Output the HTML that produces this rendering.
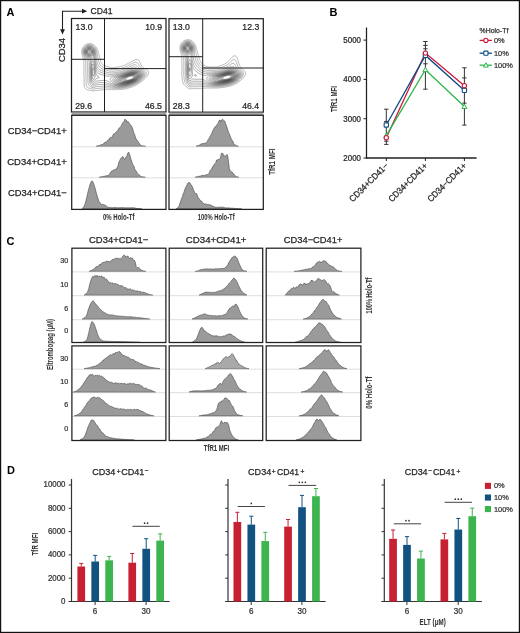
<!DOCTYPE html>
<html><head><meta charset="utf-8"><title>Figure</title>
<style>html,body{margin:0;padding:0;background:#fff;}body{width:520px;height:633px;overflow:hidden;position:relative;font-family:"Liberation Sans",sans-serif;}</style>
</head><body>
<svg width="520" height="633" viewBox="0 0 520 633" style="position:absolute;left:0;top:0;will-change:transform">
<g font-family='"Liberation Sans", sans-serif'>
<defs>
<clipPath id="cb1"><rect x="72" y="19" width="93.5" height="92.5"/></clipPath>
<clipPath id="cb2"><rect x="169.5" y="19" width="93.3" height="92.7"/></clipPath>
</defs>
<rect x="0" y="0" width="520" height="633" fill="#fff" stroke="none" stroke-width="1"/>
<text font-size="11.77" text-anchor="start" fill="#000" transform="translate(6.6 15.8) scale(0.9346 1)" font-weight="bold" >A</text>
<path d="M62.5,30 L62.5,11.2 L83,11.2" fill="none" stroke="#231f20" stroke-width="1.1"/>
<path d="M82,8.8 L87.3,11.2 L82,13.6 Z" fill="#231f20"/>
<path d="M60.1,29.2 L62.5,34.4 L64.9,29.2 Z" fill="#231f20"/>
<text font-size="9.31" text-anchor="start" fill="#231f20" transform="translate(90.6 13.9)" stroke="#231f20" stroke-width="0.25" textLength="22" lengthAdjust="spacingAndGlyphs" >CD41</text>
<text font-size="9.63" text-anchor="start" fill="#231f20" transform="translate(64.8 62) rotate(-90)" stroke="#231f20" stroke-width="0.25" textLength="24" lengthAdjust="spacingAndGlyphs" >CD34</text>
<g fill="none" stroke-width="0.5" clip-path="url(#cb1)">
<path d="M94.5,90.78 L94,90.87 L93.5,90.93 L93,90.95 L92.5,90.92 L92,90.85 L91.52,90.75 L91.25,90.69 L90.75,90.58 L90.36,90.5 L90,90.44 L89.5,90.36 L89,90.29 L88.75,90.25 L88.25,90.16 L87.75,90.05 L87.5,89.98 L87,89.8 L86.75,89.69 L86.41,89.5 L86.05,89.25 L85.76,89 L85.53,88.75 L85.32,88.5 L85.15,88.25 L85,87.99 L84.76,87.5 L84.67,87.25 L84.51,86.75 L84.45,86.5 L84.35,86 L84.28,85.5 L84.25,85.25 L84.21,84.75 L84.18,84.25 L84.16,83.75 L84.15,83.25 L84.14,82.75 L84.14,82.25 L84.14,81.75 L84.13,81.25 L84.13,80.75 L84.13,80.25 L84.12,79.75 L84.11,79.25 L84.1,78.75 L84.09,78.25 L84.07,77.75 L84.05,77.25 L84.02,76.75 L84,76.28 L83.99,76 L83.96,75.5 L83.94,75 L83.93,74.5 L83.91,74 L83.9,73.5 L83.9,73 L83.89,72.5 L83.89,72 L83.89,71.5 L83.89,71 L83.89,70.5 L83.89,70 L83.89,69.5 L83.89,69 L83.89,68.5 L83.89,68 L83.89,67.5 L83.89,67 L83.88,66.5 L83.88,66 L83.88,65.5 L83.88,65 L83.88,64.5 L83.87,64 L83.86,63.5 L83.85,63 L83.83,62.5 L83.81,62 L83.78,61.5 L83.75,61.19 L83.7,60.75 L83.63,60.25 L83.55,59.75 L83.5,59.5 L83.38,59 L83.25,58.52 L83.17,58.25 L83.01,57.75 L82.93,57.5 L82.77,57 L82.68,56.75 L82.52,56.25 L82.43,56 L82.28,55.5 L82.21,55.25 L82.07,54.75 L82,54.44 L81.9,54 L81.81,53.5 L81.75,53 L81.72,52.75 L81.69,52.25 L81.69,51.75 L81.71,51.25 L81.75,50.82 L81.79,50.5 L81.88,50 L82,49.53 L82.08,49.25 L82.25,48.76 L82.35,48.5 L82.5,48.17 L82.71,47.75 L82.85,47.5 L83,47.25 L83.25,46.88 L83.5,46.54 L83.74,46.25 L83.97,46 L84.21,45.75 L84.48,45.5 L84.75,45.27 L85,45.08 L85.25,44.9 L85.5,44.74 L85.91,44.5 L86.25,44.32 L86.5,44.21 L87,44.01 L87.25,43.92 L87.75,43.79 L88,43.73 L88.5,43.64 L89,43.59 L89.5,43.56 L90,43.57 L90.5,43.61 L91,43.68 L91.35,43.75 L91.75,43.84 L92.25,44 L92.5,44.09 L92.88,44.25 L93.25,44.43 L93.5,44.57 L93.78,44.75 L94.13,45 L94.44,45.25 L94.72,45.5 L94.98,45.75 L95.21,46 L95.43,46.25 L95.64,46.5 L95.83,46.75 L96.01,47 L96.25,47.36 L96.49,47.75 L96.64,48 L96.78,48.25 L97,48.69 L97.15,49 L97.26,49.25 L97.48,49.75 L97.58,50 L97.75,50.46 L97.85,50.75 L98,51.2 L98.1,51.5 L98.24,52 L98.32,52.25 L98.45,52.75 L98.51,53 L98.64,53.5 L98.75,53.96 L98.82,54.25 L98.95,54.75 L99.01,55 L99.14,55.5 L99.25,55.94 L99.33,56.25 L99.47,56.75 L99.54,57 L99.68,57.5 L99.75,57.76 L99.89,58.25 L100,58.65 L100.1,59 L100.23,59.5 L100.3,59.75 L100.44,60.25 L100.51,60.5 L100.66,61 L100.75,61.29 L100.9,61.75 L101,62.02 L101.2,62.5 L101.31,62.75 L101.5,63.11 L101.73,63.5 L101.91,63.75 L102.11,64 L102.33,64.25 L102.59,64.5 L102.89,64.75 L103.24,65 L103.5,65.16 L103.75,65.3 L104.14,65.5 L104.5,65.66 L104.75,65.76 L105.25,65.95 L105.5,66.03 L106,66.19 L106.25,66.27 L106.75,66.41 L107.05,66.5 L107.5,66.63 L107.96,66.75 L108.25,66.83 L108.75,66.96 L109,67.02 L109.5,67.14 L109.95,67.25 L110.25,67.31 L110.75,67.41 L111.24,67.5 L111.5,67.54 L112,67.6 L112.5,67.64 L113,67.66 L113.5,67.66 L114,67.64 L114.5,67.6 L115,67.54 L115.33,67.5 L115.75,67.44 L116.25,67.35 L116.75,67.26 L117,67.21 L117.5,67.11 L118,67.01 L118.25,66.96 L118.75,66.85 L119.25,66.75 L119.5,66.7 L120,66.59 L120.4,66.5 L120.75,66.42 L121.25,66.3 L121.5,66.24 L122,66.12 L122.42,66 L122.75,65.9 L123.22,65.75 L123.5,65.65 L123.91,65.5 L124.25,65.37 L124.53,65.25 L125,65.04 L125.25,64.92 L125.61,64.75 L126,64.55 L126.25,64.42 L126.58,64.25 L127,64.02 L127.25,63.89 L127.5,63.75 L127.95,63.5 L128.25,63.33 L128.5,63.19 L128.85,63 L129.25,62.77 L129.5,62.63 L129.75,62.49 L130.19,62.25 L130.5,62.08 L130.75,61.94 L131.09,61.75 L131.5,61.53 L131.75,61.39 L132.02,61.25 L132.5,61 L132.75,60.88 L133.01,60.75 L133.5,60.52 L133.75,60.41 L134.14,60.25 L134.5,60.11 L134.82,60 L135.25,59.87 L135.75,59.76 L136,59.71 L136.5,59.67 L137,59.69 L137.38,59.75 L137.75,59.86 L138.07,60 L138.48,60.25 L138.75,60.48 L139,60.73 L139.22,61 L139.39,61.25 L139.54,61.5 L139.75,61.89 L139.92,62.25 L140.02,62.5 L140.22,63 L140.31,63.25 L140.5,63.75 L140.59,64 L140.75,64.39 L140.9,64.75 L141.02,65 L141.25,65.45 L141.42,65.75 L141.59,66 L141.76,66.25 L142,66.54 L142.25,66.82 L142.5,67.07 L142.75,67.3 L143,67.5 L143.33,67.75 L143.69,68 L144,68.19 L144.25,68.34 L144.53,68.5 L144.98,68.75 L145.25,68.89 L145.5,69.02 L145.92,69.25 L146.25,69.44 L146.5,69.59 L146.75,69.75 L147.09,70 L147.4,70.25 L147.65,70.5 L147.87,70.75 L148.05,71 L148.25,71.35 L148.42,71.75 L148.5,72.07 L148.56,72.5 L148.56,73 L148.5,73.45 L148.44,73.75 L148.28,74.25 L148.18,74.5 L148,74.89 L147.81,75.25 L147.66,75.5 L147.5,75.75 L147.25,76.12 L147,76.46 L146.77,76.75 L146.56,77 L146.34,77.25 L146.12,77.5 L145.88,77.75 L145.64,78 L145.38,78.25 L145.13,78.5 L144.86,78.75 L144.59,79 L144.31,79.25 L144.03,79.5 L143.75,79.74 L143.5,79.96 L143.25,80.17 L143,80.39 L142.75,80.59 L142.5,80.8 L142.25,81 L141.95,81.25 L141.63,81.5 L141.31,81.75 L141,81.98 L140.75,82.17 L140.5,82.36 L140.25,82.53 L139.94,82.75 L139.57,83 L139.25,83.22 L139,83.38 L138.75,83.54 L138.41,83.75 L138,84 L137.75,84.16 L137.5,84.3 L137.16,84.5 L136.75,84.74 L136.5,84.88 L136.25,85.02 L135.81,85.25 L135.5,85.42 L135.25,85.54 L134.83,85.75 L134.5,85.91 L134.25,86.02 L133.75,86.24 L133.5,86.34 L133.11,86.5 L132.75,86.64 L132.46,86.75 L132,86.92 L131.75,87 L131.25,87.18 L131,87.26 L130.5,87.43 L130.25,87.51 L129.75,87.67 L129.49,87.75 L129,87.91 L128.68,88 L128.25,88.13 L127.84,88.25 L127.5,88.35 L127,88.49 L126.75,88.55 L126.25,88.68 L125.95,88.75 L125.5,88.86 L125,88.96 L124.75,89 L124.25,89.1 L123.75,89.17 L123.25,89.24 L123,89.27 L122.5,89.33 L122,89.38 L121.5,89.43 L121,89.47 L120.52,89.5 L120.25,89.52 L119.75,89.55 L119.25,89.57 L118.75,89.59 L118.25,89.6 L117.75,89.61 L117.25,89.62 L116.75,89.62 L116.25,89.61 L115.75,89.61 L115.25,89.6 L114.75,89.6 L114.25,89.59 L113.75,89.59 L113.25,89.58 L112.75,89.58 L112.25,89.57 L111.75,89.57 L111.25,89.57 L110.75,89.57 L110.25,89.57 L109.75,89.58 L109.25,89.58 L108.75,89.59 L108.25,89.6 L107.75,89.62 L107.25,89.63 L106.75,89.65 L106.25,89.67 L105.75,89.69 L105.25,89.72 L104.75,89.74 L104.5,89.76 L104,89.79 L103.5,89.83 L103,89.87 L102.5,89.92 L102,89.96 L101.57,90 L101.25,90.03 L100.75,90.08 L100.25,90.13 L99.75,90.18 L99.25,90.22 L98.94,90.25 L98.5,90.29 L98,90.33 L97.5,90.37 L97,90.4 L96.5,90.45 L96.05,90.5 L95.75,90.54 L95.25,90.63 L94.75,90.73 L94.5,90.78 Z" stroke="#707070"/>
<path d="M94.25,89.04 L93.75,89.14 L93.25,89.2 L92.75,89.2 L92.25,89.13 L91.75,89.01 L91.5,88.94 L91,88.78 L90.75,88.69 L90.25,88.54 L90,88.46 L89.5,88.31 L89.25,88.24 L88.75,88.07 L88.5,87.97 L88.04,87.75 L87.75,87.56 L87.5,87.37 L87.25,87.13 L87,86.82 L86.8,86.5 L86.68,86.25 L86.5,85.8 L86.41,85.5 L86.3,85 L86.25,84.72 L86.19,84.25 L86.15,83.75 L86.12,83.25 L86.1,82.75 L86.09,82.25 L86.08,81.75 L86.08,81.25 L86.07,80.75 L86.07,80.25 L86.06,79.75 L86.05,79.25 L86.04,78.75 L86.03,78.25 L86.01,77.75 L86,77.43 L85.98,77 L85.96,76.5 L85.93,76 L85.91,75.5 L85.89,75 L85.87,74.5 L85.85,74 L85.84,73.5 L85.84,73 L85.83,72.5 L85.83,72 L85.82,71.5 L85.82,71 L85.82,70.5 L85.82,70 L85.82,69.5 L85.82,69 L85.82,68.5 L85.82,68 L85.82,67.5 L85.82,67 L85.82,66.5 L85.82,66 L85.82,65.5 L85.81,65 L85.81,64.5 L85.8,64 L85.78,63.5 L85.76,63 L85.74,62.75 L85.7,62.25 L85.65,61.75 L85.57,61.25 L85.5,60.87 L85.41,60.5 L85.27,60 L85.19,59.75 L85.01,59.25 L84.91,59 L84.75,58.64 L84.58,58.25 L84.46,58 L84.25,57.56 L84.11,57.25 L83.99,57 L83.76,56.5 L83.65,56.25 L83.5,55.88 L83.35,55.5 L83.25,55.22 L83.09,54.75 L83,54.44 L82.88,54 L82.78,53.5 L82.74,53.25 L82.67,52.75 L82.63,52.25 L82.62,51.75 L82.64,51.25 L82.7,50.75 L82.75,50.43 L82.84,50 L82.98,49.5 L83.06,49.25 L83.25,48.78 L83.38,48.5 L83.51,48.25 L83.75,47.83 L83.97,47.5 L84.15,47.25 L84.35,47 L84.57,46.75 L84.81,46.5 L85.08,46.25 L85.38,46 L85.72,45.75 L86,45.56 L86.25,45.42 L86.57,45.25 L87,45.06 L87.25,44.96 L87.75,44.8 L88,44.74 L88.5,44.64 L89,44.59 L89.5,44.57 L90,44.58 L90.5,44.63 L91,44.72 L91.25,44.78 L91.75,44.92 L92,45.01 L92.5,45.23 L92.75,45.35 L93.01,45.5 L93.39,45.75 L93.72,46 L94,46.24 L94.25,46.48 L94.5,46.75 L94.72,47 L94.91,47.25 L95.1,47.5 L95.26,47.75 L95.5,48.14 L95.7,48.5 L95.83,48.75 L96,49.1 L96.17,49.5 L96.27,49.75 L96.45,50.25 L96.54,50.5 L96.69,51 L96.75,51.25 L96.88,51.75 L96.98,52.25 L97.03,52.5 L97.12,53 L97.19,53.5 L97.25,53.91 L97.3,54.25 L97.36,54.75 L97.43,55.25 L97.5,55.75 L97.54,56 L97.62,56.5 L97.71,57 L97.75,57.25 L97.86,57.75 L97.96,58.25 L98.02,58.5 L98.14,59 L98.25,59.46 L98.32,59.75 L98.45,60.25 L98.51,60.5 L98.64,61 L98.75,61.4 L98.85,61.75 L99,62.25 L99.08,62.5 L99.25,63 L99.34,63.25 L99.5,63.63 L99.67,64 L99.8,64.25 L100,64.59 L100.25,64.97 L100.46,65.25 L100.67,65.5 L100.91,65.75 L101.17,66 L101.47,66.25 L101.75,66.46 L102,66.62 L102.25,66.78 L102.65,67 L103,67.17 L103.25,67.29 L103.75,67.49 L104,67.59 L104.45,67.75 L104.75,67.85 L105.23,68 L105.5,68.08 L106,68.23 L106.25,68.3 L106.75,68.44 L107,68.51 L107.5,68.64 L107.92,68.75 L108.25,68.84 L108.75,68.96 L109,69.02 L109.5,69.14 L110,69.24 L110.25,69.29 L110.75,69.38 L111.25,69.46 L111.57,69.5 L112,69.54 L112.5,69.58 L113,69.59 L113.5,69.58 L114,69.56 L114.5,69.52 L114.75,69.49 L115.25,69.43 L115.75,69.35 L116.25,69.27 L116.5,69.23 L117,69.13 L117.5,69.04 L117.75,68.99 L118.25,68.89 L118.75,68.78 L119,68.73 L119.5,68.63 L120,68.52 L120.25,68.47 L120.75,68.36 L121.25,68.25 L121.5,68.19 L122,68.08 L122.3,68 L122.75,67.88 L123.22,67.75 L123.5,67.66 L124,67.5 L124.25,67.41 L124.68,67.25 L125,67.12 L125.3,67 L125.75,66.8 L126,66.68 L126.38,66.5 L126.75,66.32 L127,66.19 L127.37,66 L127.75,65.8 L128,65.66 L128.31,65.5 L128.75,65.26 L129,65.12 L129.25,64.98 L129.67,64.75 L130,64.57 L130.25,64.43 L130.58,64.25 L131,64.02 L131.25,63.89 L131.51,63.75 L131.99,63.5 L132.25,63.36 L132.5,63.24 L133,63 L133.25,62.89 L133.57,62.75 L134,62.58 L134.25,62.49 L134.75,62.35 L135.23,62.25 L135.5,62.22 L136,62.21 L136.27,62.25 L136.75,62.39 L137,62.51 L137.34,62.75 L137.6,63 L137.82,63.25 L138,63.5 L138.25,63.9 L138.45,64.25 L138.58,64.5 L138.75,64.83 L138.97,65.25 L139.1,65.5 L139.25,65.76 L139.5,66.15 L139.74,66.5 L139.94,66.75 L140.15,67 L140.38,67.25 L140.64,67.5 L140.92,67.75 L141.22,68 L141.5,68.22 L141.75,68.4 L142,68.58 L142.25,68.76 L142.61,69 L142.99,69.25 L143.25,69.41 L143.5,69.58 L143.76,69.75 L144.13,70 L144.49,70.25 L144.75,70.45 L145,70.65 L145.25,70.87 L145.5,71.12 L145.75,71.4 L146,71.75 L146.14,72 L146.25,72.25 L146.4,72.75 L146.46,73.25 L146.44,73.75 L146.34,74.25 L146.25,74.57 L146.09,75 L145.98,75.25 L145.75,75.68 L145.56,76 L145.4,76.25 L145.23,76.5 L145,76.81 L144.75,77.13 L144.5,77.43 L144.25,77.72 L144,77.99 L143.75,78.25 L143.51,78.5 L143.26,78.75 L143,79 L142.75,79.24 L142.5,79.47 L142.25,79.7 L142,79.93 L141.75,80.14 L141.5,80.36 L141.25,80.57 L141,80.77 L140.72,81 L140.4,81.25 L140.07,81.5 L139.75,81.74 L139.5,81.92 L139.25,82.09 L139,82.26 L138.64,82.5 L138.25,82.75 L138,82.91 L137.75,83.06 L137.43,83.25 L137,83.5 L136.75,83.65 L136.5,83.78 L136.11,84 L135.75,84.19 L135.5,84.32 L135.15,84.5 L134.75,84.7 L134.5,84.82 L134.1,85 L133.75,85.16 L133.5,85.26 L133,85.47 L132.75,85.57 L132.27,85.75 L132,85.85 L131.58,86 L131.25,86.12 L130.85,86.25 L130.5,86.37 L130.09,86.5 L129.75,86.61 L129.3,86.75 L129,86.84 L128.5,86.99 L128.25,87.07 L127.75,87.21 L127.5,87.28 L127,87.42 L126.68,87.5 L126.25,87.61 L125.75,87.73 L125.5,87.78 L125,87.89 L124.5,87.98 L124.25,88.03 L123.75,88.11 L123.25,88.18 L122.75,88.24 L122.5,88.27 L122,88.33 L121.5,88.37 L121,88.41 L120.5,88.44 L120,88.47 L119.5,88.49 L119.11,88.5 L118.75,88.51 L118.25,88.51 L117.75,88.51 L117.25,88.51 L117,88.5 L116.5,88.48 L116,88.47 L115.5,88.44 L115,88.42 L114.5,88.39 L114,88.36 L113.5,88.32 L113,88.29 L112.5,88.25 L112.25,88.23 L111.75,88.2 L111.25,88.16 L110.75,88.13 L110.25,88.09 L109.75,88.06 L109.25,88.02 L108.86,88 L108.5,87.98 L108,87.96 L107.5,87.93 L107,87.92 L106.5,87.9 L106,87.9 L105.5,87.89 L105,87.9 L104.5,87.91 L104,87.92 L103.5,87.94 L103,87.97 L102.5,88 L102.25,88.02 L101.75,88.05 L101.25,88.09 L100.75,88.14 L100.25,88.18 L99.75,88.23 L99.46,88.25 L99,88.29 L98.5,88.33 L98,88.37 L97.5,88.41 L97,88.46 L96.63,88.5 L96.25,88.55 L95.75,88.65 L95.32,88.75 L95,88.83 L94.5,88.97 L94.25,89.04 Z" stroke="#696969"/>
<path d="M122.25,87.52 L121.75,87.56 L121.25,87.6 L120.75,87.64 L120.25,87.66 L119.75,87.68 L119.25,87.69 L118.75,87.69 L118.25,87.69 L117.75,87.67 L117.25,87.65 L116.75,87.63 L116.25,87.59 L115.75,87.55 L115.25,87.51 L115,87.48 L114.5,87.43 L114,87.37 L113.5,87.3 L113.11,87.25 L112.75,87.2 L112.25,87.13 L111.75,87.05 L111.43,87 L111,86.93 L110.5,86.85 L110,86.77 L109.75,86.73 L109.25,86.65 L108.75,86.57 L108.26,86.5 L108,86.46 L107.5,86.4 L107,86.34 L106.5,86.29 L106.1,86.25 L105.75,86.22 L105.25,86.19 L104.75,86.17 L104.25,86.16 L103.75,86.16 L103.25,86.16 L102.75,86.18 L102.25,86.2 L101.75,86.23 L101.37,86.25 L101,86.28 L100.5,86.31 L100,86.35 L99.5,86.39 L99,86.43 L98.5,86.47 L98.17,86.5 L97.75,86.54 L97.25,86.58 L96.75,86.65 L96.25,86.75 L96,86.81 L95.5,86.96 L95.25,87.05 L94.75,87.24 L94.5,87.33 L94.01,87.5 L93.75,87.57 L93.25,87.64 L92.75,87.64 L92.25,87.54 L92,87.46 L91.5,87.25 L91.25,87.13 L91,87 L90.57,86.75 L90.25,86.55 L90,86.39 L89.75,86.21 L89.48,86 L89.21,85.75 L88.98,85.5 L88.75,85.19 L88.51,84.75 L88.4,84.5 L88.25,84.04 L88.18,83.75 L88.08,83.25 L88.02,82.75 L88,82.5 L87.96,82 L87.93,81.5 L87.92,81 L87.9,80.5 L87.89,80 L87.88,79.5 L87.87,79 L87.86,78.5 L87.84,78 L87.83,77.5 L87.81,77 L87.78,76.5 L87.76,76 L87.75,75.75 L87.72,75.25 L87.7,74.75 L87.68,74.25 L87.67,73.75 L87.66,73.25 L87.65,72.75 L87.65,72.25 L87.64,71.75 L87.64,71.25 L87.64,70.75 L87.64,70.25 L87.64,69.75 L87.64,69.25 L87.64,68.75 L87.64,68.25 L87.64,67.75 L87.64,67.25 L87.64,66.75 L87.64,66.25 L87.64,65.75 L87.64,65.25 L87.63,64.75 L87.62,64.25 L87.61,63.75 L87.58,63.25 L87.55,62.75 L87.5,62.32 L87.45,62 L87.36,61.5 L87.25,61.08 L87.15,60.75 L87,60.37 L86.84,60 L86.71,59.75 L86.5,59.37 L86.28,59 L86.12,58.75 L85.96,58.5 L85.75,58.18 L85.5,57.8 L85.3,57.5 L85.14,57.25 L84.99,57 L84.75,56.6 L84.56,56.25 L84.42,56 L84.25,55.65 L84.07,55.25 L83.97,55 L83.78,54.5 L83.7,54.25 L83.56,53.75 L83.5,53.5 L83.4,53 L83.34,52.5 L83.31,52 L83.32,51.5 L83.36,51 L83.44,50.5 L83.5,50.21 L83.62,49.75 L83.75,49.39 L83.91,49 L84.03,48.75 L84.25,48.35 L84.47,48 L84.65,47.75 L84.84,47.5 L85.06,47.25 L85.31,47 L85.58,46.75 L85.9,46.5 L86.25,46.26 L86.5,46.1 L86.75,45.97 L87.22,45.75 L87.5,45.64 L87.98,45.5 L88.25,45.44 L88.75,45.35 L89.25,45.32 L89.75,45.32 L90.25,45.36 L90.75,45.45 L91,45.51 L91.5,45.65 L91.76,45.75 L92.25,45.97 L92.5,46.1 L92.75,46.25 L93.1,46.5 L93.41,46.75 L93.68,47 L93.92,47.25 L94.14,47.5 L94.33,47.75 L94.51,48 L94.75,48.37 L94.97,48.75 L95.09,49 L95.25,49.34 L95.42,49.75 L95.51,50 L95.68,50.5 L95.75,50.75 L95.88,51.25 L95.98,51.75 L96.02,52 L96.1,52.5 L96.16,53 L96.2,53.5 L96.23,54 L96.25,54.49 L96.26,54.75 L96.28,55.25 L96.3,55.75 L96.32,56.25 L96.35,56.75 L96.38,57.25 L96.43,57.75 L96.49,58.25 L96.52,58.5 L96.59,59 L96.67,59.5 L96.75,59.96 L96.8,60.25 L96.9,60.75 L97,61.25 L97.05,61.5 L97.16,62 L97.25,62.41 L97.33,62.75 L97.46,63.25 L97.53,63.5 L97.69,64 L97.78,64.25 L97.97,64.75 L98.08,65 L98.25,65.35 L98.47,65.75 L98.63,66 L98.8,66.25 L99,66.51 L99.25,66.81 L99.5,67.07 L99.75,67.31 L100,67.53 L100.27,67.75 L100.61,68 L101,68.25 L101.25,68.4 L101.5,68.54 L101.92,68.75 L102.25,68.9 L102.5,69.01 L103,69.21 L103.25,69.3 L103.75,69.47 L104,69.56 L104.5,69.71 L104.75,69.79 L105.25,69.93 L105.5,70 L106,70.14 L106.4,70.25 L106.75,70.34 L107.25,70.47 L107.5,70.54 L108,70.66 L108.38,70.75 L108.75,70.84 L109.25,70.94 L109.53,71 L110,71.09 L110.5,71.17 L111,71.23 L111.25,71.26 L111.75,71.3 L112.25,71.33 L112.75,71.33 L113.25,71.32 L113.75,71.29 L114.25,71.25 L114.5,71.23 L115,71.16 L115.5,71.09 L116,71.01 L116.25,70.97 L116.75,70.87 L117.25,70.78 L117.5,70.73 L118,70.63 L118.5,70.53 L118.75,70.48 L119.25,70.37 L119.75,70.27 L120,70.22 L120.5,70.11 L121,70 L121.25,69.95 L121.75,69.83 L122.11,69.75 L122.5,69.66 L123,69.53 L123.25,69.46 L123.75,69.32 L124,69.24 L124.5,69.08 L124.75,69 L125.25,68.82 L125.5,68.72 L126,68.52 L126.25,68.41 L126.62,68.25 L127,68.08 L127.25,67.96 L127.68,67.75 L128,67.59 L128.25,67.47 L128.69,67.25 L129,67.09 L129.25,66.96 L129.66,66.75 L130,66.58 L130.25,66.45 L130.64,66.25 L131,66.07 L131.25,65.95 L131.66,65.75 L132,65.59 L132.25,65.48 L132.75,65.27 L133,65.17 L133.5,65 L133.75,64.93 L134.25,64.83 L134.75,64.79 L135.25,64.82 L135.75,64.97 L136,65.09 L136.25,65.25 L136.57,65.5 L136.83,65.75 L137.07,66 L137.3,66.25 L137.53,66.5 L137.76,66.75 L138,67 L138.25,67.25 L138.52,67.5 L138.82,67.75 L139.13,68 L139.47,68.25 L139.75,68.44 L140,68.61 L140.25,68.77 L140.61,69 L141,69.24 L141.25,69.4 L141.5,69.55 L141.81,69.75 L142.2,70 L142.5,70.2 L142.75,70.37 L143,70.56 L143.25,70.75 L143.56,71 L143.83,71.25 L144.08,71.5 L144.29,71.75 L144.5,72.04 L144.75,72.49 L144.86,72.75 L144.99,73.25 L145.02,73.5 L145.02,74 L144.99,74.25 L144.88,74.75 L144.75,75.14 L144.6,75.5 L144.48,75.75 L144.25,76.16 L144.04,76.5 L143.87,76.75 L143.69,77 L143.5,77.25 L143.25,77.56 L143,77.85 L142.75,78.13 L142.5,78.4 L142.25,78.66 L142,78.91 L141.75,79.15 L141.5,79.39 L141.25,79.62 L141,79.84 L140.75,80.06 L140.5,80.27 L140.23,80.5 L139.91,80.75 L139.59,81 L139.25,81.25 L139,81.43 L138.75,81.6 L138.5,81.77 L138.15,82 L137.76,82.25 L137.5,82.41 L137.25,82.56 L136.93,82.75 L136.5,82.99 L136.25,83.14 L136,83.27 L135.57,83.5 L135.25,83.67 L135,83.79 L134.57,84 L134.25,84.15 L134,84.27 L133.5,84.49 L133.25,84.6 L132.87,84.75 L132.5,84.9 L132.23,85 L131.75,85.18 L131.5,85.26 L131,85.44 L130.75,85.52 L130.25,85.69 L130,85.77 L129.5,85.92 L129.25,86 L128.75,86.15 L128.4,86.25 L128,86.37 L127.52,86.5 L127.25,86.58 L126.75,86.71 L126.5,86.77 L126,86.89 L125.51,87 L125.25,87.06 L124.75,87.16 L124.25,87.25 L124,87.29 L123.5,87.37 L123,87.43 L122.5,87.49 L122.25,87.52 Z" stroke="#636363"/>
<path d="M119.75,87 L119.25,87 L118.88,87 L118.5,86.99 L118,86.97 L117.5,86.94 L117,86.9 L116.5,86.85 L116,86.8 L115.64,86.75 L115.25,86.69 L114.75,86.61 L114.25,86.53 L114,86.48 L113.5,86.38 L113,86.27 L112.75,86.22 L112.25,86.1 L111.85,86 L111.5,85.91 L111,85.78 L110.75,85.71 L110.25,85.57 L110,85.5 L109.5,85.36 L109.1,85.25 L108.75,85.16 L108.25,85.03 L108,84.96 L107.5,84.85 L107.04,84.75 L106.75,84.69 L106.25,84.6 L105.75,84.53 L105.5,84.5 L105,84.45 L104.5,84.41 L104,84.38 L103.5,84.37 L103,84.36 L102.5,84.37 L102,84.39 L101.5,84.41 L101,84.44 L100.5,84.47 L100.13,84.5 L99.75,84.53 L99.25,84.57 L98.75,84.61 L98.25,84.65 L97.75,84.69 L97.26,84.75 L97,84.79 L96.5,84.89 L96.14,85 L95.75,85.14 L95.5,85.25 L95,85.5 L94.75,85.63 L94.5,85.76 L94,85.98 L93.75,86.06 L93.25,86.16 L92.75,86.13 L92.29,86 L92,85.87 L91.75,85.71 L91.46,85.5 L91.18,85.25 L90.94,85 L90.74,84.75 L90.5,84.42 L90.26,84 L90.14,83.75 L90,83.41 L89.86,83 L89.75,82.55 L89.69,82.25 L89.61,81.75 L89.55,81.25 L89.5,80.75 L89.48,80.5 L89.45,80 L89.42,79.5 L89.39,79 L89.37,78.5 L89.35,78 L89.32,77.5 L89.3,77 L89.27,76.5 L89.25,76 L89.24,75.75 L89.21,75.25 L89.19,74.75 L89.17,74.25 L89.16,73.75 L89.14,73.25 L89.14,72.75 L89.13,72.25 L89.12,71.75 L89.12,71.25 L89.12,70.75 L89.12,70.25 L89.12,69.75 L89.13,69.25 L89.13,68.75 L89.14,68.25 L89.14,67.75 L89.15,67.25 L89.16,66.75 L89.17,66.25 L89.17,65.75 L89.18,65.25 L89.19,64.75 L89.19,64.25 L89.19,63.75 L89.19,63.25 L89.17,62.75 L89.13,62.25 L89.08,61.75 L89,61.33 L88.91,61 L88.75,60.54 L88.61,60.25 L88.47,60 L88.25,59.67 L88,59.34 L87.75,59.05 L87.5,58.77 L87.25,58.5 L87.02,58.25 L86.78,58 L86.56,57.75 L86.34,57.5 L86.12,57.25 L85.92,57 L85.73,56.75 L85.5,56.44 L85.25,56.07 L85.05,55.75 L84.91,55.5 L84.75,55.2 L84.54,54.75 L84.43,54.5 L84.25,54 L84.17,53.75 L84.05,53.25 L84,53 L83.93,52.5 L83.89,52 L83.9,51.5 L83.94,51 L84,50.63 L84.08,50.25 L84.23,49.75 L84.32,49.5 L84.5,49.1 L84.68,48.75 L84.83,48.5 L85,48.25 L85.25,47.93 L85.5,47.64 L85.75,47.39 L86,47.17 L86.25,46.98 L86.59,46.75 L87,46.51 L87.25,46.39 L87.62,46.25 L88,46.13 L88.5,46.01 L88.75,45.98 L89.25,45.94 L89.75,45.94 L90.25,46 L90.5,46.04 L91,46.16 L91.27,46.25 L91.75,46.44 L92,46.57 L92.32,46.75 L92.69,47 L93,47.24 L93.25,47.47 L93.5,47.73 L93.73,48 L93.92,48.25 L94.09,48.5 L94.25,48.76 L94.5,49.22 L94.63,49.5 L94.75,49.79 L94.92,50.25 L95,50.5 L95.14,51 L95.24,51.5 L95.29,51.75 L95.36,52.25 L95.41,52.75 L95.44,53.25 L95.45,53.75 L95.45,54.25 L95.45,54.75 L95.43,55.25 L95.42,55.75 L95.41,56.25 L95.41,56.75 L95.42,57.25 L95.43,57.75 L95.47,58.25 L95.5,58.66 L95.54,59 L95.6,59.5 L95.66,60 L95.73,60.5 L95.77,60.75 L95.85,61.25 L95.93,61.75 L96,62.2 L96.05,62.5 L96.14,63 L96.23,63.5 L96.27,63.75 L96.38,64.25 L96.48,64.75 L96.55,65 L96.68,65.5 L96.75,65.75 L96.92,66.25 L97.01,66.5 L97.23,67 L97.37,67.25 L97.51,67.5 L97.75,67.87 L98,68.19 L98.25,68.47 L98.5,68.72 L98.75,68.95 L99,69.15 L99.25,69.34 L99.5,69.52 L99.85,69.75 L100.25,69.99 L100.5,70.13 L100.75,70.26 L101.25,70.49 L101.5,70.6 L101.85,70.75 L102.25,70.9 L102.51,71 L103,71.17 L103.25,71.25 L103.75,71.4 L104.07,71.5 L104.5,71.62 L104.96,71.75 L105.25,71.83 L105.75,71.96 L106,72.03 L106.5,72.15 L106.91,72.25 L107.25,72.33 L107.75,72.44 L108.03,72.5 L108.5,72.59 L109,72.68 L109.41,72.75 L109.75,72.8 L110.25,72.86 L110.75,72.9 L111.25,72.93 L111.75,72.94 L112.25,72.94 L112.75,72.92 L113.25,72.88 L113.75,72.84 L114.25,72.78 L114.5,72.74 L115,72.66 L115.5,72.58 L115.93,72.5 L116.25,72.44 L116.75,72.34 L117.19,72.25 L117.5,72.19 L118,72.08 L118.38,72 L118.75,71.92 L119.25,71.81 L119.53,71.75 L120,71.65 L120.5,71.53 L120.75,71.48 L121.25,71.36 L121.74,71.25 L122,71.19 L122.5,71.06 L122.75,71 L123.25,70.87 L123.67,70.75 L124,70.65 L124.5,70.5 L124.75,70.42 L125.25,70.25 L125.5,70.16 L125.94,70 L126.25,69.88 L126.58,69.75 L127,69.58 L127.25,69.47 L127.75,69.26 L128,69.15 L128.34,69 L128.75,68.82 L129,68.7 L129.46,68.5 L129.75,68.37 L130.02,68.25 L130.5,68.04 L130.75,67.93 L131.19,67.75 L131.5,67.63 L131.85,67.5 L132.25,67.36 L132.63,67.25 L133,67.15 L133.5,67.07 L134,67.03 L134.5,67.05 L135,67.15 L135.3,67.25 L135.75,67.43 L136,67.56 L136.35,67.75 L136.75,67.98 L137,68.12 L137.25,68.27 L137.66,68.5 L138,68.69 L138.25,68.82 L138.58,69 L139,69.22 L139.25,69.34 L139.55,69.5 L140,69.74 L140.25,69.87 L140.5,70 L140.93,70.25 L141.25,70.44 L141.5,70.6 L141.75,70.76 L142.08,71 L142.4,71.25 L142.68,71.5 L142.94,71.75 L143.16,72 L143.35,72.25 L143.51,72.5 L143.75,73 L143.83,73.25 L143.92,73.75 L143.93,74.25 L143.86,74.75 L143.75,75.14 L143.62,75.5 L143.5,75.78 L143.26,76.25 L143.11,76.5 L142.95,76.75 L142.75,77.03 L142.5,77.37 L142.25,77.68 L142,77.98 L141.76,78.25 L141.52,78.5 L141.28,78.75 L141.03,79 L140.77,79.25 L140.5,79.5 L140.25,79.72 L140,79.94 L139.75,80.14 L139.5,80.35 L139.25,80.54 L138.97,80.75 L138.63,81 L138.27,81.25 L138,81.43 L137.75,81.6 L137.5,81.76 L137.1,82 L136.75,82.21 L136.5,82.36 L136.24,82.5 L135.79,82.75 L135.5,82.91 L135.25,83.03 L134.82,83.25 L134.5,83.41 L134.25,83.53 L133.76,83.75 L133.5,83.87 L133.18,84 L132.75,84.18 L132.5,84.28 L132,84.47 L131.75,84.56 L131.25,84.74 L131,84.83 L130.5,84.99 L130.25,85.07 L129.75,85.23 L129.5,85.31 L129,85.46 L128.75,85.53 L128.25,85.68 L127.99,85.75 L127.5,85.89 L127.06,86 L126.75,86.08 L126.25,86.2 L126,86.26 L125.5,86.37 L125,86.47 L124.75,86.52 L124.25,86.61 L123.75,86.69 L123.3,86.75 L123,86.79 L122.5,86.85 L122,86.89 L121.5,86.93 L121,86.96 L120.5,86.98 L120,87 L119.75,87 Z" stroke="#5c5c5c"/>
<path d="M122.75,86.26 L122.25,86.31 L121.75,86.34 L121.25,86.37 L120.75,86.39 L120.25,86.4 L119.75,86.4 L119.25,86.4 L118.75,86.38 L118.25,86.35 L117.75,86.31 L117.25,86.26 L117,86.23 L116.5,86.16 L116,86.08 L115.59,86 L115.25,85.93 L114.75,85.82 L114.47,85.75 L114,85.63 L113.56,85.5 L113.25,85.4 L112.77,85.25 L112.5,85.15 L112.07,85 L111.75,84.88 L111.43,84.75 L111,84.57 L110.75,84.47 L110.25,84.25 L110,84.14 L109.66,84 L109.25,83.82 L109,83.72 L108.5,83.52 L108.25,83.42 L107.78,83.25 L107.5,83.16 L107,83.01 L106.75,82.94 L106.25,82.82 L105.89,82.75 L105.5,82.68 L105,82.61 L104.5,82.57 L104,82.53 L103.5,82.51 L103,82.51 L102.5,82.51 L102,82.53 L101.5,82.55 L101,82.58 L100.5,82.62 L100,82.65 L99.5,82.69 L99,82.73 L98.75,82.75 L98.25,82.79 L97.75,82.84 L97.25,82.9 L96.78,83 L96.5,83.08 L96.06,83.25 L95.75,83.4 L95.5,83.54 L95.18,83.75 L94.8,84 L94.5,84.2 L94.25,84.35 L93.94,84.5 L93.5,84.65 L93,84.68 L92.5,84.53 L92.25,84.38 L92,84.18 L91.75,83.91 L91.5,83.57 L91.32,83.25 L91.2,83 L91,82.5 L90.92,82.25 L90.79,81.75 L90.73,81.5 L90.64,81 L90.56,80.5 L90.5,80 L90.48,79.75 L90.43,79.25 L90.39,78.75 L90.35,78.25 L90.31,77.75 L90.28,77.25 L90.25,76.81 L90.23,76.5 L90.2,76 L90.17,75.5 L90.14,75 L90.12,74.5 L90.1,74 L90.08,73.5 L90.07,73 L90.06,72.5 L90.05,72 L90.05,71.5 L90.04,71 L90.05,70.5 L90.05,70 L90.05,69.5 L90.06,69 L90.07,68.5 L90.08,68 L90.09,67.5 L90.11,67 L90.13,66.5 L90.14,66 L90.17,65.5 L90.19,65 L90.21,64.5 L90.23,64 L90.25,63.66 L90.27,63.25 L90.28,62.75 L90.29,62.25 L90.29,61.75 L90.26,61.25 L90.24,61 L90.15,60.5 L90,60 L89.89,59.75 L89.75,59.5 L89.5,59.17 L89.25,58.91 L89,58.69 L88.75,58.49 L88.43,58.25 L88.09,58 L87.76,57.75 L87.5,57.55 L87.25,57.34 L87,57.12 L86.75,56.89 L86.5,56.63 L86.25,56.36 L86,56.06 L85.76,55.75 L85.59,55.5 L85.43,55.25 L85.25,54.94 L85.02,54.5 L84.91,54.25 L84.75,53.82 L84.65,53.5 L84.53,53 L84.48,52.75 L84.42,52.25 L84.4,51.75 L84.42,51.25 L84.49,50.75 L84.54,50.5 L84.68,50 L84.77,49.75 L85,49.25 L85.13,49 L85.29,48.75 L85.5,48.45 L85.75,48.14 L86,47.88 L86.25,47.65 L86.5,47.45 L86.79,47.25 L87.23,47 L87.5,46.87 L87.82,46.75 L88.25,46.62 L88.75,46.53 L89.03,46.5 L89.5,46.49 L89.75,46.5 L90.25,46.56 L90.75,46.68 L91,46.75 L91.5,46.95 L91.75,47.08 L92.05,47.25 L92.41,47.5 L92.72,47.75 L92.98,48 L93.21,48.25 L93.41,48.5 L93.59,48.75 L93.75,49 L94,49.46 L94.14,49.75 L94.25,50.02 L94.42,50.5 L94.5,50.78 L94.62,51.25 L94.71,51.75 L94.75,52.08 L94.79,52.5 L94.82,53 L94.83,53.5 L94.82,54 L94.79,54.5 L94.76,55 L94.74,55.25 L94.71,55.75 L94.67,56.25 L94.65,56.75 L94.63,57.25 L94.64,57.75 L94.66,58.25 L94.69,58.75 L94.74,59.25 L94.78,59.5 L94.84,60 L94.92,60.5 L94.99,61 L95.03,61.25 L95.12,61.75 L95.19,62.25 L95.25,62.61 L95.31,63 L95.39,63.5 L95.47,64 L95.51,64.25 L95.59,64.75 L95.68,65.25 L95.75,65.64 L95.82,66 L95.93,66.5 L96,66.84 L96.1,67.25 L96.24,67.75 L96.32,68 L96.49,68.5 L96.59,68.75 L96.75,69.1 L96.96,69.5 L97.12,69.75 L97.3,70 L97.5,70.25 L97.75,70.51 L98.02,70.75 L98.34,71 L98.71,71.25 L99,71.43 L99.25,71.58 L99.57,71.75 L100,71.97 L100.25,72.08 L100.63,72.25 L101,72.41 L101.25,72.5 L101.75,72.69 L102,72.78 L102.5,72.95 L102.75,73.02 L103.25,73.18 L103.5,73.25 L104,73.39 L104.41,73.5 L104.75,73.59 L105.25,73.72 L105.5,73.78 L106,73.89 L106.49,74 L106.75,74.05 L107.25,74.15 L107.75,74.24 L108,74.28 L108.5,74.35 L109,74.4 L109.5,74.45 L110,74.47 L110.5,74.48 L111,74.48 L111.5,74.46 L112,74.42 L112.5,74.37 L113,74.31 L113.42,74.25 L113.75,74.2 L114.25,74.11 L114.75,74.01 L115,73.96 L115.5,73.86 L115.98,73.75 L116.25,73.69 L116.75,73.58 L117.08,73.5 L117.5,73.4 L118,73.28 L118.25,73.22 L118.75,73.1 L119.19,73 L119.5,72.92 L120,72.8 L120.25,72.74 L120.75,72.62 L121.23,72.5 L121.5,72.43 L122,72.3 L122.25,72.24 L122.75,72.1 L123.12,72 L123.5,71.89 L123.97,71.75 L124.25,71.66 L124.75,71.51 L125,71.42 L125.5,71.25 L125.75,71.16 L126.2,71 L126.5,70.89 L126.87,70.75 L127.25,70.6 L127.51,70.5 L128,70.3 L128.25,70.2 L128.75,70 L129,69.9 L129.38,69.75 L129.75,69.6 L130.03,69.5 L130.5,69.32 L130.75,69.24 L131.25,69.07 L131.5,68.99 L132,68.85 L132.43,68.75 L132.75,68.69 L133.25,68.62 L133.75,68.6 L134.25,68.61 L134.75,68.68 L135.1,68.75 L135.5,68.85 L135.99,69 L136.25,69.08 L136.71,69.25 L137,69.35 L137.38,69.5 L137.75,69.64 L138.02,69.75 L138.5,69.94 L138.75,70.05 L139.22,70.25 L139.5,70.38 L139.75,70.5 L140.24,70.75 L140.5,70.89 L140.75,71.04 L141.07,71.25 L141.42,71.5 L141.73,71.75 L142,72 L142.23,72.25 L142.43,72.5 L142.6,72.75 L142.75,73.04 L142.92,73.5 L143,73.9 L143.03,74.25 L143,74.64 L142.94,75 L142.79,75.5 L142.7,75.75 L142.5,76.17 L142.32,76.5 L142.17,76.75 L142,77 L141.75,77.35 L141.5,77.67 L141.25,77.97 L141,78.25 L140.77,78.5 L140.52,78.75 L140.27,79 L140,79.25 L139.75,79.48 L139.5,79.69 L139.25,79.9 L139,80.11 L138.75,80.3 L138.48,80.5 L138.14,80.75 L137.77,81 L137.5,81.18 L137.25,81.34 L137,81.5 L136.59,81.75 L136.25,81.95 L136,82.09 L135.7,82.25 L135.25,82.49 L135,82.62 L134.74,82.75 L134.25,82.99 L134,83.11 L133.69,83.25 L133.25,83.44 L133,83.55 L132.5,83.75 L132.25,83.85 L131.85,84 L131.5,84.13 L131.15,84.25 L130.75,84.39 L130.41,84.5 L130,84.63 L129.62,84.75 L129.25,84.86 L128.78,85 L128.5,85.08 L128,85.22 L127.75,85.29 L127.25,85.42 L126.92,85.5 L126.5,85.6 L126,85.72 L125.75,85.77 L125.25,85.88 L124.75,85.97 L124.5,86.02 L124,86.1 L123.5,86.17 L123,86.23 L122.75,86.26 Z" stroke="#565656"/>
<path d="M122.75,85.75 L122.25,85.79 L121.75,85.83 L121.25,85.85 L120.75,85.86 L120.25,85.86 L119.75,85.85 L119.25,85.83 L118.75,85.8 L118.25,85.75 L118,85.73 L117.5,85.66 L117,85.58 L116.57,85.5 L116.25,85.43 L115.75,85.31 L115.5,85.25 L115,85.1 L114.69,85 L114.25,84.85 L114,84.75 L113.5,84.54 L113.25,84.43 L112.86,84.25 L112.5,84.06 L112.25,83.93 L111.93,83.75 L111.51,83.5 L111.25,83.34 L111,83.17 L110.73,83 L110.36,82.75 L110,82.51 L109.75,82.34 L109.5,82.17 L109.23,82 L108.82,81.75 L108.5,81.56 L108.25,81.43 L107.88,81.25 L107.5,81.08 L107.25,80.99 L106.75,80.82 L106.49,80.75 L106,80.64 L105.5,80.55 L105.05,80.5 L104.75,80.47 L104.25,80.45 L103.75,80.44 L103.25,80.45 L102.75,80.47 L102.26,80.5 L102,80.52 L101.5,80.56 L101,80.6 L100.5,80.65 L100,80.7 L99.5,80.75 L99.25,80.77 L98.75,80.81 L98.25,80.85 L97.75,80.89 L97.25,80.96 L97,81 L96.5,81.15 L96.25,81.26 L95.84,81.5 L95.5,81.74 L95.25,81.95 L95,82.16 L94.75,82.38 L94.5,82.59 L94.25,82.77 L93.86,83 L93.5,83.13 L93,83.12 L92.71,83 L92.4,82.75 L92.19,82.5 L92,82.21 L91.78,81.75 L91.69,81.5 L91.54,81 L91.47,80.75 L91.36,80.25 L91.28,79.75 L91.24,79.5 L91.17,79 L91.11,78.5 L91.05,78 L91,77.5 L90.98,77.25 L90.94,76.75 L90.89,76.25 L90.86,75.75 L90.82,75.25 L90.79,74.75 L90.77,74.25 L90.75,73.9 L90.73,73.5 L90.72,73 L90.7,72.5 L90.69,72 L90.69,71.5 L90.69,71 L90.69,70.5 L90.69,70 L90.7,69.5 L90.71,69 L90.72,68.5 L90.74,68 L90.75,67.75 L90.77,67.25 L90.8,66.75 L90.82,66.25 L90.85,65.75 L90.89,65.25 L90.93,64.75 L90.97,64.25 L91,63.87 L91.03,63.5 L91.08,63 L91.12,62.5 L91.16,62 L91.2,61.5 L91.22,61 L91.22,60.5 L91.18,60 L91.08,59.5 L90.99,59.25 L90.75,58.81 L90.5,58.51 L90.25,58.29 L90,58.12 L89.75,57.96 L89.35,57.75 L89,57.57 L88.75,57.44 L88.4,57.25 L88,57.02 L87.75,56.85 L87.5,56.67 L87.25,56.48 L86.98,56.25 L86.72,56 L86.48,55.75 L86.25,55.48 L86,55.15 L85.75,54.78 L85.59,54.5 L85.46,54.25 L85.25,53.76 L85.16,53.5 L85.02,53 L84.96,52.75 L84.89,52.25 L84.87,51.75 L84.9,51.25 L84.97,50.75 L85.03,50.5 L85.18,50 L85.29,49.75 L85.5,49.32 L85.69,49 L85.87,48.75 L86.08,48.5 L86.31,48.25 L86.59,48 L86.92,47.75 L87.25,47.55 L87.5,47.42 L87.9,47.25 L88.25,47.14 L88.75,47.04 L89.18,47 L89.5,47 L89.75,47.01 L90.25,47.08 L90.75,47.22 L91,47.31 L91.43,47.5 L91.75,47.68 L92,47.84 L92.25,48.04 L92.5,48.26 L92.75,48.51 L93,48.81 L93.25,49.16 L93.45,49.5 L93.58,49.75 L93.75,50.13 L93.89,50.5 L94,50.87 L94.1,51.25 L94.19,51.75 L94.25,52.25 L94.26,52.5 L94.28,53 L94.28,53.5 L94.25,53.97 L94.23,54.25 L94.18,54.75 L94.11,55.25 L94.05,55.75 L94,56.1 L93.95,56.5 L93.89,57 L93.85,57.5 L93.84,58 L93.86,58.5 L93.9,59 L93.97,59.5 L94.01,59.75 L94.1,60.25 L94.2,60.75 L94.25,61 L94.35,61.5 L94.45,62 L94.5,62.26 L94.59,62.75 L94.68,63.25 L94.75,63.68 L94.8,64 L94.89,64.5 L94.97,65 L95.01,65.25 L95.09,65.75 L95.17,66.25 L95.25,66.74 L95.3,67 L95.39,67.5 L95.48,68 L95.53,68.25 L95.64,68.75 L95.75,69.22 L95.82,69.5 L95.96,70 L96.03,70.25 L96.2,70.75 L96.3,71 L96.5,71.46 L96.66,71.75 L96.82,72 L97,72.26 L97.25,72.53 L97.5,72.76 L97.83,73 L98.23,73.25 L98.5,73.39 L98.75,73.52 L99.24,73.75 L99.5,73.87 L99.81,74 L100.25,74.19 L100.5,74.29 L101,74.48 L101.25,74.57 L101.74,74.75 L102,74.84 L102.48,75 L102.75,75.09 L103.25,75.24 L103.5,75.32 L104,75.46 L104.25,75.53 L104.75,75.66 L105.1,75.75 L105.5,75.84 L106,75.95 L106.28,76 L106.75,76.08 L107.25,76.14 L107.75,76.19 L108.25,76.22 L108.75,76.22 L109.25,76.21 L109.75,76.18 L110.25,76.13 L110.75,76.06 L111.15,76 L111.5,75.94 L112,75.84 L112.44,75.75 L112.75,75.68 L113.25,75.56 L113.51,75.5 L114,75.38 L114.49,75.25 L114.75,75.18 L115.25,75.05 L115.5,74.98 L116,74.84 L116.33,74.75 L116.75,74.63 L117.24,74.5 L117.5,74.43 L118,74.29 L118.25,74.23 L118.75,74.09 L119.08,74 L119.5,73.89 L120,73.75 L120.25,73.68 L120.75,73.55 L121,73.48 L121.5,73.34 L121.81,73.25 L122.25,73.12 L122.68,73 L123,72.9 L123.5,72.75 L123.75,72.68 L124.25,72.52 L124.5,72.44 L125,72.27 L125.25,72.18 L125.75,72.01 L126,71.92 L126.47,71.75 L126.75,71.65 L127.14,71.5 L127.5,71.36 L127.81,71.25 L128.25,71.08 L128.5,70.99 L129,70.8 L129.25,70.71 L129.75,70.53 L130,70.44 L130.5,70.28 L130.75,70.2 L131.25,70.05 L131.5,69.99 L132,69.87 L132.5,69.77 L132.75,69.74 L133.25,69.69 L133.75,69.67 L134.25,69.68 L134.75,69.73 L135,69.77 L135.5,69.85 L136,69.96 L136.25,70.02 L136.75,70.15 L137.08,70.25 L137.5,70.38 L137.87,70.5 L138.25,70.63 L138.56,70.75 L139,70.93 L139.25,71.04 L139.69,71.25 L140,71.42 L140.25,71.56 L140.54,71.75 L140.88,72 L141.17,72.25 L141.42,72.5 L141.63,72.75 L141.8,73 L142,73.39 L142.13,73.75 L142.22,74.25 L142.21,74.75 L142.13,75.25 L142,75.67 L141.87,76 L141.75,76.25 L141.5,76.7 L141.31,77 L141.14,77.25 L140.95,77.5 L140.75,77.75 L140.5,78.05 L140.25,78.32 L140,78.59 L139.75,78.84 L139.5,79.07 L139.25,79.3 L139,79.52 L138.72,79.75 L138.41,80 L138.08,80.25 L137.75,80.48 L137.5,80.66 L137.25,80.83 L136.98,81 L136.58,81.25 L136.25,81.45 L136,81.59 L135.72,81.75 L135.27,82 L135,82.14 L134.75,82.27 L134.28,82.5 L134,82.64 L133.75,82.75 L133.25,82.97 L133,83.08 L132.59,83.25 L132.25,83.39 L131.95,83.5 L131.5,83.67 L131.25,83.76 L130.75,83.93 L130.5,84.01 L130,84.17 L129.75,84.25 L129.25,84.4 L128.91,84.5 L128.5,84.62 L128.01,84.75 L127.75,84.82 L127.25,84.95 L127,85.01 L126.5,85.13 L126,85.24 L125.75,85.29 L125.25,85.39 L124.75,85.48 L124.5,85.53 L124,85.6 L123.5,85.67 L123,85.73 L122.75,85.75 Z" stroke="#505050"/>
<path d="M92.25,57.84 L91.77,57.75 L91.5,57.64 L91.17,57.5 L90.75,57.34 L90.49,57.25 L90,57.09 L89.71,57 L89.25,56.85 L88.99,56.75 L88.5,56.54 L88.25,56.41 L87.97,56.25 L87.59,56 L87.26,55.75 L87,55.52 L86.75,55.27 L86.52,55 L86.33,54.75 L86.15,54.5 L86,54.25 L85.75,53.75 L85.65,53.5 L85.5,53.04 L85.43,52.75 L85.35,52.25 L85.32,51.75 L85.35,51.25 L85.43,50.75 L85.5,50.49 L85.67,50 L85.78,49.75 L86,49.36 L86.25,49.01 L86.47,48.75 L86.72,48.5 L87,48.27 L87.25,48.09 L87.5,47.95 L87.92,47.75 L88.25,47.64 L88.75,47.52 L89,47.49 L89.5,47.48 L89.75,47.5 L90.25,47.59 L90.75,47.74 L91,47.84 L91.32,48 L91.72,48.25 L92,48.47 L92.25,48.7 L92.5,48.97 L92.72,49.25 L92.89,49.5 L93.04,49.75 L93.25,50.17 L93.38,50.5 L93.5,50.86 L93.6,51.25 L93.7,51.75 L93.75,52.22 L93.77,52.5 L93.77,53 L93.75,53.5 L93.73,53.75 L93.67,54.25 L93.58,54.75 L93.5,55.14 L93.41,55.5 L93.27,56 L93.2,56.25 L93.02,56.75 L92.92,57 L92.75,57.38 L92.5,57.72 L92.25,57.84 Z" stroke="#494949"/>
<path d="M93.75,81.36 L93.25,81.45 L92.86,81.25 L92.62,81 L92.46,80.75 L92.25,80.31 L92.14,80 L92,79.51 L91.94,79.25 L91.84,78.75 L91.75,78.27 L91.71,78 L91.64,77.5 L91.57,77 L91.51,76.5 L91.49,76.25 L91.44,75.75 L91.39,75.25 L91.35,74.75 L91.32,74.25 L91.29,73.75 L91.27,73.25 L91.25,72.79 L91.24,72.5 L91.23,72 L91.22,71.5 L91.22,71 L91.22,70.5 L91.23,70 L91.24,69.5 L91.25,69.2 L91.27,68.75 L91.29,68.25 L91.31,67.75 L91.35,67.25 L91.38,66.75 L91.42,66.25 L91.47,65.75 L91.5,65.45 L91.55,65 L91.62,64.5 L91.69,64 L91.75,63.6 L91.81,63.25 L91.91,62.75 L92,62.34 L92.09,62 L92.24,61.5 L92.34,61.25 L92.5,60.91 L92.75,60.7 L93,60.81 L93.25,61.15 L93.41,61.5 L93.52,61.75 L93.7,62.25 L93.78,62.5 L93.91,63 L94,63.32 L94.09,63.75 L94.2,64.25 L94.25,64.5 L94.35,65 L94.44,65.5 L94.5,65.86 L94.57,66.25 L94.65,66.75 L94.73,67.25 L94.77,67.5 L94.85,68 L94.94,68.5 L95,68.89 L95.06,69.25 L95.15,69.75 L95.24,70.25 L95.28,70.5 L95.38,71 L95.48,71.5 L95.53,71.75 L95.65,72.25 L95.75,72.7 L95.83,73 L95.98,73.5 L96.06,73.75 L96.24,74.25 L96.35,74.5 L96.5,74.82 L96.75,75.23 L96.96,75.5 L97.21,75.75 L97.5,75.98 L97.75,76.15 L98,76.29 L98.35,76.5 L98.69,76.75 L98.93,77 L99.03,77.25 L98.99,77.5 L98.71,77.75 L98.25,77.92 L97.97,78 L97.5,78.09 L97.02,78.25 L96.75,78.37 L96.5,78.53 L96.23,78.75 L95.98,79 L95.75,79.25 L95.5,79.55 L95.25,79.86 L95,80.18 L94.75,80.49 L94.52,80.75 L94.27,81 L94,81.22 L93.75,81.36 Z" stroke="#494949"/>
<path d="M123,85.26 L122.5,85.3 L122,85.33 L121.5,85.35 L121,85.36 L120.5,85.35 L120,85.34 L119.5,85.31 L119,85.27 L118.75,85.24 L118.25,85.18 L117.75,85.09 L117.27,85 L117,84.94 L116.5,84.81 L116.25,84.74 L115.75,84.58 L115.5,84.48 L115,84.28 L114.75,84.17 L114.4,84 L114,83.78 L113.75,83.63 L113.5,83.47 L113.18,83.25 L112.85,83 L112.55,82.75 L112.27,82.5 L112.01,82.25 L111.78,82 L111.55,81.75 L111.35,81.5 L111.15,81.25 L110.97,81 L110.75,80.65 L110.52,80.25 L110.41,80 L110.28,79.5 L110.3,79 L110.5,78.6 L110.75,78.31 L111,78.09 L111.25,77.91 L111.5,77.75 L111.95,77.5 L112.25,77.35 L112.5,77.23 L113,77 L113.25,76.9 L113.59,76.75 L114,76.59 L114.25,76.49 L114.75,76.3 L115,76.21 L115.5,76.02 L115.75,75.93 L116.25,75.76 L116.5,75.67 L117,75.51 L117.25,75.42 L117.75,75.26 L118,75.18 L118.5,75.02 L118.75,74.95 L119.25,74.79 L119.5,74.71 L120,74.56 L120.25,74.48 L120.75,74.33 L121.02,74.25 L121.5,74.1 L121.83,74 L122.25,73.87 L122.63,73.75 L123,73.63 L123.41,73.5 L123.75,73.39 L124.16,73.25 L124.5,73.14 L124.9,73 L125.25,72.88 L125.61,72.75 L126,72.61 L126.3,72.5 L126.75,72.33 L127,72.24 L127.5,72.06 L127.75,71.97 L128.25,71.78 L128.5,71.69 L129,71.51 L129.25,71.42 L129.75,71.26 L130,71.17 L130.5,71.02 L130.75,70.95 L131.25,70.81 L131.53,70.75 L132,70.65 L132.5,70.57 L133,70.51 L133.25,70.49 L133.75,70.47 L134.25,70.48 L134.52,70.5 L135,70.54 L135.5,70.61 L136,70.7 L136.25,70.75 L136.75,70.87 L137.25,71 L137.5,71.07 L138,71.23 L138.25,71.32 L138.71,71.5 L139,71.63 L139.25,71.75 L139.7,72 L140,72.19 L140.25,72.38 L140.5,72.59 L140.75,72.84 L141,73.15 L141.21,73.5 L141.33,73.75 L141.46,74.25 L141.49,74.75 L141.44,75.25 L141.3,75.75 L141.21,76 L141,76.44 L140.83,76.75 L140.67,77 L140.5,77.25 L140.25,77.59 L140,77.89 L139.75,78.18 L139.5,78.45 L139.25,78.7 L139,78.94 L138.75,79.17 L138.5,79.38 L138.25,79.59 L138,79.79 L137.72,80 L137.38,80.25 L137.01,80.5 L136.75,80.67 L136.5,80.83 L136.23,81 L135.81,81.25 L135.5,81.43 L135.25,81.56 L134.9,81.75 L134.5,81.96 L134.25,82.08 L133.9,82.25 L133.5,82.44 L133.25,82.55 L132.78,82.75 L132.5,82.87 L132.16,83 L131.75,83.16 L131.49,83.25 L131,83.43 L130.75,83.51 L130.25,83.68 L130,83.75 L129.5,83.91 L129.18,84 L128.75,84.13 L128.29,84.25 L128,84.33 L127.5,84.46 L127.25,84.52 L126.75,84.64 L126.25,84.75 L126,84.8 L125.5,84.9 L125,84.99 L124.75,85.04 L124.25,85.11 L123.75,85.18 L123.25,85.24 L123,85.26 Z" stroke="#494949"/>
<path d="M91.75,56.26 L91.25,56.37 L90.75,56.38 L90.25,56.33 L89.75,56.26 L89.5,56.2 L89,56.06 L88.75,55.97 L88.25,55.75 L88,55.61 L87.75,55.45 L87.49,55.25 L87.2,55 L86.96,54.75 L86.74,54.5 L86.5,54.16 L86.26,53.75 L86.14,53.5 L86,53.13 L85.89,52.75 L85.8,52.25 L85.77,51.75 L85.79,51.25 L85.89,50.75 L86,50.38 L86.16,50 L86.29,49.75 L86.5,49.42 L86.75,49.11 L87,48.86 L87.25,48.65 L87.5,48.48 L87.94,48.25 L88.25,48.13 L88.75,48 L89,47.97 L89.5,47.96 L89.87,48 L90.25,48.08 L90.74,48.25 L91,48.37 L91.25,48.52 L91.58,48.75 L91.87,49 L92.11,49.25 L92.32,49.5 L92.5,49.76 L92.75,50.21 L92.88,50.5 L93,50.83 L93.12,51.25 L93.22,51.75 L93.25,52.02 L93.28,52.5 L93.27,53 L93.25,53.28 L93.19,53.75 L93.08,54.25 L93,54.55 L92.84,55 L92.73,55.25 L92.5,55.65 L92.25,55.95 L92,56.14 L91.75,56.26 Z" stroke="#434343"/>
<path d="M93.75,79.25 L93.25,79.31 L93,79.11 L92.77,78.75 L92.66,78.5 L92.5,78.08 L92.41,77.75 L92.29,77.25 L92.24,77 L92.15,76.5 L92.07,76 L92,75.53 L91.97,75.25 L91.91,74.75 L91.87,74.25 L91.83,73.75 L91.8,73.25 L91.77,72.75 L91.75,72.25 L91.75,72 L91.74,71.5 L91.74,71 L91.74,70.5 L91.75,70.21 L91.76,69.75 L91.79,69.25 L91.81,68.75 L91.85,68.25 L91.89,67.75 L91.94,67.25 L92,66.76 L92.04,66.5 L92.12,66 L92.22,65.5 L92.28,65.25 L92.44,64.75 L92.54,64.5 L92.75,64.17 L93.18,64.25 L93.34,64.5 L93.5,64.81 L93.64,65.25 L93.75,65.58 L93.85,66 L93.96,66.5 L94.02,66.75 L94.11,67.25 L94.2,67.75 L94.25,68 L94.33,68.5 L94.41,69 L94.48,69.5 L94.52,69.75 L94.59,70.25 L94.66,70.75 L94.72,71.25 L94.76,71.5 L94.82,72 L94.88,72.5 L94.93,73 L94.98,73.5 L95,73.76 L95.04,74.25 L95.07,74.75 L95.08,75.25 L95.07,75.75 L95.03,76.25 L95,76.52 L94.92,77 L94.79,77.5 L94.71,77.75 L94.5,78.25 L94.37,78.5 L94.22,78.75 L94,79.04 L93.75,79.25 Z" stroke="#434343"/>
<path d="M123.5,84.77 L123,84.82 L122.5,84.85 L122,84.87 L121.5,84.88 L121,84.88 L120.5,84.86 L120,84.83 L119.5,84.78 L119.2,84.75 L118.75,84.69 L118.25,84.6 L117.81,84.5 L117.5,84.42 L117,84.27 L116.75,84.19 L116.26,84 L116,83.89 L115.71,83.75 L115.26,83.5 L115,83.34 L114.75,83.16 L114.5,82.98 L114.23,82.75 L113.97,82.5 L113.74,82.25 L113.5,81.94 L113.25,81.56 L113.09,81.25 L112.98,81 L112.83,80.5 L112.79,80 L112.86,79.5 L113,79.15 L113.25,78.75 L113.46,78.5 L113.71,78.25 L114,78.01 L114.25,77.83 L114.5,77.66 L114.76,77.5 L115.19,77.25 L115.5,77.09 L115.75,76.97 L116.2,76.75 L116.5,76.62 L116.77,76.5 L117.25,76.3 L117.5,76.2 L118,76.01 L118.25,75.91 L118.69,75.75 L119,75.64 L119.38,75.5 L119.75,75.37 L120.1,75.25 L120.5,75.11 L120.83,75 L121.25,74.86 L121.56,74.75 L122,74.6 L122.3,74.5 L122.75,74.35 L123.04,74.25 L123.5,74.09 L123.76,74 L124.25,73.83 L124.5,73.74 L125,73.56 L125.25,73.47 L125.75,73.29 L126,73.2 L126.5,73.01 L126.75,72.92 L127.22,72.75 L127.5,72.64 L127.9,72.5 L128.25,72.37 L128.6,72.25 L129,72.11 L129.33,72 L129.75,71.86 L130.12,71.75 L130.5,71.64 L131,71.51 L131.25,71.44 L131.75,71.34 L132.25,71.25 L132.5,71.22 L133,71.16 L133.5,71.13 L134,71.13 L134.5,71.14 L135,71.18 L135.5,71.25 L135.75,71.28 L136.25,71.37 L136.75,71.48 L137,71.55 L137.5,71.69 L137.75,71.77 L138.25,71.96 L138.5,72.06 L138.89,72.25 L139.25,72.46 L139.5,72.62 L139.75,72.81 L140,73.04 L140.25,73.32 L140.5,73.69 L140.65,74 L140.75,74.37 L140.8,74.75 L140.78,75.25 L140.73,75.5 L140.58,76 L140.48,76.25 L140.25,76.7 L140.07,77 L139.9,77.25 L139.72,77.5 L139.5,77.78 L139.25,78.07 L139,78.34 L138.75,78.6 L138.5,78.84 L138.25,79.06 L138,79.28 L137.73,79.5 L137.41,79.75 L137.06,80 L136.75,80.22 L136.5,80.39 L136.25,80.55 L135.92,80.75 L135.5,81 L135.25,81.14 L135,81.28 L134.59,81.5 L134.25,81.67 L134,81.8 L133.58,82 L133.25,82.15 L133,82.26 L132.5,82.47 L132.25,82.57 L131.79,82.75 L131.5,82.86 L131.11,83 L130.75,83.12 L130.37,83.25 L130,83.37 L129.56,83.5 L129.25,83.59 L128.75,83.73 L128.5,83.8 L128,83.93 L127.74,84 L127.25,84.12 L126.75,84.23 L126.5,84.29 L126,84.39 L125.5,84.49 L125.25,84.53 L124.75,84.62 L124.25,84.69 L123.75,84.75 L123.5,84.77 Z" stroke="#434343"/>
<path d="M91,55.51 L90.5,55.59 L90,55.6 L89.5,55.55 L89.25,55.5 L88.75,55.35 L88.5,55.25 L88.04,55 L87.75,54.8 L87.5,54.59 L87.25,54.34 L87,54.04 L86.8,53.75 L86.65,53.5 L86.5,53.17 L86.35,52.75 L86.25,52.26 L86.22,52 L86.22,51.5 L86.25,51.22 L86.35,50.75 L86.5,50.34 L86.67,50 L86.83,49.75 L87.02,49.5 L87.26,49.25 L87.57,49 L87.98,48.75 L88.25,48.63 L88.69,48.5 L89,48.45 L89.5,48.44 L89.93,48.5 L90.25,48.58 L90.67,48.75 L91,48.93 L91.25,49.1 L91.5,49.31 L91.75,49.57 L92,49.88 L92.23,50.25 L92.36,50.5 L92.5,50.84 L92.63,51.25 L92.73,51.75 L92.76,52 L92.78,52.5 L92.75,52.99 L92.71,53.25 L92.6,53.75 L92.5,54.06 L92.3,54.5 L92.13,54.75 L91.92,55 L91.61,55.25 L91.25,55.43 L91,55.51 Z" stroke="#3d3d3d"/>
<path d="M93.5,76.22 L93.09,76 L92.95,75.75 L92.77,75.25 L92.71,75 L92.61,74.5 L92.53,74 L92.49,73.75 L92.45,73.25 L92.41,72.75 L92.38,72.25 L92.37,71.75 L92.37,71.25 L92.38,70.75 L92.4,70.25 L92.43,69.75 L92.48,69.25 L92.52,69 L92.62,68.5 L92.75,68 L92.93,67.75 L93.13,67.75 L93.32,68 L93.5,68.42 L93.58,68.75 L93.7,69.25 L93.75,69.5 L93.83,70 L93.91,70.5 L93.97,71 L94,71.25 L94.05,71.75 L94.08,72.25 L94.1,72.75 L94.11,73.25 L94.11,73.75 L94.09,74.25 L94.04,74.75 L94,75.04 L93.89,75.5 L93.75,75.91 L93.5,76.22 Z" stroke="#3d3d3d"/>
<path d="M124.25,84.28 L123.75,84.33 L123.25,84.38 L122.75,84.41 L122.25,84.42 L121.75,84.43 L121.25,84.42 L120.75,84.39 L120.25,84.35 L119.75,84.29 L119.47,84.25 L119,84.17 L118.5,84.06 L118.25,83.99 L117.75,83.84 L117.5,83.75 L117,83.54 L116.75,83.42 L116.44,83.25 L116.05,83 L115.75,82.77 L115.5,82.55 L115.25,82.29 L115.01,82 L114.84,81.75 L114.71,81.5 L114.52,81 L114.47,80.75 L114.45,80.25 L114.5,79.91 L114.63,79.5 L114.75,79.25 L115,78.89 L115.25,78.6 L115.5,78.36 L115.75,78.15 L116,77.95 L116.29,77.75 L116.69,77.5 L117,77.33 L117.25,77.19 L117.62,77 L118,76.82 L118.25,76.7 L118.69,76.5 L119,76.37 L119.28,76.25 L119.75,76.06 L120,75.96 L120.5,75.77 L120.75,75.67 L121.2,75.5 L121.5,75.39 L121.87,75.25 L122.25,75.11 L122.54,75 L123,74.83 L123.25,74.74 L123.75,74.56 L124,74.47 L124.5,74.28 L124.75,74.19 L125.25,74 L125.5,73.91 L125.92,73.75 L126.25,73.63 L126.59,73.5 L127,73.35 L127.27,73.25 L127.75,73.07 L128,72.98 L128.5,72.8 L128.75,72.72 L129.25,72.55 L129.5,72.47 L130,72.31 L130.25,72.24 L130.75,72.11 L131.21,72 L131.5,71.94 L132,71.84 L132.5,71.77 L132.75,71.75 L133.25,71.71 L133.75,71.69 L134.25,71.7 L134.75,71.72 L135.03,71.75 L135.5,71.81 L136,71.89 L136.5,71.99 L136.75,72.05 L137.25,72.19 L137.5,72.28 L138,72.47 L138.25,72.58 L138.57,72.75 L138.96,73 L139.25,73.23 L139.5,73.47 L139.73,73.75 L139.88,74 L140,74.27 L140.12,74.75 L140.13,75.25 L140.05,75.75 L139.97,76 L139.77,76.5 L139.64,76.75 L139.49,77 L139.25,77.36 L139,77.69 L138.75,77.99 L138.51,78.25 L138.27,78.5 L138,78.75 L137.75,78.98 L137.5,79.19 L137.25,79.39 L137,79.59 L136.75,79.77 L136.42,80 L136.05,80.25 L135.75,80.44 L135.5,80.59 L135.23,80.75 L134.79,81 L134.5,81.16 L134.25,81.29 L133.82,81.5 L133.5,81.66 L133.25,81.77 L132.75,81.99 L132.5,82.1 L132.13,82.25 L131.75,82.4 L131.48,82.5 L131,82.67 L130.75,82.76 L130.25,82.92 L130,83 L129.5,83.15 L129.16,83.25 L128.75,83.37 L128.25,83.5 L128,83.56 L127.5,83.68 L127.21,83.75 L126.75,83.85 L126.25,83.96 L126,84.01 L125.5,84.1 L125,84.18 L124.5,84.25 L124.25,84.28 Z" stroke="#3d3d3d"/>
<path d="M90.75,54.79 L90.25,54.91 L89.75,54.93 L89.25,54.88 L88.8,54.75 L88.5,54.62 L88.25,54.49 L87.91,54.25 L87.63,54 L87.4,53.75 L87.22,53.5 L87,53.11 L86.85,52.75 L86.75,52.38 L86.69,52 L86.69,51.5 L86.75,51.09 L86.84,50.75 L87,50.38 L87.23,50 L87.44,49.75 L87.71,49.5 L88,49.3 L88.25,49.17 L88.73,49 L89,48.95 L89.5,48.94 L89.87,49 L90.25,49.11 L90.55,49.25 L90.94,49.5 L91.24,49.75 L91.47,50 L91.65,50.25 L91.8,50.5 L92,50.92 L92.11,51.25 L92.22,51.75 L92.25,52.19 L92.25,52.33 L92.22,52.75 L92.12,53.25 L92,53.58 L91.78,54 L91.58,54.25 L91.3,54.5 L91,54.69 L90.75,54.79 Z" stroke="#363636"/>
<path d="M125.25,83.75 L124.75,83.82 L124.25,83.88 L123.75,83.93 L123.25,83.96 L122.75,83.98 L122.25,83.98 L121.75,83.97 L121.25,83.95 L120.75,83.9 L120.25,83.84 L119.75,83.75 L119.5,83.7 L119,83.57 L118.75,83.5 L118.25,83.32 L118,83.22 L117.56,83 L117.25,82.81 L117,82.63 L116.75,82.43 L116.5,82.18 L116.25,81.87 L116.03,81.5 L115.93,81.25 L115.82,80.75 L115.83,80.25 L115.96,79.75 L116.07,79.5 L116.25,79.21 L116.5,78.89 L116.75,78.62 L117,78.39 L117.25,78.19 L117.5,78 L117.87,77.75 L118.25,77.52 L118.5,77.38 L118.75,77.24 L119.21,77 L119.5,76.86 L119.75,76.74 L120.25,76.51 L120.5,76.4 L120.84,76.25 L121.25,76.07 L121.5,75.97 L122,75.77 L122.25,75.66 L122.66,75.5 L123,75.37 L123.29,75.25 L123.75,75.07 L124,74.97 L124.5,74.78 L124.75,74.68 L125.22,74.5 L125.5,74.39 L125.87,74.25 L126.25,74.1 L126.53,74 L127,73.82 L127.25,73.73 L127.75,73.54 L128,73.45 L128.5,73.27 L128.75,73.19 L129.25,73.02 L129.5,72.94 L130,72.79 L130.25,72.72 L130.75,72.59 L131.15,72.5 L131.5,72.43 L132,72.34 L132.5,72.27 L132.75,72.25 L133.25,72.21 L133.75,72.2 L134.25,72.2 L134.75,72.24 L135,72.26 L135.5,72.32 L136,72.41 L136.39,72.5 L136.75,72.6 L137.22,72.75 L137.5,72.86 L137.81,73 L138.25,73.24 L138.5,73.42 L138.75,73.63 L139,73.9 L139.24,74.25 L139.35,74.5 L139.48,75 L139.48,75.5 L139.38,76 L139.25,76.35 L139.07,76.75 L138.92,77 L138.75,77.27 L138.5,77.61 L138.25,77.91 L138,78.19 L137.75,78.45 L137.5,78.68 L137.25,78.91 L137,79.12 L136.75,79.32 L136.5,79.51 L136.16,79.75 L135.79,80 L135.5,80.19 L135.25,80.34 L134.98,80.5 L134.54,80.75 L134.25,80.91 L134,81.04 L133.58,81.25 L133.25,81.41 L133,81.52 L132.5,81.74 L132.25,81.85 L131.86,82 L131.5,82.14 L131.2,82.25 L130.75,82.41 L130.47,82.5 L130,82.65 L129.67,82.75 L129.25,82.87 L128.79,83 L128.5,83.08 L128,83.2 L127.75,83.26 L127.25,83.38 L126.75,83.49 L126.5,83.54 L126,83.63 L125.5,83.72 L125.25,83.75 Z" stroke="#363636"/>
<path d="M89.75,54.27 L89.39,54.25 L89,54.17 L88.57,54 L88.25,53.8 L88,53.59 L87.75,53.32 L87.53,53 L87.41,52.75 L87.25,52.26 L87.21,52 L87.21,51.5 L87.25,51.21 L87.4,50.75 L87.53,50.5 L87.75,50.2 L88,49.96 L88.3,49.75 L88.75,49.56 L89.08,49.5 L89.5,49.49 L89.75,49.54 L90.25,49.71 L90.5,49.86 L90.75,50.04 L91,50.29 L91.25,50.63 L91.44,51 L91.54,51.25 L91.65,51.75 L91.67,52.25 L91.59,52.75 L91.5,53.05 L91.25,53.5 L91.03,53.75 L90.75,53.97 L90.5,54.1 L90,54.24 L89.75,54.27 Z" stroke="#303030"/>
<path d="M124,83.51 L123.5,83.54 L123,83.55 L122.5,83.55 L122,83.53 L121.62,83.5 L121.25,83.46 L120.75,83.39 L120.25,83.29 L120,83.23 L119.5,83.09 L119.24,83 L118.75,82.79 L118.5,82.66 L118.24,82.5 L117.9,82.25 L117.64,82 L117.43,81.75 L117.25,81.44 L117.09,81 L117.04,80.5 L117.13,80 L117.25,79.7 L117.5,79.27 L117.71,79 L117.94,78.75 L118.21,78.5 L118.5,78.26 L118.75,78.08 L119,77.91 L119.25,77.74 L119.65,77.5 L120,77.3 L120.25,77.17 L120.57,77 L121,76.78 L121.25,76.66 L121.6,76.5 L122,76.32 L122.25,76.21 L122.72,76 L123,75.88 L123.3,75.75 L123.75,75.56 L124,75.46 L124.5,75.26 L124.75,75.15 L125.13,75 L125.5,74.85 L125.75,74.75 L126.25,74.55 L126.5,74.45 L127,74.26 L127.25,74.17 L127.69,74 L128,73.89 L128.39,73.75 L128.75,73.62 L129.13,73.5 L129.5,73.38 L129.94,73.25 L130.25,73.16 L130.75,73.04 L131,72.98 L131.5,72.88 L132,72.79 L132.33,72.75 L132.75,72.71 L133.25,72.67 L133.75,72.67 L134.25,72.68 L134.75,72.72 L135.04,72.75 L135.5,72.82 L136,72.92 L136.3,73 L136.75,73.14 L137.03,73.25 L137.5,73.47 L137.75,73.62 L138,73.8 L138.25,74.03 L138.5,74.33 L138.72,74.75 L138.8,75 L138.85,75.5 L138.78,76 L138.71,76.25 L138.5,76.74 L138.36,77 L138.2,77.25 L138,77.54 L137.75,77.85 L137.5,78.13 L137.25,78.38 L137,78.62 L136.75,78.84 L136.5,79.05 L136.25,79.25 L135.91,79.5 L135.55,79.75 L135.25,79.94 L135,80.1 L134.75,80.25 L134.31,80.5 L134,80.67 L133.75,80.8 L133.35,81 L133,81.17 L132.75,81.28 L132.25,81.5 L132,81.6 L131.62,81.75 L131.25,81.89 L130.94,82 L130.5,82.15 L130.19,82.25 L129.75,82.39 L129.36,82.5 L129,82.6 L128.5,82.73 L128.25,82.8 L127.75,82.92 L127.37,83 L127,83.08 L126.5,83.18 L126.08,83.25 L125.75,83.3 L125.25,83.38 L124.75,83.44 L124.25,83.49 L124,83.51 Z" stroke="#303030"/>
<path d="M89.75,53.5 L89.3,53.5 L89,53.43 L88.64,53.25 L88.33,53 L88.13,52.75 L87.98,52.5 L87.84,52 L87.83,51.5 L87.98,51 L88.14,50.75 L88.37,50.5 L88.75,50.26 L89,50.18 L89.5,50.17 L89.83,50.25 L90.25,50.48 L90.5,50.71 L90.71,51 L90.84,51.25 L90.97,51.75 L90.96,52.25 L90.8,52.75 L90.63,53 L90.36,53.25 L90,53.44 L89.75,53.5 Z" stroke="#2a2a2a"/>
<path d="M125,83.03 L124.5,83.07 L124,83.1 L123.5,83.12 L123,83.11 L122.5,83.09 L122,83.05 L121.6,83 L121.25,82.94 L120.75,82.83 L120.47,82.75 L120,82.58 L119.75,82.48 L119.32,82.25 L119,82.02 L118.75,81.8 L118.5,81.5 L118.36,81.25 L118.25,80.92 L118.21,80.5 L118.25,80.18 L118.39,79.75 L118.53,79.5 L118.75,79.18 L119,78.9 L119.25,78.65 L119.5,78.43 L119.75,78.23 L120.07,78 L120.45,77.75 L120.75,77.56 L121,77.42 L121.29,77.25 L121.75,77 L122,76.88 L122.25,76.75 L122.75,76.51 L123,76.39 L123.3,76.25 L123.75,76.05 L124,75.94 L124.43,75.75 L124.75,75.61 L125.01,75.5 L125.5,75.29 L125.75,75.19 L126.21,75 L126.5,74.88 L126.83,74.75 L127.25,74.59 L127.5,74.49 L128,74.3 L128.25,74.21 L128.75,74.04 L129,73.95 L129.5,73.8 L129.75,73.72 L130.25,73.58 L130.57,73.5 L131,73.4 L131.5,73.3 L131.82,73.25 L132.25,73.19 L132.75,73.14 L133.25,73.12 L133.75,73.12 L134.25,73.14 L134.75,73.18 L135.19,73.25 L135.5,73.31 L136,73.44 L136.25,73.52 L136.75,73.72 L137,73.85 L137.25,74 L137.57,74.25 L137.8,74.5 L138,74.81 L138.16,75.25 L138.2,75.75 L138.11,76.25 L138,76.57 L137.79,77 L137.64,77.25 L137.47,77.5 L137.25,77.78 L137,78.06 L136.75,78.32 L136.5,78.56 L136.25,78.78 L135.98,79 L135.65,79.25 L135.3,79.5 L135,79.7 L134.75,79.86 L134.5,80.01 L134.09,80.25 L133.75,80.44 L133.5,80.57 L133.13,80.75 L132.75,80.93 L132.5,81.04 L132.02,81.25 L131.75,81.36 L131.39,81.5 L131,81.64 L130.69,81.75 L130.25,81.9 L129.92,82 L129.5,82.12 L129.05,82.25 L128.75,82.33 L128.25,82.45 L128,82.51 L127.5,82.62 L127,82.73 L126.75,82.77 L126.25,82.86 L125.75,82.93 L125.25,83 L125,83.03 Z" stroke="#2a2a2a"/>
<path d="M89.5,52.29 L89.19,52.25 L88.95,52 L88.97,51.5 L89.25,51.31 L89.72,51.5 L89.82,51.75 L89.75,52.1 L89.5,52.29 Z" stroke="#282828"/>
<path d="M126,82.53 L125.5,82.59 L125,82.64 L124.5,82.67 L124,82.68 L123.5,82.68 L123,82.65 L122.5,82.6 L122,82.53 L121.75,82.48 L121.25,82.34 L120.98,82.25 L120.5,82.04 L120.25,81.89 L120,81.71 L119.75,81.48 L119.5,81.11 L119.37,80.75 L119.35,80.25 L119.5,79.76 L119.64,79.5 L119.8,79.25 L120.01,79 L120.25,78.75 L120.52,78.5 L120.83,78.25 L121.17,78 L121.5,77.78 L121.75,77.62 L122,77.47 L122.38,77.25 L122.75,77.05 L123,76.92 L123.32,76.75 L123.75,76.54 L124,76.42 L124.35,76.25 L124.75,76.07 L125,75.95 L125.46,75.75 L125.75,75.62 L126.03,75.5 L126.5,75.3 L126.75,75.2 L127.24,75 L127.5,74.9 L127.89,74.75 L128.25,74.62 L128.58,74.5 L129,74.36 L129.33,74.25 L129.75,74.12 L130.19,74 L130.5,73.92 L131,73.81 L131.3,73.75 L131.75,73.67 L132.25,73.61 L132.75,73.57 L133.25,73.55 L133.75,73.56 L134.25,73.59 L134.75,73.66 L135.23,73.75 L135.5,73.82 L136,73.99 L136.25,74.1 L136.54,74.25 L136.89,74.5 L137.14,74.75 L137.32,75 L137.5,75.44 L137.55,75.75 L137.5,76.25 L137.43,76.5 L137.25,76.93 L137.07,77.25 L136.9,77.5 L136.71,77.75 L136.49,78 L136.25,78.25 L135.99,78.5 L135.7,78.75 L135.39,79 L135.05,79.25 L134.75,79.45 L134.5,79.62 L134.25,79.77 L133.86,80 L133.5,80.2 L133.25,80.33 L132.91,80.5 L132.5,80.69 L132.25,80.81 L131.8,81 L131.5,81.12 L131.15,81.25 L130.75,81.39 L130.44,81.5 L130,81.64 L129.64,81.75 L129.25,81.86 L128.75,81.99 L128.5,82.05 L128,82.17 L127.62,82.25 L127.25,82.32 L126.75,82.41 L126.25,82.49 L126,82.53 Z" stroke="#282828"/>
<path d="M127,82.01 L126.5,82.08 L126,82.14 L125.5,82.19 L125,82.23 L124.5,82.24 L124,82.23 L123.5,82.2 L123,82.14 L122.5,82.05 L122.25,81.99 L121.75,81.81 L121.5,81.7 L121.16,81.5 L120.86,81.25 L120.66,81 L120.5,80.62 L120.46,80.25 L120.5,79.99 L120.7,79.5 L120.86,79.25 L121.06,79 L121.3,78.75 L121.56,78.5 L121.87,78.25 L122.2,78 L122.5,77.8 L122.75,77.64 L123,77.48 L123.39,77.25 L123.75,77.05 L124,76.92 L124.32,76.75 L124.75,76.54 L125,76.41 L125.34,76.25 L125.75,76.06 L126,75.95 L126.44,75.75 L126.75,75.62 L127.03,75.5 L127.5,75.31 L127.75,75.21 L128.25,75.02 L128.5,74.93 L129,74.75 L129.25,74.67 L129.75,74.52 L130,74.45 L130.5,74.32 L130.81,74.25 L131.25,74.16 L131.75,74.08 L132.25,74.03 L132.61,74 L133,73.99 L133.5,73.99 L133.75,74.01 L134.25,74.06 L134.75,74.15 L135.14,74.25 L135.5,74.38 L135.78,74.5 L136.18,74.75 L136.46,75 L136.65,75.25 L136.78,75.5 L136.87,76 L136.81,76.5 L136.73,76.75 L136.5,77.22 L136.32,77.5 L136.12,77.75 L135.91,78 L135.66,78.25 L135.39,78.5 L135.1,78.75 L134.77,79 L134.5,79.19 L134.25,79.36 L134,79.52 L133.62,79.75 L133.25,79.96 L133,80.09 L132.68,80.25 L132.25,80.45 L132,80.56 L131.56,80.75 L131.25,80.87 L130.9,81 L130.5,81.14 L130.16,81.25 L129.75,81.38 L129.32,81.5 L129,81.58 L128.5,81.71 L128.25,81.76 L127.75,81.87 L127.25,81.96 L127,82.01 Z" stroke="#282828"/>
<path d="M125.75,81.76 L125.25,81.78 L124.75,81.78 L124.25,81.75 L124,81.73 L123.5,81.65 L123,81.53 L122.75,81.44 L122.34,81.25 L122,81.01 L121.78,80.75 L121.65,80.5 L121.6,80 L121.75,79.51 L121.9,79.25 L122.09,79 L122.31,78.75 L122.57,78.5 L122.87,78.25 L123.2,78 L123.5,77.79 L123.75,77.63 L124,77.47 L124.37,77.25 L124.75,77.04 L125,76.9 L125.29,76.75 L125.75,76.52 L126,76.4 L126.3,76.25 L126.75,76.05 L127,75.93 L127.43,75.75 L127.75,75.62 L128.05,75.5 L128.5,75.33 L128.75,75.24 L129.25,75.07 L129.5,74.99 L130,74.85 L130.38,74.75 L130.75,74.67 L131.25,74.57 L131.72,74.5 L132,74.47 L132.5,74.43 L133,74.43 L133.5,74.45 L133.93,74.5 L134.25,74.56 L134.75,74.69 L135,74.79 L135.42,75 L135.74,75.25 L135.95,75.5 L136.08,75.75 L136.17,76.25 L136.09,76.75 L135.99,77 L135.75,77.43 L135.51,77.75 L135.3,78 L135.05,78.25 L134.77,78.5 L134.5,78.72 L134.25,78.91 L134,79.09 L133.75,79.26 L133.35,79.5 L133,79.7 L132.75,79.83 L132.42,80 L132,80.2 L131.75,80.31 L131.29,80.5 L131,80.61 L130.61,80.75 L130.25,80.87 L129.84,81 L129.5,81.1 L129,81.23 L128.75,81.29 L128.25,81.4 L127.77,81.5 L127.5,81.55 L127,81.62 L126.5,81.69 L126,81.74 L125.75,81.76 Z" stroke="#282828"/>
<path d="M126.5,81.26 L126,81.29 L125.5,81.29 L125,81.27 L124.75,81.24 L124.25,81.16 L123.75,81.02 L123.5,80.91 L123.23,80.75 L122.96,80.5 L122.75,80 L122.83,79.5 L123,79.18 L123.25,78.84 L123.5,78.58 L123.75,78.35 L124,78.14 L124.25,77.95 L124.53,77.75 L124.92,77.5 L125.25,77.3 L125.5,77.16 L125.78,77 L126.25,76.75 L126.5,76.63 L126.75,76.5 L127.25,76.27 L127.5,76.16 L127.87,76 L128.25,75.85 L128.5,75.75 L129,75.57 L129.25,75.48 L129.75,75.33 L130.04,75.25 L130.5,75.14 L131,75.03 L131.25,74.99 L131.75,74.93 L132.25,74.89 L132.75,74.89 L133.25,74.92 L133.75,74.99 L134,75.06 L134.5,75.23 L134.75,75.37 L135,75.56 L135.25,75.86 L135.4,76.25 L135.38,76.75 L135.25,77.13 L135.04,77.5 L134.86,77.75 L134.64,78 L134.39,78.25 L134.11,78.5 L133.79,78.75 L133.5,78.95 L133.25,79.12 L133,79.27 L132.6,79.5 L132.25,79.68 L132,79.81 L131.57,80 L131.25,80.14 L130.96,80.25 L130.5,80.42 L130.25,80.5 L129.75,80.65 L129.41,80.75 L129,80.85 L128.5,80.97 L128.25,81.02 L127.75,81.11 L127.25,81.18 L126.75,81.24 L126.5,81.26 Z" stroke="#282828"/>
<path d="M126.75,80.76 L126.25,80.76 L125.92,80.75 L125.5,80.7 L125,80.6 L124.71,80.5 L124.29,80.25 L124.08,80 L124,79.75 L124,79.5 L124.21,79 L124.39,78.75 L124.62,78.5 L124.88,78.25 L125.19,78 L125.5,77.78 L125.75,77.61 L126,77.45 L126.33,77.25 L126.75,77.01 L127,76.89 L127.26,76.75 L127.75,76.52 L128,76.41 L128.38,76.25 L128.75,76.11 L129.04,76 L129.5,75.85 L129.82,75.75 L130.25,75.64 L130.75,75.53 L131,75.48 L131.5,75.42 L132,75.39 L132.5,75.39 L133,75.44 L133.32,75.5 L133.75,75.64 L134,75.77 L134.3,76 L134.5,76.3 L134.58,76.75 L134.5,77.11 L134.31,77.5 L134.14,77.75 L133.92,78 L133.66,78.25 L133.37,78.5 L133.03,78.75 L132.75,78.94 L132.5,79.09 L132.22,79.25 L131.75,79.49 L131.5,79.61 L131.18,79.75 L130.75,79.92 L130.5,80.01 L130,80.18 L129.75,80.25 L129.25,80.38 L128.76,80.5 L128.5,80.55 L128,80.64 L127.5,80.7 L127,80.75 L126.75,80.76 Z" stroke="#282828"/>
<path d="M128.75,80.02 L128.25,80.09 L127.75,80.14 L127.25,80.16 L126.75,80.14 L126.25,80.06 L126,79.98 L125.59,79.75 L125.42,79.5 L125.44,79 L125.56,78.75 L125.75,78.5 L126,78.25 L126.29,78 L126.62,77.75 L127,77.5 L127.25,77.35 L127.5,77.21 L127.9,77 L128.25,76.84 L128.5,76.72 L129,76.52 L129.25,76.43 L129.75,76.27 L130,76.2 L130.5,76.09 L131,76 L131.25,75.97 L131.75,75.95 L132.25,75.97 L132.5,76.01 L133,76.17 L133.25,76.31 L133.5,76.58 L133.61,77 L133.5,77.39 L133.29,77.75 L133.08,78 L132.82,78.25 L132.5,78.5 L132.25,78.67 L132,78.83 L131.71,79 L131.25,79.23 L131,79.34 L130.61,79.5 L130.25,79.63 L129.87,79.75 L129.5,79.85 L129,79.97 L128.75,80.02 Z" stroke="#282828"/>
</g>
<g fill="none" stroke-width="0.5" clip-path="url(#cb2)">
<path d="M191.25,88.71 L190.75,88.76 L190.25,88.78 L189.75,88.75 L189.47,88.7 L189,88.56 L188.73,88.45 L188.26,88.2 L188,88.04 L187.75,87.87 L187.5,87.69 L187.18,87.45 L186.85,87.2 L186.53,86.95 L186.25,86.73 L186,86.53 L185.75,86.33 L185.5,86.13 L185.25,85.92 L185,85.7 L184.73,85.45 L184.48,85.2 L184.25,84.94 L184,84.63 L183.75,84.27 L183.55,83.95 L183.42,83.7 L183.25,83.33 L183.1,82.95 L183,82.66 L182.86,82.2 L182.75,81.78 L182.67,81.45 L182.56,80.95 L182.5,80.62 L182.42,80.2 L182.33,79.7 L182.26,79.2 L182.22,78.95 L182.15,78.45 L182.09,77.95 L182.04,77.45 L182,76.98 L181.98,76.7 L181.95,76.2 L181.93,75.7 L181.91,75.2 L181.9,74.7 L181.9,74.2 L181.89,73.7 L181.89,73.2 L181.89,72.7 L181.89,72.2 L181.89,71.7 L181.89,71.2 L181.89,70.7 L181.89,70.2 L181.89,69.7 L181.89,69.2 L181.89,68.7 L181.89,68.2 L181.89,67.7 L181.89,67.2 L181.89,66.7 L181.89,66.2 L181.89,65.7 L181.89,65.2 L181.89,64.7 L181.89,64.2 L181.89,63.7 L181.89,63.2 L181.88,62.7 L181.88,62.2 L181.88,61.7 L181.88,61.2 L181.88,60.7 L181.87,60.2 L181.86,59.7 L181.85,59.2 L181.83,58.7 L181.81,58.2 L181.77,57.7 L181.75,57.45 L181.69,56.95 L181.62,56.45 L181.54,55.95 L181.49,55.7 L181.37,55.2 L181.25,54.7 L181.18,54.45 L181.04,53.95 L180.97,53.7 L180.83,53.2 L180.75,52.93 L180.61,52.45 L180.5,52.03 L180.41,51.7 L180.29,51.2 L180.24,50.95 L180.14,50.45 L180.06,49.95 L180,49.51 L179.97,49.2 L179.93,48.7 L179.91,48.2 L179.92,47.7 L179.95,47.2 L180,46.81 L180.05,46.45 L180.15,45.95 L180.25,45.6 L180.37,45.2 L180.5,44.85 L180.67,44.45 L180.78,44.2 L181,43.79 L181.2,43.45 L181.36,43.2 L181.54,42.95 L181.75,42.67 L182,42.37 L182.25,42.09 L182.5,41.84 L182.75,41.6 L183,41.39 L183.25,41.19 L183.59,40.95 L183.99,40.7 L184.25,40.55 L184.5,40.42 L184.99,40.2 L185.25,40.1 L185.7,39.95 L186,39.86 L186.5,39.75 L186.84,39.7 L187.25,39.65 L187.75,39.62 L188.25,39.63 L188.75,39.68 L189,39.71 L189.5,39.8 L190,39.94 L190.25,40.02 L190.73,40.2 L191,40.32 L191.27,40.45 L191.72,40.7 L192,40.88 L192.25,41.05 L192.5,41.23 L192.77,41.45 L193.06,41.7 L193.32,41.95 L193.56,42.2 L193.78,42.45 L194,42.72 L194.25,43.05 L194.5,43.42 L194.68,43.7 L194.83,43.95 L195,44.27 L195.21,44.7 L195.33,44.95 L195.5,45.35 L195.64,45.7 L195.75,45.99 L195.92,46.45 L196,46.71 L196.16,47.2 L196.25,47.5 L196.39,47.95 L196.5,48.35 L196.6,48.7 L196.74,49.2 L196.81,49.45 L196.95,49.95 L197.02,50.2 L197.16,50.7 L197.25,51.01 L197.37,51.45 L197.5,51.93 L197.57,52.2 L197.7,52.7 L197.77,52.95 L197.89,53.45 L198,53.88 L198.08,54.2 L198.2,54.7 L198.26,54.95 L198.39,55.45 L198.5,55.9 L198.58,56.2 L198.7,56.7 L198.77,56.95 L198.9,57.45 L199,57.8 L199.12,58.2 L199.25,58.62 L199.36,58.95 L199.5,59.35 L199.63,59.7 L199.75,59.99 L199.95,60.45 L200.07,60.7 L200.25,61.06 L200.46,61.45 L200.6,61.7 L200.75,61.95 L201,62.34 L201.24,62.7 L201.43,62.95 L201.62,63.2 L201.83,63.45 L202.05,63.7 L202.29,63.95 L202.54,64.2 L202.83,64.45 L203.14,64.7 L203.47,64.95 L203.75,65.13 L204,65.29 L204.27,65.45 L204.73,65.7 L205,65.83 L205.26,65.95 L205.75,66.16 L206,66.26 L206.5,66.43 L206.75,66.51 L207.25,66.65 L207.5,66.71 L208,66.81 L208.5,66.89 L209,66.95 L209.25,66.97 L209.75,67 L210.25,67.02 L210.75,67.04 L211.25,67.04 L211.75,67.05 L212.25,67.05 L212.75,67.05 L213.25,67.04 L213.75,67.04 L214.25,67.03 L214.75,67.01 L215.25,66.99 L215.75,66.96 L216,66.93 L216.5,66.88 L217,66.81 L217.5,66.72 L217.75,66.67 L218.25,66.54 L218.58,66.45 L219,66.32 L219.37,66.2 L219.75,66.06 L220.06,65.95 L220.5,65.78 L220.75,65.68 L221.25,65.48 L221.5,65.37 L221.91,65.2 L222.25,65.06 L222.51,64.95 L223,64.74 L223.25,64.63 L223.65,64.45 L224,64.29 L224.25,64.18 L224.71,63.95 L225,63.8 L225.25,63.66 L225.62,63.45 L226,63.21 L226.25,63.04 L226.5,62.86 L226.75,62.67 L227.02,62.45 L227.31,62.2 L227.59,61.95 L227.85,61.7 L228.1,61.45 L228.35,61.2 L228.58,60.95 L228.82,60.7 L229.05,60.45 L229.28,60.2 L229.51,59.95 L229.75,59.69 L230,59.42 L230.25,59.15 L230.5,58.88 L230.75,58.62 L231,58.36 L231.25,58.1 L231.5,57.85 L231.75,57.6 L232,57.36 L232.25,57.13 L232.5,56.91 L232.76,56.7 L233.09,56.45 L233.46,56.2 L233.75,56.04 L234,55.92 L234.5,55.77 L235,55.75 L235.5,55.88 L235.75,56.02 L236,56.21 L236.25,56.46 L236.5,56.78 L236.75,57.17 L236.9,57.45 L237.03,57.7 L237.25,58.19 L237.36,58.45 L237.5,58.81 L237.65,59.2 L237.75,59.5 L237.9,59.95 L238,60.25 L238.14,60.7 L238.25,61.07 L238.36,61.45 L238.5,61.94 L238.57,62.2 L238.71,62.7 L238.78,62.95 L238.92,63.45 L239,63.75 L239.14,64.2 L239.25,64.55 L239.39,64.95 L239.5,65.23 L239.7,65.7 L239.83,65.95 L240,66.27 L240.25,66.68 L240.44,66.95 L240.62,67.2 L240.83,67.45 L241.04,67.7 L241.27,67.95 L241.51,68.2 L241.77,68.45 L242.04,68.7 L242.31,68.95 L242.6,69.2 L242.88,69.45 L243.17,69.7 L243.46,69.95 L243.73,70.2 L243.99,70.45 L244.24,70.7 L244.47,70.95 L244.68,71.2 L244.86,71.45 L245.02,71.7 L245.25,72.15 L245.37,72.45 L245.48,72.95 L245.51,73.2 L245.52,73.7 L245.49,73.95 L245.4,74.45 L245.25,74.9 L245.13,75.2 L245,75.48 L244.75,75.95 L244.6,76.2 L244.43,76.45 L244.25,76.71 L244,77.04 L243.75,77.35 L243.5,77.65 L243.25,77.93 L243,78.2 L242.76,78.45 L242.51,78.7 L242.25,78.95 L242,79.19 L241.75,79.42 L241.5,79.65 L241.25,79.87 L241,80.09 L240.75,80.3 L240.5,80.51 L240.25,80.72 L239.97,80.95 L239.67,81.2 L239.35,81.45 L239.03,81.7 L238.75,81.92 L238.5,82.11 L238.25,82.29 L238,82.47 L237.67,82.7 L237.29,82.95 L237,83.14 L236.75,83.29 L236.48,83.45 L236.03,83.7 L235.75,83.85 L235.5,83.98 L235.05,84.2 L234.75,84.35 L234.5,84.46 L234,84.69 L233.75,84.8 L233.39,84.95 L233,85.12 L232.75,85.22 L232.25,85.41 L232,85.51 L231.5,85.69 L231.25,85.78 L230.75,85.94 L230.5,86.02 L230,86.17 L229.75,86.23 L229.25,86.36 L228.82,86.45 L228.5,86.52 L228,86.62 L227.53,86.7 L227.25,86.75 L226.75,86.84 L226.25,86.92 L226,86.95 L225.5,87.04 L225,87.11 L224.5,87.18 L224.25,87.22 L223.75,87.3 L223.25,87.37 L222.75,87.44 L222.5,87.47 L222,87.54 L221.5,87.6 L221,87.66 L220.67,87.7 L220.25,87.75 L219.75,87.8 L219.25,87.85 L218.75,87.89 L218.25,87.92 L217.84,87.95 L217.5,87.97 L217,88 L216.5,88.02 L216,88.04 L215.5,88.05 L215,88.06 L214.5,88.06 L214,88.06 L213.5,88.05 L213,88.04 L212.5,88.03 L212,88.01 L211.5,88 L211,87.99 L210.5,87.97 L210,87.96 L209.5,87.96 L209,87.96 L208.5,87.96 L208,87.96 L207.5,87.97 L207,87.98 L206.5,88 L206,88.02 L205.5,88.04 L205,88.07 L204.5,88.11 L204,88.15 L203.5,88.19 L203.25,88.21 L202.75,88.26 L202.25,88.3 L201.75,88.34 L201.25,88.38 L200.75,88.42 L200.36,88.45 L200,88.48 L199.5,88.51 L199,88.54 L198.5,88.57 L198,88.6 L197.5,88.62 L197,88.65 L196.5,88.67 L196,88.68 L195.5,88.69 L195,88.69 L194.5,88.68 L194,88.66 L193.5,88.64 L193,88.62 L192.5,88.62 L192,88.64 L191.5,88.68 L191.25,88.71 Z" stroke="#707070"/>
<path d="M217.25,86.96 L216.75,86.98 L216.25,86.99 L215.75,87 L215.25,87 L214.75,87 L214.25,86.99 L213.75,86.97 L213.27,86.95 L213,86.94 L212.5,86.91 L212,86.88 L211.5,86.85 L211,86.81 L210.5,86.78 L210,86.74 L209.5,86.71 L209.25,86.69 L208.75,86.66 L208.25,86.63 L207.75,86.6 L207.25,86.57 L206.75,86.55 L206.25,86.53 L205.75,86.51 L205.25,86.49 L204.75,86.49 L204.25,86.48 L203.75,86.49 L203.25,86.49 L202.75,86.51 L202.25,86.52 L201.75,86.54 L201.25,86.56 L200.75,86.58 L200.25,86.6 L199.75,86.62 L199.25,86.63 L198.75,86.65 L198.25,86.67 L197.75,86.69 L197.5,86.7 L197,86.72 L196.5,86.73 L196,86.74 L195.5,86.75 L195,86.74 L194.5,86.72 L194,86.7 L193.75,86.69 L193.25,86.68 L192.75,86.68 L192.44,86.7 L192,86.74 L191.5,86.82 L191,86.91 L190.75,86.95 L190.25,87 L189.75,86.97 L189.5,86.93 L189,86.76 L188.75,86.64 L188.45,86.45 L188.1,86.2 L187.8,85.95 L187.53,85.7 L187.27,85.45 L187.03,85.2 L186.8,84.95 L186.57,84.7 L186.36,84.45 L186.16,84.2 L185.97,83.95 L185.75,83.65 L185.5,83.25 L185.33,82.95 L185.2,82.7 L185,82.25 L184.88,81.95 L184.75,81.55 L184.65,81.2 L184.52,80.7 L184.46,80.45 L184.36,79.95 L184.26,79.45 L184.22,79.2 L184.14,78.7 L184.07,78.2 L184.01,77.7 L183.99,77.45 L183.94,76.95 L183.9,76.45 L183.87,75.95 L183.85,75.45 L183.84,74.95 L183.83,74.45 L183.82,73.95 L183.82,73.45 L183.81,72.95 L183.81,72.45 L183.81,71.95 L183.81,71.45 L183.81,70.95 L183.81,70.45 L183.81,69.95 L183.81,69.45 L183.81,68.95 L183.81,68.45 L183.81,67.95 L183.81,67.45 L183.81,66.95 L183.81,66.45 L183.81,65.95 L183.81,65.45 L183.81,64.95 L183.81,64.45 L183.81,63.95 L183.81,63.45 L183.81,62.95 L183.81,62.45 L183.81,61.95 L183.81,61.45 L183.8,60.95 L183.79,60.45 L183.78,59.95 L183.76,59.45 L183.75,59.2 L183.71,58.7 L183.67,58.2 L183.6,57.7 L183.51,57.2 L183.46,56.95 L183.33,56.45 L183.25,56.18 L183.09,55.7 L183,55.45 L182.81,54.95 L182.71,54.7 L182.5,54.21 L182.39,53.95 L182.25,53.62 L182.07,53.2 L181.97,52.95 L181.78,52.45 L181.68,52.2 L181.51,51.7 L181.43,51.45 L181.28,50.95 L181.22,50.7 L181.1,50.2 L181.01,49.7 L180.97,49.45 L180.91,48.95 L180.88,48.45 L180.87,47.95 L180.89,47.45 L180.94,46.95 L181,46.61 L181.08,46.2 L181.22,45.7 L181.3,45.45 L181.5,44.95 L181.61,44.7 L181.75,44.43 L182,43.99 L182.19,43.7 L182.37,43.45 L182.57,43.2 L182.78,42.95 L183.02,42.7 L183.28,42.45 L183.56,42.2 L183.89,41.95 L184.25,41.7 L184.5,41.55 L184.75,41.41 L185.2,41.2 L185.5,41.07 L185.87,40.95 L186.25,40.84 L186.75,40.74 L187.04,40.7 L187.5,40.66 L188,40.65 L188.5,40.68 L188.75,40.71 L189.25,40.8 L189.75,40.94 L190,41.02 L190.44,41.2 L190.75,41.35 L191,41.48 L191.36,41.7 L191.73,41.95 L192,42.16 L192.25,42.38 L192.5,42.61 L192.75,42.87 L193,43.15 L193.24,43.45 L193.42,43.7 L193.59,43.95 L193.75,44.21 L194,44.66 L194.15,44.95 L194.26,45.2 L194.47,45.7 L194.57,45.95 L194.74,46.45 L194.82,46.7 L194.96,47.2 L195.02,47.45 L195.14,47.95 L195.24,48.45 L195.29,48.7 L195.38,49.2 L195.46,49.7 L195.5,49.96 L195.58,50.45 L195.65,50.95 L195.72,51.45 L195.76,51.7 L195.84,52.2 L195.92,52.7 L196,53.2 L196.04,53.45 L196.13,53.95 L196.22,54.45 L196.27,54.7 L196.37,55.2 L196.48,55.7 L196.54,55.95 L196.65,56.45 L196.75,56.87 L196.83,57.2 L196.96,57.7 L197.02,57.95 L197.16,58.45 L197.25,58.77 L197.38,59.2 L197.5,59.57 L197.63,59.95 L197.75,60.27 L197.92,60.7 L198.03,60.95 L198.25,61.45 L198.37,61.7 L198.5,61.95 L198.75,62.41 L198.91,62.7 L199.06,62.95 L199.25,63.26 L199.5,63.64 L199.72,63.95 L199.9,64.2 L200.09,64.45 L200.29,64.7 L200.5,64.95 L200.75,65.22 L201,65.47 L201.25,65.71 L201.52,65.95 L201.83,66.2 L202.16,66.45 L202.5,66.68 L202.75,66.84 L203,66.99 L203.37,67.2 L203.75,67.4 L204,67.52 L204.38,67.7 L204.75,67.86 L205,67.97 L205.5,68.15 L205.75,68.24 L206.25,68.4 L206.5,68.47 L207,68.59 L207.5,68.68 L207.75,68.73 L208.25,68.79 L208.75,68.84 L209.25,68.87 L209.75,68.89 L210.25,68.9 L210.75,68.9 L211.25,68.9 L211.75,68.89 L212.25,68.89 L212.75,68.88 L213.25,68.87 L213.75,68.86 L214.25,68.85 L214.75,68.83 L215.25,68.81 L215.75,68.78 L216.25,68.74 L216.63,68.7 L217,68.65 L217.5,68.58 L218,68.48 L218.25,68.43 L218.75,68.3 L219.12,68.2 L219.5,68.09 L219.92,67.95 L220.25,67.84 L220.63,67.7 L221,67.56 L221.29,67.45 L221.75,67.27 L222,67.17 L222.5,66.97 L222.75,66.87 L223.16,66.7 L223.5,66.56 L223.77,66.45 L224.25,66.25 L224.5,66.14 L224.93,65.95 L225.25,65.81 L225.5,65.69 L225.99,65.45 L226.25,65.31 L226.5,65.17 L226.89,64.95 L227.25,64.72 L227.5,64.55 L227.75,64.37 L228,64.18 L228.29,63.95 L228.59,63.7 L228.87,63.45 L229.14,63.2 L229.4,62.95 L229.66,62.7 L229.91,62.45 L230.16,62.2 L230.41,61.95 L230.66,61.7 L230.92,61.45 L231.18,61.2 L231.45,60.95 L231.73,60.7 L232,60.48 L232.25,60.28 L232.5,60.1 L232.75,59.94 L233.2,59.7 L233.5,59.59 L234,59.5 L234.5,59.58 L234.77,59.7 L235.1,59.95 L235.34,60.2 L235.53,60.45 L235.75,60.79 L235.97,61.2 L236.09,61.45 L236.25,61.82 L236.4,62.2 L236.5,62.47 L236.67,62.95 L236.75,63.2 L236.91,63.7 L237,63.96 L237.16,64.45 L237.25,64.7 L237.44,65.2 L237.54,65.45 L237.75,65.89 L237.91,66.2 L238.05,66.45 L238.25,66.77 L238.5,67.12 L238.75,67.44 L238.97,67.7 L239.19,67.95 L239.43,68.2 L239.68,68.45 L239.93,68.7 L240.2,68.95 L240.46,69.2 L240.73,69.45 L241,69.7 L241.25,69.94 L241.5,70.18 L241.75,70.43 L242,70.69 L242.24,70.95 L242.45,71.2 L242.64,71.45 L242.82,71.7 L243,72 L243.23,72.45 L243.33,72.7 L243.47,73.2 L243.5,73.45 L243.53,73.95 L243.5,74.31 L243.44,74.7 L243.3,75.2 L243.2,75.45 L243,75.91 L242.85,76.2 L242.71,76.45 L242.5,76.77 L242.25,77.13 L242.01,77.45 L241.82,77.7 L241.61,77.95 L241.38,78.2 L241.15,78.45 L240.91,78.7 L240.66,78.95 L240.41,79.2 L240.14,79.45 L239.86,79.7 L239.58,79.95 L239.28,80.2 L239,80.43 L238.75,80.64 L238.5,80.84 L238.25,81.03 L238,81.22 L237.68,81.45 L237.33,81.7 L237,81.92 L236.75,82.09 L236.5,82.24 L236.15,82.45 L235.75,82.68 L235.5,82.82 L235.25,82.95 L234.75,83.2 L234.5,83.32 L234.22,83.45 L233.75,83.66 L233.5,83.77 L233.08,83.95 L232.75,84.09 L232.46,84.2 L232,84.38 L231.75,84.47 L231.25,84.65 L231,84.74 L230.5,84.9 L230.25,84.98 L229.75,85.13 L229.47,85.2 L229,85.32 L228.5,85.44 L228.25,85.49 L227.75,85.6 L227.25,85.69 L227,85.74 L226.5,85.83 L226,85.92 L225.75,85.96 L225.25,86.05 L224.75,86.13 L224.26,86.2 L224,86.24 L223.5,86.32 L223,86.39 L222.56,86.45 L222.25,86.49 L221.75,86.56 L221.25,86.62 L220.75,86.68 L220.5,86.71 L220,86.76 L219.5,86.81 L219,86.85 L218.5,86.89 L218,86.92 L217.5,86.95 L217.25,86.96 Z" stroke="#696969"/>
<path d="M216.75,86.21 L216.25,86.21 L215.75,86.21 L215.25,86.21 L214.98,86.2 L214.5,86.18 L214,86.16 L213.5,86.13 L213,86.09 L212.5,86.05 L212,86 L211.55,85.95 L211.25,85.92 L210.75,85.86 L210.25,85.8 L209.75,85.73 L209.5,85.7 L209,85.63 L208.5,85.56 L208,85.5 L207.67,85.45 L207.25,85.39 L206.75,85.32 L206.25,85.26 L205.83,85.2 L205.5,85.16 L205,85.1 L204.5,85.05 L204,85 L203.5,84.96 L203.25,84.94 L202.75,84.92 L202.25,84.89 L201.75,84.88 L201.25,84.87 L200.75,84.86 L200.25,84.86 L199.75,84.86 L199.25,84.86 L198.75,84.86 L198.25,84.87 L197.75,84.88 L197.25,84.89 L196.75,84.89 L196.25,84.9 L195.75,84.9 L195.25,84.89 L194.75,84.88 L194.25,84.86 L193.75,84.84 L193.25,84.83 L192.75,84.86 L192.25,84.93 L192,84.98 L191.5,85.12 L191.22,85.2 L190.75,85.33 L190.25,85.41 L189.75,85.4 L189.25,85.27 L189,85.15 L188.69,84.95 L188.38,84.7 L188.12,84.45 L187.89,84.2 L187.69,83.95 L187.5,83.69 L187.25,83.3 L187.04,82.95 L186.91,82.7 L186.75,82.37 L186.57,81.95 L186.48,81.7 L186.31,81.2 L186.23,80.95 L186.1,80.45 L186,79.98 L185.94,79.7 L185.85,79.2 L185.77,78.7 L185.74,78.45 L185.67,77.95 L185.62,77.45 L185.57,76.95 L185.53,76.45 L185.5,75.95 L185.49,75.7 L185.46,75.2 L185.45,74.7 L185.43,74.2 L185.42,73.7 L185.41,73.2 L185.41,72.7 L185.4,72.2 L185.4,71.7 L185.4,71.2 L185.39,70.7 L185.39,70.2 L185.39,69.7 L185.39,69.2 L185.39,68.7 L185.39,68.2 L185.39,67.7 L185.39,67.2 L185.4,66.7 L185.4,66.2 L185.4,65.7 L185.41,65.2 L185.41,64.7 L185.42,64.2 L185.42,63.7 L185.43,63.2 L185.44,62.7 L185.44,62.2 L185.45,61.7 L185.45,61.2 L185.45,60.7 L185.45,60.2 L185.44,59.7 L185.41,59.2 L185.38,58.7 L185.32,58.2 L185.25,57.75 L185.19,57.45 L185.05,56.95 L184.97,56.7 L184.76,56.2 L184.65,55.95 L184.5,55.66 L184.25,55.2 L184.1,54.95 L183.96,54.7 L183.75,54.36 L183.51,53.95 L183.36,53.7 L183.22,53.45 L183,53.05 L182.82,52.7 L182.69,52.45 L182.5,52.04 L182.35,51.7 L182.25,51.44 L182.07,50.95 L182,50.7 L181.86,50.2 L181.75,49.72 L181.7,49.45 L181.63,48.95 L181.59,48.45 L181.58,47.95 L181.6,47.45 L181.66,46.95 L181.75,46.48 L181.82,46.2 L181.97,45.7 L182.06,45.45 L182.25,45.02 L182.41,44.7 L182.56,44.45 L182.75,44.15 L183,43.81 L183.25,43.51 L183.5,43.24 L183.75,43 L184,42.78 L184.25,42.59 L184.5,42.42 L184.85,42.2 L185.25,41.99 L185.5,41.88 L185.98,41.7 L186.25,41.62 L186.75,41.51 L187.15,41.45 L187.5,41.42 L188,41.41 L188.46,41.45 L188.75,41.49 L189.25,41.59 L189.6,41.7 L190,41.85 L190.25,41.96 L190.71,42.2 L191,42.38 L191.25,42.55 L191.5,42.75 L191.75,42.96 L192,43.2 L192.25,43.47 L192.5,43.76 L192.75,44.09 L192.99,44.45 L193.14,44.7 L193.27,44.95 L193.5,45.42 L193.62,45.7 L193.75,46.04 L193.89,46.45 L194,46.84 L194.1,47.2 L194.2,47.7 L194.25,47.97 L194.33,48.45 L194.39,48.95 L194.43,49.45 L194.46,49.95 L194.48,50.45 L194.49,50.95 L194.5,51.36 L194.5,51.7 L194.5,52.2 L194.51,52.7 L194.51,53.2 L194.53,53.7 L194.55,54.2 L194.59,54.7 L194.63,55.2 L194.7,55.7 L194.75,56.07 L194.81,56.45 L194.91,56.95 L195,57.4 L195.07,57.7 L195.18,58.2 L195.25,58.47 L195.37,58.95 L195.5,59.4 L195.59,59.7 L195.75,60.2 L195.83,60.45 L196,60.92 L196.11,61.2 L196.25,61.55 L196.42,61.95 L196.54,62.2 L196.75,62.63 L196.92,62.95 L197.05,63.2 L197.25,63.55 L197.49,63.95 L197.64,64.2 L197.8,64.45 L198,64.75 L198.25,65.11 L198.5,65.45 L198.69,65.7 L198.89,65.95 L199.1,66.2 L199.33,66.45 L199.56,66.7 L199.82,66.95 L200.09,67.2 L200.38,67.45 L200.69,67.7 L201,67.93 L201.25,68.1 L201.5,68.27 L201.8,68.45 L202.23,68.7 L202.5,68.84 L202.75,68.97 L203.22,69.2 L203.5,69.33 L203.78,69.45 L204.25,69.64 L204.5,69.74 L205,69.92 L205.25,70 L205.75,70.14 L206,70.21 L206.5,70.32 L207,70.4 L207.36,70.45 L207.75,70.49 L208.25,70.53 L208.75,70.55 L209.25,70.56 L209.75,70.55 L210.25,70.55 L210.75,70.53 L211.25,70.52 L211.75,70.5 L212.25,70.48 L212.75,70.46 L213.02,70.45 L213.5,70.43 L214,70.41 L214.5,70.38 L215,70.35 L215.5,70.32 L216,70.28 L216.5,70.23 L216.75,70.2 L217.25,70.13 L217.75,70.04 L218.24,69.95 L218.5,69.89 L219,69.77 L219.28,69.7 L219.75,69.57 L220.14,69.45 L220.5,69.33 L220.9,69.2 L221.25,69.08 L221.61,68.95 L222,68.81 L222.3,68.7 L222.75,68.53 L223,68.44 L223.5,68.25 L223.75,68.15 L224.25,67.96 L224.5,67.86 L224.92,67.7 L225.25,67.57 L225.55,67.45 L226,67.26 L226.25,67.16 L226.72,66.95 L227,66.82 L227.25,66.7 L227.75,66.45 L228,66.31 L228.25,66.17 L228.62,65.95 L229,65.71 L229.25,65.54 L229.5,65.36 L229.75,65.18 L230.06,64.95 L230.39,64.7 L230.72,64.45 L231,64.24 L231.25,64.06 L231.5,63.89 L231.8,63.7 L232.25,63.46 L232.5,63.36 L233,63.24 L233.5,63.27 L233.92,63.45 L234.25,63.7 L234.49,63.95 L234.68,64.2 L234.85,64.45 L235.01,64.7 L235.25,65.11 L235.44,65.45 L235.58,65.7 L235.75,65.97 L236,66.37 L236.23,66.7 L236.42,66.95 L236.62,67.2 L236.84,67.45 L237.07,67.7 L237.32,67.95 L237.59,68.2 L237.86,68.45 L238.15,68.7 L238.45,68.95 L238.75,69.2 L239,69.4 L239.25,69.61 L239.5,69.82 L239.75,70.04 L240,70.26 L240.25,70.49 L240.5,70.73 L240.75,70.99 L241,71.27 L241.25,71.57 L241.5,71.92 L241.68,72.2 L241.81,72.45 L242,72.89 L242.1,73.2 L242.2,73.7 L242.22,74.2 L242.18,74.7 L242.07,75.2 L241.99,75.45 L241.79,75.95 L241.67,76.2 L241.5,76.51 L241.25,76.92 L241.06,77.2 L240.88,77.45 L240.68,77.7 L240.47,77.95 L240.25,78.2 L240,78.47 L239.75,78.73 L239.5,78.98 L239.25,79.21 L238.99,79.45 L238.7,79.7 L238.41,79.95 L238.1,80.2 L237.78,80.45 L237.5,80.66 L237.25,80.84 L237,81.02 L236.74,81.2 L236.35,81.45 L236,81.67 L235.75,81.82 L235.5,81.96 L235.06,82.2 L234.75,82.36 L234.5,82.49 L234.06,82.7 L233.75,82.84 L233.5,82.95 L233,83.17 L232.75,83.27 L232.31,83.45 L232,83.57 L231.66,83.7 L231.25,83.85 L230.96,83.95 L230.5,84.1 L230.19,84.2 L229.75,84.33 L229.33,84.45 L229,84.54 L228.5,84.66 L228.25,84.72 L227.75,84.83 L227.25,84.93 L227,84.98 L226.5,85.08 L226,85.17 L225.75,85.21 L225.25,85.3 L224.75,85.38 L224.32,85.45 L224,85.5 L223.5,85.58 L223,85.65 L222.65,85.7 L222.25,85.76 L221.75,85.82 L221.25,85.88 L220.75,85.94 L220.5,85.97 L220,86.02 L219.5,86.06 L219,86.1 L218.5,86.13 L218,86.16 L217.5,86.18 L217,86.2 L216.75,86.21 Z" stroke="#636363"/>
<path d="M219.25,85.46 L218.75,85.5 L218.25,85.52 L217.75,85.54 L217.25,85.56 L216.75,85.56 L216.25,85.56 L215.75,85.55 L215.25,85.54 L214.75,85.51 L214.25,85.48 L213.87,85.45 L213.5,85.42 L213,85.36 L212.5,85.3 L212,85.23 L211.75,85.19 L211.25,85.11 L210.75,85.03 L210.33,84.95 L210,84.89 L209.5,84.79 L209.09,84.7 L208.75,84.62 L208.25,84.51 L207.98,84.45 L207.5,84.34 L207,84.22 L206.75,84.15 L206.25,84.03 L205.91,83.95 L205.5,83.85 L205,83.73 L204.75,83.68 L204.25,83.57 L203.75,83.48 L203.5,83.43 L203,83.36 L202.5,83.29 L202,83.23 L201.66,83.2 L201.25,83.17 L200.75,83.13 L200.25,83.11 L199.75,83.09 L199.25,83.08 L198.75,83.07 L198.25,83.07 L197.75,83.06 L197.25,83.06 L196.75,83.06 L196.25,83.06 L195.75,83.06 L195.25,83.04 L194.75,83.02 L194.25,83 L193.75,82.98 L193.25,82.99 L192.75,83.05 L192.25,83.16 L192,83.25 L191.5,83.45 L191.25,83.56 L190.9,83.7 L190.5,83.83 L190,83.9 L189.5,83.83 L189.21,83.7 L188.84,83.45 L188.58,83.2 L188.37,82.95 L188.19,82.7 L188,82.4 L187.76,81.95 L187.65,81.7 L187.5,81.31 L187.37,80.95 L187.25,80.53 L187.16,80.2 L187.05,79.7 L187,79.45 L186.91,78.95 L186.83,78.45 L186.76,77.95 L186.73,77.7 L186.67,77.2 L186.62,76.7 L186.58,76.2 L186.55,75.7 L186.52,75.2 L186.5,74.77 L186.49,74.45 L186.47,73.95 L186.45,73.45 L186.43,72.95 L186.42,72.45 L186.41,71.95 L186.4,71.45 L186.4,70.95 L186.39,70.45 L186.39,69.95 L186.39,69.45 L186.39,68.95 L186.39,68.45 L186.39,67.95 L186.4,67.45 L186.4,66.95 L186.41,66.45 L186.42,65.95 L186.43,65.45 L186.44,64.95 L186.45,64.45 L186.47,63.95 L186.49,63.45 L186.5,63.04 L186.51,62.7 L186.53,62.2 L186.55,61.7 L186.57,61.2 L186.59,60.7 L186.6,60.2 L186.61,59.7 L186.62,59.2 L186.61,58.7 L186.59,58.2 L186.54,57.7 L186.5,57.41 L186.4,56.95 L186.25,56.48 L186.13,56.2 L186,55.93 L185.75,55.51 L185.54,55.2 L185.35,54.95 L185.16,54.7 L184.96,54.45 L184.75,54.19 L184.5,53.88 L184.25,53.55 L184,53.21 L183.82,52.95 L183.66,52.7 L183.5,52.45 L183.25,52.02 L183.08,51.7 L182.96,51.45 L182.75,50.95 L182.65,50.7 L182.5,50.22 L182.42,49.95 L182.31,49.45 L182.25,49.09 L182.2,48.7 L182.17,48.2 L182.18,47.7 L182.22,47.2 L182.26,46.95 L182.36,46.45 L182.5,45.98 L182.6,45.7 L182.75,45.36 L182.96,44.95 L183.1,44.7 L183.27,44.45 L183.5,44.14 L183.75,43.85 L184,43.6 L184.25,43.37 L184.5,43.16 L184.8,42.95 L185.22,42.7 L185.5,42.56 L185.75,42.45 L186.25,42.27 L186.51,42.2 L187,42.1 L187.5,42.05 L188,42.05 L188.5,42.09 L189,42.19 L189.25,42.26 L189.75,42.43 L190,42.54 L190.3,42.7 L190.71,42.95 L191,43.16 L191.25,43.37 L191.5,43.6 L191.75,43.86 L192,44.15 L192.22,44.45 L192.39,44.7 L192.54,44.95 L192.75,45.33 L192.92,45.7 L193.03,45.95 L193.2,46.45 L193.28,46.7 L193.41,47.2 L193.5,47.68 L193.54,47.95 L193.6,48.45 L193.64,48.95 L193.66,49.45 L193.65,49.95 L193.63,50.45 L193.59,50.95 L193.54,51.45 L193.5,51.82 L193.45,52.2 L193.38,52.7 L193.31,53.2 L193.25,53.69 L193.22,53.95 L193.17,54.45 L193.14,54.95 L193.13,55.45 L193.14,55.95 L193.17,56.45 L193.22,56.95 L193.25,57.23 L193.32,57.7 L193.4,58.2 L193.5,58.7 L193.55,58.95 L193.66,59.45 L193.75,59.82 L193.85,60.2 L193.99,60.7 L194.06,60.95 L194.22,61.45 L194.31,61.7 L194.5,62.2 L194.6,62.45 L194.75,62.79 L194.94,63.2 L195.07,63.45 L195.25,63.8 L195.47,64.2 L195.62,64.45 L195.76,64.7 L196,65.09 L196.23,65.45 L196.4,65.7 L196.57,65.95 L196.75,66.21 L197,66.55 L197.25,66.88 L197.5,67.19 L197.72,67.45 L197.94,67.7 L198.18,67.95 L198.42,68.2 L198.69,68.45 L198.97,68.7 L199.25,68.94 L199.5,69.14 L199.75,69.32 L200,69.5 L200.3,69.7 L200.7,69.95 L201,70.12 L201.25,70.26 L201.61,70.45 L202,70.64 L202.25,70.76 L202.68,70.95 L203,71.09 L203.29,71.2 L203.75,71.37 L204,71.46 L204.5,71.62 L204.8,71.7 L205.25,71.81 L205.75,71.91 L206,71.95 L206.5,72.02 L207,72.06 L207.5,72.09 L208,72.1 L208.5,72.09 L209,72.07 L209.5,72.05 L210,72.02 L210.5,71.98 L210.9,71.95 L211.25,71.92 L211.75,71.88 L212.25,71.84 L212.75,71.8 L213.25,71.76 L213.75,71.72 L214.03,71.7 L214.5,71.66 L215,71.61 L215.5,71.56 L216,71.5 L216.44,71.45 L216.75,71.41 L217.25,71.33 L217.75,71.24 L218,71.19 L218.5,71.08 L219,70.97 L219.25,70.9 L219.75,70.77 L220,70.7 L220.5,70.55 L220.81,70.45 L221.25,70.31 L221.57,70.2 L222,70.05 L222.31,69.95 L222.75,69.8 L223.03,69.7 L223.5,69.53 L223.75,69.45 L224.25,69.27 L224.5,69.18 L225,69.01 L225.25,68.92 L225.75,68.74 L226,68.65 L226.5,68.47 L226.75,68.38 L227.24,68.2 L227.5,68.1 L227.89,67.95 L228.25,67.8 L228.5,67.7 L229,67.49 L229.25,67.38 L229.67,67.2 L230,67.05 L230.25,66.95 L230.75,66.74 L231,66.64 L231.5,66.49 L231.75,66.43 L232.25,66.36 L232.75,66.39 L233,66.45 L233.5,66.65 L233.75,66.78 L234,66.95 L234.35,67.2 L234.68,67.45 L235,67.7 L235.25,67.89 L235.5,68.09 L235.75,68.27 L236,68.46 L236.34,68.7 L236.69,68.95 L237,69.16 L237.25,69.33 L237.5,69.5 L237.78,69.7 L238.14,69.95 L238.48,70.2 L238.75,70.41 L239,70.61 L239.25,70.82 L239.5,71.04 L239.75,71.28 L240,71.55 L240.25,71.84 L240.5,72.18 L240.68,72.45 L240.81,72.7 L241,73.14 L241.1,73.45 L241.19,73.95 L241.21,74.45 L241.15,74.95 L241.03,75.45 L240.95,75.7 L240.75,76.17 L240.61,76.45 L240.47,76.7 L240.25,77.04 L240,77.4 L239.76,77.7 L239.55,77.95 L239.33,78.2 L239.1,78.45 L238.85,78.7 L238.59,78.95 L238.31,79.2 L238.03,79.45 L237.75,79.68 L237.5,79.88 L237.25,80.08 L237,80.27 L236.74,80.45 L236.38,80.7 L236,80.95 L235.75,81.11 L235.5,81.26 L235.17,81.45 L234.75,81.68 L234.5,81.81 L234.22,81.95 L233.75,82.18 L233.5,82.29 L233.15,82.45 L232.75,82.62 L232.5,82.72 L232,82.92 L231.75,83.02 L231.27,83.2 L231,83.3 L230.55,83.45 L230.25,83.55 L229.75,83.7 L229.5,83.78 L229,83.91 L228.75,83.98 L228.25,84.1 L227.82,84.2 L227.5,84.27 L227,84.38 L226.62,84.45 L226.25,84.52 L225.75,84.61 L225.25,84.7 L225,84.74 L224.5,84.83 L224,84.9 L223.69,84.95 L223.25,85.02 L222.75,85.09 L222.25,85.15 L221.89,85.2 L221.5,85.25 L221,85.31 L220.5,85.36 L220,85.4 L219.5,85.44 L219.25,85.46 Z" stroke="#5c5c5c"/>
<path d="M218.75,84.95 L218.25,84.97 L217.75,84.99 L217.25,84.99 L216.75,84.99 L216.25,84.98 L215.75,84.96 L215.49,84.95 L215,84.92 L214.5,84.88 L214,84.83 L213.5,84.77 L213.04,84.7 L212.75,84.65 L212.25,84.57 L211.75,84.47 L211.5,84.41 L211,84.3 L210.6,84.2 L210.25,84.11 L209.75,83.97 L209.5,83.89 L209,83.74 L208.75,83.66 L208.25,83.49 L208,83.4 L207.5,83.22 L207.25,83.12 L206.79,82.95 L206.5,82.84 L206.15,82.7 L205.75,82.54 L205.5,82.45 L205,82.26 L204.75,82.17 L204.25,82 L204,81.92 L203.5,81.78 L203.2,81.7 L202.75,81.6 L202.25,81.5 L201.92,81.45 L201.5,81.39 L201,81.34 L200.5,81.3 L200,81.27 L199.5,81.25 L199,81.23 L198.5,81.22 L198,81.22 L197.5,81.22 L197,81.21 L196.5,81.21 L196,81.2 L195.75,81.19 L195.25,81.17 L194.75,81.14 L194.25,81.11 L193.75,81.09 L193.25,81.1 L192.75,81.18 L192.5,81.25 L192.04,81.45 L191.75,81.6 L191.5,81.75 L191.17,81.95 L190.75,82.17 L190.5,82.28 L190,82.37 L189.5,82.28 L189.25,82.14 L189,81.93 L188.75,81.64 L188.5,81.24 L188.35,80.95 L188.24,80.7 L188.05,80.2 L187.98,79.95 L187.84,79.45 L187.75,79.07 L187.67,78.7 L187.58,78.2 L187.5,77.7 L187.47,77.45 L187.4,76.95 L187.35,76.45 L187.3,75.95 L187.26,75.45 L187.24,75.2 L187.21,74.7 L187.18,74.2 L187.15,73.7 L187.13,73.2 L187.11,72.7 L187.1,72.2 L187.08,71.7 L187.07,71.2 L187.07,70.7 L187.06,70.2 L187.06,69.7 L187.05,69.2 L187.05,68.7 L187.06,68.2 L187.06,67.7 L187.07,67.2 L187.08,66.7 L187.09,66.2 L187.11,65.7 L187.12,65.2 L187.14,64.7 L187.17,64.2 L187.19,63.7 L187.22,63.2 L187.25,62.7 L187.26,62.45 L187.3,61.95 L187.33,61.45 L187.37,60.95 L187.4,60.45 L187.44,59.95 L187.48,59.45 L187.5,59.04 L187.52,58.7 L187.53,58.2 L187.52,57.7 L187.5,57.37 L187.45,56.95 L187.35,56.45 L187.25,56.15 L187.06,55.7 L186.92,55.45 L186.75,55.2 L186.5,54.88 L186.25,54.6 L186,54.34 L185.75,54.09 L185.5,53.84 L185.25,53.58 L185,53.32 L184.75,53.05 L184.5,52.75 L184.27,52.45 L184.08,52.2 L183.92,51.95 L183.75,51.68 L183.5,51.23 L183.36,50.95 L183.25,50.7 L183.06,50.2 L182.98,49.95 L182.85,49.45 L182.76,48.95 L182.73,48.7 L182.69,48.2 L182.7,47.7 L182.75,47.2 L182.79,46.95 L182.9,46.45 L183,46.13 L183.17,45.7 L183.29,45.45 L183.5,45.06 L183.74,44.7 L183.93,44.45 L184.15,44.2 L184.4,43.95 L184.69,43.7 L185,43.47 L185.25,43.31 L185.5,43.17 L185.97,42.95 L186.25,42.85 L186.75,42.71 L187,42.66 L187.5,42.61 L188,42.61 L188.5,42.66 L188.75,42.71 L189.25,42.85 L189.53,42.95 L190,43.17 L190.25,43.32 L190.5,43.48 L190.78,43.7 L191.06,43.95 L191.31,44.2 L191.53,44.45 L191.75,44.74 L192,45.12 L192.19,45.45 L192.31,45.7 L192.5,46.14 L192.61,46.45 L192.75,46.92 L192.82,47.2 L192.91,47.7 L192.97,48.2 L193,48.56 L193.01,48.95 L193.01,49.45 L193,49.7 L192.95,50.2 L192.89,50.7 L192.8,51.2 L192.75,51.47 L192.65,51.95 L192.52,52.45 L192.46,52.7 L192.33,53.2 L192.25,53.52 L192.15,53.95 L192.04,54.45 L192,54.7 L191.93,55.2 L191.89,55.7 L191.88,56.2 L191.9,56.7 L191.94,57.2 L192,57.7 L192.03,57.95 L192.1,58.45 L192.19,58.95 L192.25,59.33 L192.32,59.7 L192.41,60.2 L192.5,60.67 L192.56,60.95 L192.66,61.45 L192.75,61.85 L192.84,62.2 L192.96,62.7 L193.03,62.95 L193.18,63.45 L193.26,63.7 L193.43,64.2 L193.53,64.45 L193.74,64.95 L193.86,65.2 L194,65.48 L194.25,65.94 L194.41,66.2 L194.56,66.45 L194.75,66.73 L195,67.09 L195.25,67.43 L195.45,67.7 L195.65,67.95 L195.86,68.2 L196.07,68.45 L196.29,68.7 L196.52,68.95 L196.76,69.2 L197.01,69.45 L197.27,69.7 L197.55,69.95 L197.84,70.2 L198.15,70.45 L198.48,70.7 L198.75,70.89 L199,71.07 L199.25,71.23 L199.61,71.45 L200,71.68 L200.25,71.81 L200.51,71.95 L201,72.19 L201.25,72.31 L201.56,72.45 L202,72.63 L202.25,72.73 L202.75,72.92 L203,73 L203.5,73.16 L203.75,73.23 L204.25,73.35 L204.75,73.45 L205,73.49 L205.5,73.55 L206,73.58 L206.5,73.6 L207,73.59 L207.5,73.57 L208,73.53 L208.5,73.49 L208.83,73.45 L209.25,73.4 L209.75,73.34 L210.25,73.27 L210.75,73.2 L211,73.17 L211.5,73.1 L212,73.03 L212.5,72.97 L212.75,72.94 L213.25,72.87 L213.75,72.81 L214.25,72.74 L214.59,72.7 L215,72.64 L215.5,72.57 L216,72.5 L216.31,72.45 L216.75,72.38 L217.25,72.28 L217.68,72.2 L218,72.13 L218.5,72.02 L218.79,71.95 L219.25,71.83 L219.73,71.7 L220,71.62 L220.5,71.47 L220.75,71.4 L221.25,71.24 L221.5,71.16 L222,71 L222.25,70.91 L222.75,70.75 L223,70.66 L223.5,70.5 L223.75,70.41 L224.25,70.25 L224.5,70.16 L225,70 L225.25,69.92 L225.75,69.76 L226,69.68 L226.5,69.51 L226.75,69.43 L227.25,69.27 L227.5,69.2 L228,69.04 L228.28,68.95 L228.75,68.8 L229.09,68.7 L229.5,68.57 L229.95,68.45 L230.25,68.37 L230.75,68.26 L231.13,68.2 L231.5,68.16 L232,68.14 L232.5,68.18 L232.75,68.22 L233.25,68.35 L233.54,68.45 L234,68.63 L234.25,68.74 L234.68,68.95 L235,69.11 L235.25,69.24 L235.65,69.45 L236,69.64 L236.25,69.78 L236.55,69.95 L236.98,70.2 L237.25,70.36 L237.5,70.52 L237.77,70.7 L238.12,70.95 L238.45,71.2 L238.75,71.45 L239,71.69 L239.25,71.94 L239.47,72.2 L239.66,72.45 L239.82,72.7 L240,73.03 L240.18,73.45 L240.25,73.71 L240.33,74.2 L240.34,74.7 L240.27,75.2 L240.21,75.45 L240.04,75.95 L239.94,76.2 L239.75,76.56 L239.52,76.95 L239.35,77.2 L239.16,77.45 L238.96,77.7 L238.75,77.95 L238.5,78.22 L238.25,78.48 L238,78.72 L237.75,78.95 L237.47,79.2 L237.17,79.45 L236.86,79.7 L236.52,79.95 L236.25,80.15 L236,80.32 L235.75,80.48 L235.41,80.7 L235,80.94 L234.75,81.09 L234.5,81.22 L234.06,81.45 L233.75,81.61 L233.5,81.73 L233.01,81.95 L232.75,82.06 L232.43,82.2 L232,82.38 L231.75,82.47 L231.25,82.66 L231,82.75 L230.5,82.93 L230.25,83.01 L229.75,83.17 L229.5,83.24 L229,83.38 L228.75,83.45 L228.25,83.58 L227.75,83.7 L227.5,83.75 L227,83.86 L226.54,83.95 L226.25,84.01 L225.75,84.1 L225.25,84.19 L225,84.23 L224.5,84.32 L224,84.39 L223.61,84.45 L223.25,84.5 L222.75,84.57 L222.25,84.64 L221.75,84.7 L221.5,84.73 L221,84.78 L220.5,84.83 L220,84.87 L219.5,84.91 L219,84.94 L218.75,84.95 Z" stroke="#565656"/>
<path d="M218.75,84.46 L218.25,84.47 L217.75,84.48 L217.25,84.48 L216.75,84.46 L216.37,84.45 L216,84.43 L215.5,84.4 L215,84.35 L214.5,84.3 L214,84.23 L213.75,84.19 L213.25,84.1 L212.75,84 L212.5,83.94 L212,83.82 L211.58,83.7 L211.25,83.6 L210.78,83.45 L210.5,83.35 L210.09,83.2 L209.75,83.06 L209.48,82.95 L209,82.73 L208.75,82.61 L208.43,82.45 L208,82.22 L207.75,82.08 L207.5,81.94 L207.1,81.7 L206.75,81.49 L206.5,81.33 L206.25,81.17 L205.9,80.95 L205.5,80.7 L205.25,80.55 L205,80.4 L204.63,80.2 L204.25,80 L204,79.89 L203.53,79.7 L203.25,79.6 L202.75,79.46 L202.5,79.4 L202,79.31 L201.5,79.25 L201,79.22 L200.5,79.2 L200.25,79.2 L199.75,79.2 L199.5,79.2 L199,79.21 L198.5,79.22 L198,79.24 L197.5,79.25 L197,79.26 L196.5,79.26 L196,79.24 L195.5,79.22 L195.25,79.2 L194.75,79.14 L194.25,79.07 L193.75,79.01 L193.25,78.99 L192.75,79.07 L192.43,79.2 L192.02,79.45 L191.75,79.66 L191.5,79.88 L191.25,80.09 L191,80.3 L190.75,80.48 L190.27,80.7 L190,80.74 L189.73,80.7 L189.33,80.45 L189.1,80.2 L188.94,79.95 L188.75,79.59 L188.6,79.2 L188.5,78.93 L188.36,78.45 L188.25,77.98 L188.19,77.7 L188.1,77.2 L188.02,76.7 L187.98,76.45 L187.92,75.95 L187.87,75.45 L187.82,74.95 L187.78,74.45 L187.75,74.09 L187.72,73.7 L187.69,73.2 L187.67,72.7 L187.65,72.2 L187.63,71.7 L187.61,71.2 L187.6,70.7 L187.59,70.2 L187.59,69.7 L187.59,69.2 L187.59,68.7 L187.59,68.2 L187.6,67.7 L187.61,67.2 L187.62,66.7 L187.64,66.2 L187.66,65.7 L187.69,65.2 L187.71,64.7 L187.75,64.2 L187.76,63.95 L187.8,63.45 L187.84,62.95 L187.89,62.45 L187.94,61.95 L187.99,61.45 L188.02,61.2 L188.09,60.7 L188.15,60.2 L188.22,59.7 L188.25,59.45 L188.33,58.95 L188.39,58.45 L188.45,57.95 L188.48,57.45 L188.48,56.95 L188.42,56.45 L188.29,55.95 L188.19,55.7 L188,55.34 L187.75,54.97 L187.53,54.7 L187.29,54.45 L187.02,54.2 L186.75,53.96 L186.5,53.76 L186.25,53.55 L186,53.35 L185.75,53.13 L185.5,52.91 L185.25,52.67 L185,52.41 L184.75,52.13 L184.5,51.81 L184.25,51.46 L184.08,51.2 L183.94,50.95 L183.75,50.57 L183.59,50.2 L183.5,49.95 L183.35,49.45 L183.25,48.96 L183.21,48.7 L183.17,48.2 L183.18,47.7 L183.23,47.2 L183.27,46.95 L183.4,46.45 L183.5,46.16 L183.7,45.7 L183.83,45.45 L184,45.18 L184.25,44.84 L184.5,44.55 L184.75,44.3 L185,44.09 L185.25,43.9 L185.57,43.7 L186,43.48 L186.25,43.38 L186.75,43.23 L187,43.18 L187.5,43.12 L188,43.12 L188.5,43.18 L188.75,43.24 L189.25,43.39 L189.5,43.5 L189.89,43.7 L190.25,43.93 L190.5,44.12 L190.75,44.35 L191,44.61 L191.25,44.91 L191.46,45.2 L191.61,45.45 L191.75,45.7 L191.98,46.2 L192.08,46.45 L192.23,46.95 L192.29,47.2 L192.39,47.7 L192.44,48.2 L192.47,48.7 L192.46,49.2 L192.42,49.7 L192.35,50.2 L192.26,50.7 L192.2,50.95 L192.07,51.45 L191.99,51.7 L191.83,52.2 L191.75,52.45 L191.56,52.95 L191.47,53.2 L191.29,53.7 L191.2,53.95 L191.03,54.45 L190.96,54.7 L190.84,55.2 L190.76,55.7 L190.74,55.95 L190.74,56.45 L190.75,56.7 L190.8,57.2 L190.89,57.7 L190.99,58.2 L191.04,58.45 L191.14,58.95 L191.25,59.45 L191.3,59.7 L191.4,60.2 L191.5,60.69 L191.55,60.95 L191.65,61.45 L191.74,61.95 L191.79,62.2 L191.89,62.7 L191.98,63.2 L192.03,63.45 L192.13,63.95 L192.23,64.45 L192.28,64.7 L192.39,65.2 L192.5,65.7 L192.56,65.95 L192.69,66.45 L192.75,66.71 L192.89,67.2 L193,67.55 L193.15,67.95 L193.25,68.22 L193.48,68.7 L193.62,68.95 L193.78,69.2 L194,69.49 L194.25,69.77 L194.5,70.02 L194.75,70.25 L195,70.47 L195.28,70.7 L195.58,70.95 L195.9,71.2 L196.22,71.45 L196.5,71.66 L196.75,71.85 L197,72.03 L197.25,72.21 L197.59,72.45 L197.96,72.7 L198.25,72.89 L198.5,73.04 L198.76,73.2 L199.18,73.45 L199.5,73.63 L199.75,73.77 L200.1,73.95 L200.5,74.15 L200.75,74.27 L201.15,74.45 L201.5,74.6 L201.75,74.7 L202.25,74.88 L202.5,74.96 L203,75.11 L203.42,75.2 L203.75,75.26 L204.25,75.32 L204.75,75.34 L205.25,75.34 L205.75,75.31 L206.25,75.25 L206.59,75.2 L207,75.13 L207.5,75.04 L207.93,74.95 L208.25,74.88 L208.75,74.77 L209.06,74.7 L209.5,74.6 L210,74.49 L210.25,74.43 L210.75,74.33 L211.25,74.22 L211.5,74.17 L212,74.07 L212.5,73.97 L212.75,73.92 L213.25,73.83 L213.75,73.74 L214,73.7 L214.5,73.61 L215,73.52 L215.37,73.45 L215.75,73.38 L216.25,73.28 L216.67,73.2 L217,73.13 L217.5,73.02 L217.82,72.95 L218.25,72.85 L218.75,72.72 L219,72.65 L219.5,72.51 L219.75,72.44 L220.25,72.29 L220.56,72.2 L221,72.06 L221.35,71.95 L221.75,71.82 L222.12,71.7 L222.5,71.57 L222.88,71.45 L223.25,71.33 L223.65,71.2 L224,71.08 L224.42,70.95 L224.75,70.84 L225.21,70.7 L225.5,70.61 L226,70.46 L226.25,70.38 L226.75,70.23 L227,70.16 L227.5,70.02 L227.75,69.95 L228.25,69.81 L228.69,69.7 L229,69.62 L229.5,69.51 L229.77,69.45 L230.25,69.36 L230.75,69.29 L231.25,69.25 L231.75,69.24 L232.25,69.27 L232.75,69.34 L233.24,69.45 L233.5,69.52 L234,69.68 L234.25,69.76 L234.73,69.95 L235,70.06 L235.31,70.2 L235.75,70.4 L236,70.52 L236.34,70.7 L236.75,70.93 L237,71.07 L237.25,71.23 L237.57,71.45 L237.9,71.7 L238.2,71.95 L238.46,72.2 L238.69,72.45 L238.89,72.7 L239.06,72.95 L239.25,73.29 L239.42,73.7 L239.5,74.02 L239.56,74.45 L239.55,74.95 L239.5,75.3 L239.4,75.7 L239.25,76.1 L239.09,76.45 L238.95,76.7 L238.75,77.02 L238.5,77.37 L238.25,77.68 L238.02,77.95 L237.78,78.2 L237.54,78.45 L237.27,78.7 L237,78.94 L236.75,79.15 L236.5,79.35 L236.25,79.55 L236,79.73 L235.69,79.95 L235.31,80.2 L235,80.4 L234.75,80.55 L234.48,80.7 L234.02,80.95 L233.75,81.09 L233.5,81.22 L233.01,81.45 L232.75,81.57 L232.45,81.7 L232,81.89 L231.75,81.99 L231.25,82.18 L231,82.28 L230.51,82.45 L230.25,82.54 L229.75,82.7 L229.5,82.78 L229,82.92 L228.75,82.99 L228.25,83.12 L227.91,83.2 L227.5,83.3 L227,83.4 L226.75,83.46 L226.25,83.56 L225.75,83.65 L225.46,83.7 L225,83.78 L224.5,83.86 L224,83.94 L223.75,83.98 L223.25,84.05 L222.75,84.11 L222.25,84.17 L222,84.2 L221.5,84.26 L221,84.31 L220.5,84.35 L220,84.39 L219.5,84.42 L219,84.45 L218.75,84.46 Z" stroke="#505050"/>
<path d="M189.25,54.48 L189,54.44 L188.5,54.22 L188.25,54.08 L188,53.92 L187.67,53.7 L187.28,53.45 L187,53.27 L186.75,53.1 L186.5,52.93 L186.19,52.7 L185.87,52.45 L185.58,52.2 L185.32,51.95 L185.09,51.7 L184.88,51.45 L184.69,51.2 L184.5,50.93 L184.25,50.49 L184.11,50.2 L184,49.95 L183.83,49.45 L183.75,49.13 L183.67,48.7 L183.63,48.2 L183.63,47.7 L183.69,47.2 L183.75,46.9 L183.88,46.45 L184,46.14 L184.22,45.7 L184.37,45.45 L184.55,45.2 L184.76,44.95 L185.01,44.7 L185.3,44.45 L185.66,44.2 L186,44.01 L186.25,43.9 L186.75,43.73 L187,43.67 L187.5,43.61 L188,43.61 L188.5,43.68 L188.75,43.74 L189.25,43.91 L189.5,44.03 L189.79,44.2 L190.14,44.45 L190.43,44.7 L190.67,44.95 L190.88,45.2 L191.06,45.45 L191.25,45.76 L191.47,46.2 L191.58,46.45 L191.75,46.95 L191.81,47.2 L191.91,47.7 L191.96,48.2 L191.97,48.7 L191.95,49.2 L191.9,49.7 L191.81,50.2 L191.75,50.45 L191.61,50.95 L191.5,51.27 L191.34,51.7 L191.23,51.95 L191,52.45 L190.88,52.7 L190.74,52.95 L190.5,53.37 L190.28,53.7 L190.08,53.95 L189.85,54.2 L189.5,54.43 L189.25,54.48 Z" stroke="#494949"/>
<path d="M190.25,78.79 L189.75,78.77 L189.5,78.59 L189.25,78.25 L189.1,77.95 L188.99,77.7 L188.83,77.2 L188.75,76.91 L188.65,76.45 L188.55,75.95 L188.5,75.66 L188.43,75.2 L188.37,74.7 L188.31,74.2 L188.27,73.7 L188.24,73.45 L188.21,72.95 L188.18,72.45 L188.15,71.95 L188.13,71.45 L188.11,70.95 L188.09,70.45 L188.09,69.95 L188.08,69.45 L188.08,68.95 L188.08,68.45 L188.09,67.95 L188.1,67.45 L188.12,66.95 L188.14,66.45 L188.17,65.95 L188.2,65.45 L188.24,64.95 L188.26,64.7 L188.31,64.2 L188.37,63.7 L188.43,63.2 L188.5,62.7 L188.54,62.45 L188.63,61.95 L188.73,61.45 L188.79,61.2 L188.92,60.7 L189,60.43 L189.2,59.95 L189.36,59.7 L189.75,59.46 L190.04,59.7 L190.25,60.03 L190.43,60.45 L190.52,60.7 L190.68,61.2 L190.75,61.45 L190.87,61.95 L190.99,62.45 L191.05,62.7 L191.15,63.2 L191.24,63.7 L191.29,63.95 L191.38,64.45 L191.46,64.95 L191.5,65.2 L191.59,65.7 L191.66,66.2 L191.73,66.7 L191.77,66.95 L191.84,67.45 L191.91,67.95 L191.97,68.45 L192,68.7 L192.07,69.2 L192.14,69.7 L192.2,70.2 L192.25,70.59 L192.3,70.95 L192.37,71.45 L192.44,71.95 L192.5,72.36 L192.56,72.7 L192.64,73.2 L192.7,73.7 L192.73,74.2 L192.7,74.7 L192.58,75.2 L192.48,75.45 L192.25,75.95 L192.14,76.2 L192,76.46 L191.75,76.94 L191.61,77.2 L191.46,77.45 L191.25,77.79 L191,78.14 L190.75,78.43 L190.5,78.65 L190.25,78.79 Z" stroke="#494949"/>
<path d="M219.75,83.96 L219.25,83.98 L218.75,84 L218.25,84 L217.75,84 L217.25,83.99 L216.75,83.96 L216.5,83.95 L216,83.91 L215.5,83.86 L215,83.8 L214.5,83.73 L214.25,83.68 L213.75,83.58 L213.25,83.47 L213,83.4 L212.5,83.26 L212.25,83.18 L211.75,83 L211.5,82.91 L211.01,82.7 L210.75,82.58 L210.49,82.45 L210.04,82.2 L209.75,82.03 L209.5,81.86 L209.25,81.69 L208.93,81.45 L208.62,81.2 L208.34,80.95 L208.08,80.7 L207.85,80.45 L207.63,80.2 L207.44,79.95 L207.25,79.69 L207,79.27 L206.85,78.95 L206.75,78.6 L206.71,78.2 L206.75,77.95 L207,77.46 L207.23,77.2 L207.5,76.97 L207.75,76.8 L208,76.64 L208.32,76.45 L208.75,76.23 L209,76.11 L209.37,75.95 L209.75,75.79 L210,75.7 L210.5,75.51 L210.75,75.43 L211.25,75.26 L211.5,75.19 L212,75.04 L212.32,74.95 L212.75,74.83 L213.25,74.71 L213.5,74.64 L214,74.52 L214.32,74.45 L214.75,74.35 L215.25,74.24 L215.5,74.18 L216,74.06 L216.49,73.95 L216.75,73.89 L217.25,73.76 L217.51,73.7 L218,73.57 L218.46,73.45 L218.75,73.37 L219.25,73.23 L219.5,73.15 L220,73 L220.25,72.92 L220.75,72.77 L221,72.69 L221.5,72.52 L221.75,72.44 L222.25,72.28 L222.5,72.19 L223,72.03 L223.25,71.95 L223.75,71.78 L224.02,71.7 L224.5,71.55 L224.81,71.45 L225.25,71.31 L225.63,71.2 L226,71.09 L226.5,70.95 L226.75,70.88 L227.25,70.74 L227.5,70.68 L228,70.55 L228.43,70.45 L228.75,70.38 L229.25,70.27 L229.67,70.2 L230,70.15 L230.5,70.09 L231,70.05 L231.5,70.04 L232,70.06 L232.5,70.12 L232.97,70.2 L233.25,70.26 L233.75,70.39 L234,70.46 L234.5,70.63 L234.75,70.73 L235.25,70.93 L235.5,71.04 L235.84,71.2 L236.25,71.41 L236.5,71.55 L236.75,71.71 L237.11,71.95 L237.44,72.2 L237.72,72.45 L237.97,72.7 L238.18,72.95 L238.35,73.2 L238.5,73.45 L238.71,73.95 L238.78,74.2 L238.84,74.7 L238.82,75.2 L238.75,75.55 L238.63,75.95 L238.5,76.26 L238.27,76.7 L238.12,76.95 L237.95,77.2 L237.75,77.46 L237.5,77.76 L237.25,78.04 L237,78.29 L236.75,78.53 L236.5,78.75 L236.25,78.96 L235.96,79.2 L235.62,79.45 L235.27,79.7 L235,79.88 L234.75,80.04 L234.49,80.2 L234.06,80.45 L233.75,80.62 L233.5,80.75 L233.09,80.95 L232.75,81.11 L232.5,81.23 L232,81.44 L231.75,81.55 L231.37,81.7 L231,81.84 L230.7,81.95 L230.25,82.11 L229.98,82.2 L229.5,82.35 L229.17,82.45 L228.75,82.57 L228.25,82.7 L228,82.76 L227.5,82.88 L227.19,82.95 L226.75,83.05 L226.25,83.14 L225.95,83.2 L225.5,83.28 L225,83.37 L224.5,83.45 L224.25,83.49 L223.75,83.56 L223.25,83.63 L222.75,83.69 L222.5,83.72 L222,83.78 L221.5,83.83 L221,83.87 L220.5,83.91 L220,83.95 L219.75,83.96 Z" stroke="#494949"/>
<path d="M196.25,76.01 L195.75,76.14 L195.25,76.05 L195,75.94 L194.71,75.7 L194.5,75.31 L194.5,74.97 L194.75,74.7 L195,74.64 L195.45,74.7 L195.75,74.83 L196,75 L196.25,75.23 L196.45,75.7 L196.25,76.01 Z" stroke="#494949"/>
<path d="M189.5,53.04 L189,53.19 L188.5,53.15 L188,53 L187.75,52.9 L187.33,52.7 L187,52.53 L186.75,52.38 L186.47,52.2 L186.12,51.95 L185.82,51.7 L185.55,51.45 L185.31,51.2 L185.11,50.95 L184.92,50.7 L184.75,50.43 L184.5,49.95 L184.39,49.7 L184.25,49.28 L184.17,48.95 L184.09,48.45 L184.06,47.95 L184.1,47.45 L184.19,46.95 L184.26,46.7 L184.46,46.2 L184.59,45.95 L184.75,45.7 L185,45.37 L185.25,45.1 L185.5,44.87 L185.75,44.69 L186.16,44.45 L186.5,44.3 L186.81,44.2 L187.25,44.11 L187.75,44.07 L188.25,44.11 L188.64,44.2 L189,44.32 L189.29,44.45 L189.7,44.7 L190,44.93 L190.25,45.17 L190.5,45.45 L190.68,45.7 L190.84,45.95 L191,46.25 L191.19,46.7 L191.28,46.95 L191.4,47.45 L191.48,47.95 L191.5,48.2 L191.51,48.7 L191.5,48.95 L191.44,49.45 L191.35,49.95 L191.25,50.32 L191.13,50.7 L191,51.03 L190.81,51.45 L190.68,51.7 L190.5,52 L190.25,52.36 L190,52.65 L189.75,52.88 L189.5,53.04 Z" stroke="#434343"/>
<path d="M190,76.28 L189.75,76.2 L189.5,75.9 L189.3,75.45 L189.22,75.2 L189.09,74.7 L189,74.31 L188.94,73.95 L188.87,73.45 L188.8,72.95 L188.75,72.47 L188.73,72.2 L188.69,71.7 L188.66,71.2 L188.64,70.7 L188.62,70.2 L188.61,69.7 L188.61,69.2 L188.61,68.7 L188.62,68.2 L188.64,67.7 L188.66,67.2 L188.69,66.7 L188.73,66.2 L188.76,65.95 L188.82,65.45 L188.89,64.95 L188.97,64.45 L189.03,64.2 L189.16,63.7 L189.25,63.41 L189.5,62.96 L189.75,62.84 L190,63.03 L190.22,63.45 L190.31,63.7 L190.47,64.2 L190.54,64.45 L190.65,64.95 L190.75,65.44 L190.79,65.7 L190.87,66.2 L190.94,66.7 L191,67.13 L191.04,67.45 L191.09,67.95 L191.13,68.45 L191.17,68.95 L191.19,69.45 L191.22,69.95 L191.23,70.45 L191.24,70.95 L191.24,71.45 L191.23,71.95 L191.21,72.45 L191.18,72.95 L191.13,73.45 L191.06,73.95 L191,74.32 L190.92,74.7 L190.78,75.2 L190.68,75.45 L190.5,75.84 L190.25,76.16 L190,76.28 Z" stroke="#434343"/>
<path d="M221,83.46 L220.5,83.5 L220,83.52 L219.5,83.54 L219,83.55 L218.5,83.55 L218,83.54 L217.5,83.53 L217,83.5 L216.5,83.46 L216.25,83.43 L215.75,83.37 L215.25,83.3 L214.75,83.2 L214.5,83.15 L214,83.03 L213.7,82.95 L213.25,82.81 L212.93,82.7 L212.5,82.53 L212.25,82.42 L211.8,82.2 L211.5,82.03 L211.25,81.88 L210.98,81.7 L210.65,81.45 L210.36,81.2 L210.11,80.95 L209.89,80.7 L209.7,80.45 L209.5,80.13 L209.29,79.7 L209.21,79.45 L209.13,78.95 L209.18,78.45 L209.26,78.2 L209.5,77.76 L209.75,77.45 L210,77.21 L210.25,77.01 L210.5,76.83 L210.75,76.67 L211.12,76.45 L211.5,76.26 L211.75,76.14 L212.19,75.95 L212.5,75.83 L212.84,75.7 L213.25,75.56 L213.56,75.45 L214,75.31 L214.36,75.2 L214.75,75.09 L215.23,74.95 L215.5,74.87 L216,74.73 L216.25,74.67 L216.75,74.53 L217.03,74.45 L217.5,74.32 L217.91,74.2 L218.25,74.1 L218.75,73.95 L219,73.87 L219.5,73.72 L219.75,73.64 L220.25,73.48 L220.5,73.4 L221,73.23 L221.25,73.15 L221.75,72.98 L222,72.9 L222.5,72.73 L222.75,72.65 L223.25,72.48 L223.5,72.4 L224,72.24 L224.25,72.16 L224.75,72 L225,71.93 L225.5,71.78 L225.77,71.7 L226.25,71.56 L226.66,71.45 L227,71.36 L227.5,71.23 L227.75,71.17 L228.25,71.06 L228.75,70.96 L229,70.91 L229.5,70.83 L230,70.76 L230.5,70.71 L230.75,70.7 L231.25,70.69 L231.65,70.7 L232,70.72 L232.5,70.78 L233,70.87 L233.35,70.95 L233.75,71.05 L234.23,71.2 L234.5,71.29 L234.9,71.45 L235.25,71.6 L235.5,71.72 L235.95,71.95 L236.25,72.13 L236.5,72.29 L236.75,72.47 L237.03,72.7 L237.29,72.95 L237.51,73.2 L237.75,73.55 L237.96,73.95 L238.04,74.2 L238.14,74.7 L238.14,75.2 L238.05,75.7 L237.98,75.95 L237.77,76.45 L237.63,76.7 L237.48,76.95 L237.25,77.27 L237,77.59 L236.75,77.87 L236.5,78.13 L236.25,78.37 L236,78.6 L235.75,78.81 L235.5,79.01 L235.25,79.2 L234.9,79.45 L234.52,79.7 L234.25,79.87 L234,80.02 L233.69,80.2 L233.25,80.43 L233,80.56 L232.72,80.7 L232.25,80.92 L232,81.03 L231.6,81.2 L231.25,81.34 L230.97,81.45 L230.5,81.62 L230.25,81.71 L229.75,81.88 L229.5,81.96 L229,82.11 L228.68,82.2 L228.25,82.32 L227.75,82.44 L227.5,82.5 L227,82.61 L226.57,82.7 L226.25,82.76 L225.75,82.86 L225.25,82.94 L225,82.99 L224.5,83.07 L224,83.14 L223.55,83.2 L223.25,83.24 L222.75,83.3 L222.25,83.35 L221.75,83.4 L221.25,83.44 L221,83.46 Z" stroke="#434343"/>
<path d="M189,52.28 L188.5,52.33 L188,52.26 L187.75,52.19 L187.25,51.99 L187,51.87 L186.71,51.7 L186.33,51.45 L186.02,51.2 L185.75,50.95 L185.52,50.7 L185.33,50.45 L185.16,50.2 L185,49.93 L184.78,49.45 L184.69,49.2 L184.57,48.7 L184.51,48.2 L184.52,47.7 L184.59,47.2 L184.74,46.7 L184.84,46.45 L185,46.15 L185.25,45.78 L185.5,45.49 L185.75,45.26 L186,45.08 L186.25,44.92 L186.75,44.71 L187,44.63 L187.5,44.55 L188,44.56 L188.5,44.65 L188.75,44.73 L189.23,44.95 L189.5,45.12 L189.75,45.32 L190,45.56 L190.25,45.87 L190.47,46.2 L190.61,46.45 L190.75,46.78 L190.89,47.2 L191,47.7 L191.03,47.95 L191.06,48.45 L191.04,48.95 L191,49.24 L190.91,49.7 L190.76,50.2 L190.67,50.45 L190.5,50.83 L190.29,51.2 L190.11,51.45 L189.91,51.7 L189.64,51.95 L189.25,52.19 L189,52.28 Z" stroke="#3d3d3d"/>
<path d="M190,71.27 L189.68,71.2 L189.56,70.7 L189.5,70.41 L189.47,69.95 L189.46,69.45 L189.47,68.95 L189.5,68.45 L189.55,68.2 L189.71,67.7 L189.8,67.7 L190,68.02 L190.06,68.45 L190.12,68.95 L190.15,69.45 L190.15,69.95 L190.12,70.45 L190.06,70.95 L190,71.27 Z" stroke="#3d3d3d"/>
<path d="M222.25,82.97 L221.75,83.02 L221.25,83.06 L220.75,83.09 L220.25,83.11 L219.75,83.12 L219.25,83.13 L218.75,83.12 L218.25,83.11 L217.75,83.08 L217.25,83.04 L216.75,82.99 L216.43,82.95 L216,82.88 L215.5,82.79 L215.08,82.7 L214.75,82.62 L214.25,82.47 L214,82.38 L213.53,82.2 L213.25,82.07 L213,81.95 L212.56,81.7 L212.25,81.49 L212,81.3 L211.75,81.08 L211.5,80.81 L211.25,80.49 L211.07,80.2 L210.96,79.95 L210.83,79.45 L210.82,78.95 L210.95,78.45 L211.07,78.2 L211.25,77.93 L211.5,77.64 L211.75,77.4 L212,77.19 L212.35,76.95 L212.75,76.71 L213,76.57 L213.25,76.44 L213.75,76.21 L214,76.11 L214.39,75.95 L214.75,75.81 L215.06,75.7 L215.5,75.55 L215.79,75.45 L216.25,75.3 L216.54,75.2 L217,75.05 L217.32,74.95 L217.75,74.81 L218.1,74.7 L218.5,74.57 L218.87,74.45 L219.25,74.32 L219.62,74.2 L220,74.07 L220.36,73.95 L220.75,73.82 L221.09,73.7 L221.5,73.56 L221.82,73.45 L222.25,73.3 L222.55,73.2 L223,73.05 L223.29,72.95 L223.75,72.8 L224.05,72.7 L224.5,72.56 L224.85,72.45 L225.25,72.33 L225.69,72.2 L226,72.11 L226.5,71.97 L226.75,71.91 L227.25,71.78 L227.6,71.7 L228,71.61 L228.5,71.51 L228.82,71.45 L229.25,71.38 L229.75,71.31 L230.25,71.27 L230.75,71.24 L231.25,71.24 L231.75,71.27 L232.25,71.32 L232.75,71.4 L233,71.45 L233.5,71.57 L233.93,71.7 L234.25,71.81 L234.62,71.95 L235,72.11 L235.25,72.23 L235.64,72.45 L236,72.68 L236.25,72.86 L236.5,73.07 L236.75,73.32 L237,73.63 L237.2,73.95 L237.31,74.2 L237.45,74.7 L237.48,75.2 L237.41,75.7 L237.26,76.2 L237.14,76.45 L237,76.72 L236.75,77.11 L236.5,77.44 L236.28,77.7 L236.04,77.95 L235.79,78.2 L235.52,78.45 L235.25,78.68 L235,78.87 L234.75,79.06 L234.5,79.24 L234.19,79.45 L233.79,79.7 L233.5,79.87 L233.25,80.01 L232.89,80.2 L232.5,80.4 L232.25,80.52 L231.85,80.7 L231.5,80.85 L231.25,80.96 L230.75,81.15 L230.5,81.25 L230,81.42 L229.75,81.51 L229.25,81.67 L229,81.74 L228.5,81.89 L228.25,81.95 L227.75,82.08 L227.25,82.2 L227,82.25 L226.5,82.36 L226.01,82.45 L225.75,82.5 L225.25,82.59 L224.75,82.66 L224.5,82.7 L224,82.77 L223.5,82.84 L223,82.9 L222.5,82.95 L222.25,82.97 Z" stroke="#3d3d3d"/>
<path d="M189,51.49 L188.5,51.6 L188,51.58 L187.5,51.45 L187.25,51.35 L186.94,51.2 L186.54,50.95 L186.25,50.73 L186,50.49 L185.75,50.21 L185.56,49.95 L185.41,49.7 L185.25,49.37 L185.1,48.95 L185,48.5 L184.97,48.2 L184.97,47.7 L185.01,47.45 L185.14,46.95 L185.25,46.67 L185.5,46.23 L185.72,45.95 L185.97,45.7 L186.25,45.48 L186.5,45.34 L186.8,45.2 L187.25,45.08 L187.75,45.03 L188.25,45.09 L188.63,45.2 L189,45.37 L189.25,45.53 L189.5,45.73 L189.75,45.98 L190,46.31 L190.23,46.7 L190.33,46.95 L190.49,47.45 L190.54,47.7 L190.6,48.2 L190.59,48.7 L190.53,49.2 L190.47,49.45 L190.32,49.95 L190.21,50.2 L190,50.58 L189.75,50.93 L189.5,51.18 L189.25,51.36 L189,51.49 Z" stroke="#363636"/>
<path d="M220.5,82.7 L220,82.71 L219.5,82.71 L219,82.7 L218.75,82.69 L218.25,82.66 L217.75,82.62 L217.25,82.56 L216.75,82.49 L216.5,82.44 L216,82.34 L215.5,82.21 L215.25,82.14 L214.75,81.97 L214.5,81.86 L214.14,81.7 L213.75,81.49 L213.5,81.32 L213.25,81.14 L213,80.92 L212.75,80.65 L212.5,80.29 L212.34,79.95 L212.25,79.58 L212.23,79.2 L212.27,78.95 L212.45,78.45 L212.6,78.2 L212.8,77.95 L213.04,77.7 L213.33,77.45 L213.67,77.2 L214,76.99 L214.25,76.84 L214.51,76.7 L215,76.46 L215.25,76.34 L215.58,76.2 L216,76.03 L216.25,75.93 L216.75,75.73 L217,75.64 L217.5,75.45 L217.75,75.36 L218.2,75.2 L218.5,75.09 L218.9,74.95 L219.25,74.82 L219.6,74.7 L220,74.56 L220.29,74.45 L220.75,74.29 L221,74.2 L221.5,74.02 L221.75,73.93 L222.25,73.75 L222.5,73.66 L223,73.49 L223.25,73.4 L223.75,73.24 L224,73.15 L224.5,72.99 L224.75,72.92 L225.25,72.76 L225.5,72.69 L226,72.54 L226.35,72.45 L226.75,72.34 L227.25,72.22 L227.5,72.16 L228,72.06 L228.5,71.96 L228.75,71.92 L229.25,71.84 L229.75,71.79 L230.25,71.75 L230.75,71.73 L231.25,71.74 L231.75,71.78 L232.25,71.84 L232.75,71.93 L233,71.98 L233.5,72.12 L233.77,72.2 L234.25,72.38 L234.5,72.48 L234.95,72.7 L235.25,72.87 L235.5,73.04 L235.75,73.22 L236.01,73.45 L236.25,73.71 L236.5,74.07 L236.69,74.45 L236.77,74.7 L236.83,75.2 L236.78,75.7 L236.72,75.95 L236.53,76.45 L236.4,76.7 L236.25,76.95 L236,77.3 L235.75,77.6 L235.5,77.87 L235.25,78.12 L235,78.35 L234.75,78.56 L234.5,78.75 L234.24,78.95 L233.87,79.2 L233.5,79.44 L233.25,79.59 L233,79.73 L232.6,79.95 L232.25,80.13 L232,80.25 L231.56,80.45 L231.25,80.58 L230.97,80.7 L230.5,80.88 L230.25,80.98 L229.75,81.15 L229.5,81.24 L229,81.39 L228.75,81.47 L228.25,81.61 L227.89,81.7 L227.5,81.8 L227,81.91 L226.75,81.96 L226.25,82.06 L225.75,82.15 L225.49,82.2 L225,82.28 L224.5,82.35 L224,82.42 L223.75,82.45 L223.25,82.51 L222.75,82.56 L222.25,82.61 L221.75,82.64 L221.25,82.67 L220.75,82.7 L220.5,82.7 Z" stroke="#363636"/>
<path d="M189,50.7 L188.5,50.89 L188,50.91 L187.5,50.81 L187.23,50.7 L186.78,50.45 L186.5,50.24 L186.25,49.99 L186.01,49.7 L185.85,49.45 L185.72,49.2 L185.54,48.7 L185.49,48.45 L185.45,47.95 L185.5,47.49 L185.57,47.2 L185.75,46.78 L185.96,46.45 L186.18,46.2 L186.48,45.95 L186.75,45.79 L187,45.68 L187.5,45.57 L188,45.57 L188.5,45.7 L188.75,45.82 L189,45.97 L189.27,46.2 L189.5,46.45 L189.75,46.84 L189.92,47.2 L190,47.45 L190.1,47.95 L190.12,48.45 L190.07,48.95 L190,49.25 L189.84,49.7 L189.71,49.95 L189.5,50.26 L189.25,50.52 L189,50.7 Z" stroke="#303030"/>
<path d="M222.75,82.21 L222.25,82.24 L221.75,82.27 L221.25,82.3 L220.75,82.31 L220.25,82.31 L219.75,82.3 L219.25,82.28 L218.75,82.25 L218.25,82.2 L218,82.17 L217.5,82.1 L217,82 L216.75,81.95 L216.25,81.81 L215.89,81.7 L215.5,81.55 L215.25,81.44 L214.8,81.2 L214.5,80.99 L214.25,80.79 L214,80.53 L213.76,80.2 L213.64,79.95 L213.53,79.45 L213.59,78.95 L213.75,78.57 L213.99,78.2 L214.21,77.95 L214.47,77.7 L214.75,77.48 L215,77.3 L215.25,77.14 L215.57,76.95 L216,76.72 L216.25,76.59 L216.54,76.45 L217,76.24 L217.25,76.13 L217.67,75.95 L218,75.81 L218.28,75.7 L218.75,75.51 L219,75.41 L219.5,75.22 L219.75,75.12 L220.19,74.95 L220.5,74.83 L220.85,74.7 L221.25,74.55 L221.52,74.45 L222,74.27 L222.25,74.18 L222.75,74 L223,73.91 L223.5,73.74 L223.75,73.65 L224.25,73.48 L224.5,73.4 L225,73.25 L225.25,73.17 L225.75,73.02 L226.01,72.95 L226.5,72.82 L226.97,72.7 L227.25,72.63 L227.75,72.52 L228.12,72.45 L228.5,72.38 L229,72.31 L229.5,72.25 L230,72.21 L230.25,72.2 L230.75,72.19 L231.08,72.2 L231.5,72.23 L232,72.29 L232.5,72.37 L232.84,72.45 L233.25,72.56 L233.66,72.7 L234,72.83 L234.26,72.95 L234.72,73.2 L235,73.38 L235.25,73.58 L235.5,73.81 L235.75,74.1 L235.96,74.45 L236.07,74.7 L236.17,75.2 L236.16,75.7 L236.03,76.2 L235.93,76.45 L235.75,76.78 L235.5,77.17 L235.28,77.45 L235.06,77.7 L234.81,77.95 L234.54,78.2 L234.25,78.45 L234,78.64 L233.75,78.83 L233.5,79 L233.19,79.2 L232.77,79.45 L232.5,79.6 L232.25,79.74 L231.83,79.95 L231.5,80.1 L231.25,80.22 L230.75,80.43 L230.5,80.53 L230.05,80.7 L229.75,80.81 L229.33,80.95 L229,81.05 L228.51,81.2 L228.25,81.27 L227.75,81.4 L227.5,81.46 L227,81.58 L226.5,81.68 L226.25,81.73 L225.75,81.82 L225.25,81.9 L224.95,81.95 L224.5,82.01 L224,82.08 L223.5,82.13 L223,82.18 L222.75,82.21 Z" stroke="#303030"/>
<path d="M188.75,50 L188.25,50.18 L187.75,50.17 L187.25,50 L187,49.85 L186.75,49.66 L186.5,49.39 L186.25,48.99 L186.13,48.7 L186.02,48.2 L186.04,47.7 L186.19,47.2 L186.32,46.95 L186.51,46.7 L186.8,46.45 L187.25,46.23 L187.5,46.17 L188,46.18 L188.25,46.24 L188.67,46.45 L188.97,46.7 L189.17,46.95 L189.32,47.2 L189.5,47.69 L189.55,47.95 L189.56,48.45 L189.5,48.87 L189.39,49.2 L189.25,49.48 L189,49.8 L188.75,50 Z" stroke="#2a2a2a"/>
<path d="M224.25,81.71 L223.75,81.76 L223.25,81.81 L222.75,81.85 L222.25,81.88 L221.75,81.9 L221.25,81.91 L220.75,81.91 L220.25,81.9 L219.75,81.88 L219.25,81.84 L218.75,81.78 L218.25,81.71 L218,81.66 L217.5,81.55 L217.12,81.45 L216.75,81.32 L216.43,81.2 L216,80.99 L215.75,80.84 L215.5,80.66 L215.25,80.43 L215,80.09 L214.83,79.7 L214.79,79.2 L214.94,78.7 L215.09,78.45 L215.27,78.2 L215.51,77.95 L215.79,77.7 L216.11,77.45 L216.48,77.2 L216.75,77.04 L217,76.9 L217.36,76.7 L217.75,76.5 L218,76.38 L218.38,76.2 L218.75,76.03 L219,75.92 L219.5,75.7 L219.75,75.6 L220.1,75.45 L220.5,75.29 L220.75,75.18 L221.25,74.98 L221.5,74.89 L221.98,74.7 L222.25,74.6 L222.64,74.45 L223,74.32 L223.32,74.2 L223.75,74.05 L224.04,73.95 L224.5,73.8 L224.8,73.7 L225.25,73.56 L225.61,73.45 L226,73.34 L226.5,73.2 L226.75,73.14 L227.25,73.02 L227.58,72.95 L228,72.87 L228.5,72.78 L229,72.71 L229.25,72.68 L229.75,72.64 L230.25,72.62 L230.75,72.62 L231.25,72.65 L231.67,72.7 L232,72.75 L232.5,72.86 L232.85,72.95 L233.25,73.08 L233.56,73.2 L234,73.41 L234.25,73.56 L234.5,73.72 L234.78,73.95 L235.02,74.2 L235.25,74.51 L235.45,74.95 L235.51,75.2 L235.52,75.7 L235.48,75.95 L235.32,76.45 L235.2,76.7 L235,77.02 L234.75,77.36 L234.5,77.65 L234.25,77.9 L234,78.13 L233.75,78.34 L233.5,78.53 L233.25,78.72 L232.9,78.95 L232.5,79.2 L232.25,79.34 L232,79.48 L231.57,79.7 L231.25,79.85 L231,79.96 L230.5,80.18 L230.25,80.28 L229.79,80.45 L229.5,80.55 L229.06,80.7 L228.75,80.8 L228.25,80.94 L228,81.01 L227.5,81.14 L227.22,81.2 L226.75,81.3 L226.25,81.4 L225.99,81.45 L225.5,81.53 L225,81.61 L224.5,81.68 L224.25,81.71 Z" stroke="#2a2a2a"/>
<path d="M188.25,49.21 L187.75,49.26 L187.5,49.19 L187.16,48.95 L186.96,48.7 L186.79,48.2 L186.83,47.7 L187,47.37 L187.25,47.13 L187.75,46.98 L188.25,47.12 L188.5,47.33 L188.73,47.7 L188.8,47.95 L188.8,48.45 L188.73,48.7 L188.5,49.04 L188.25,49.21 Z" stroke="#282828"/>
<path d="M223.25,81.46 L222.75,81.49 L222.25,81.51 L221.75,81.52 L221.25,81.52 L220.75,81.5 L220.25,81.47 L219.96,81.45 L219.5,81.4 L219,81.32 L218.5,81.22 L218.25,81.15 L217.75,81 L217.5,80.9 L217.07,80.7 L216.75,80.5 L216.5,80.29 L216.25,80 L216.09,79.7 L216.02,79.2 L216.16,78.7 L216.3,78.45 L216.5,78.19 L216.75,77.93 L217,77.7 L217.33,77.45 L217.69,77.2 L218,77.01 L218.25,76.87 L218.54,76.7 L219,76.46 L219.25,76.34 L219.53,76.2 L220,75.98 L220.25,75.86 L220.61,75.7 L221,75.53 L221.25,75.42 L221.75,75.21 L222,75.11 L222.4,74.95 L222.75,74.81 L223.04,74.7 L223.5,74.53 L223.75,74.44 L224.25,74.26 L224.5,74.18 L225,74.02 L225.25,73.94 L225.75,73.79 L226.06,73.7 L226.5,73.58 L227,73.46 L227.25,73.4 L227.75,73.29 L228.25,73.21 L228.5,73.17 L229,73.1 L229.5,73.06 L230,73.04 L230.5,73.04 L231,73.07 L231.5,73.12 L231.93,73.2 L232.25,73.27 L232.75,73.42 L233,73.52 L233.41,73.7 L233.75,73.89 L234,74.07 L234.25,74.28 L234.5,74.56 L234.73,74.95 L234.82,75.2 L234.88,75.7 L234.8,76.2 L234.71,76.45 L234.5,76.86 L234.27,77.2 L234.07,77.45 L233.84,77.7 L233.58,77.95 L233.29,78.2 L233,78.42 L232.75,78.6 L232.5,78.77 L232.22,78.95 L231.78,79.2 L231.5,79.35 L231.25,79.48 L230.78,79.7 L230.5,79.82 L230.2,79.95 L229.75,80.12 L229.5,80.21 L229,80.39 L228.75,80.47 L228.25,80.61 L227.93,80.7 L227.5,80.81 L227,80.92 L226.75,80.98 L226.25,81.08 L225.75,81.16 L225.5,81.2 L225,81.28 L224.5,81.34 L224,81.4 L223.5,81.44 L223.25,81.46 Z" stroke="#282828"/>
<path d="M224.75,80.97 L224.25,81.02 L223.75,81.06 L223.25,81.1 L222.75,81.12 L222.25,81.12 L221.75,81.12 L221.25,81.1 L220.75,81.06 L220.25,81 L219.89,80.95 L219.5,80.87 L219,80.74 L218.75,80.66 L218.25,80.45 L218,80.31 L217.75,80.13 L217.5,79.88 L217.27,79.45 L217.23,79.2 L217.25,78.95 L217.46,78.45 L217.64,78.2 L217.87,77.95 L218.14,77.7 L218.46,77.45 L218.75,77.24 L219,77.08 L219.25,76.92 L219.63,76.7 L220,76.5 L220.25,76.37 L220.58,76.2 L221,76 L221.25,75.88 L221.64,75.7 L222,75.54 L222.25,75.43 L222.75,75.22 L223,75.12 L223.44,74.95 L223.75,74.83 L224.11,74.7 L224.5,74.56 L224.83,74.45 L225.25,74.31 L225.62,74.2 L226,74.09 L226.5,73.95 L226.75,73.89 L227.25,73.77 L227.6,73.7 L228,73.62 L228.5,73.55 L229,73.49 L229.5,73.45 L229.75,73.44 L230.25,73.45 L230.5,73.46 L231,73.5 L231.5,73.58 L232,73.7 L232.25,73.77 L232.71,73.95 L233,74.09 L233.25,74.24 L233.53,74.45 L233.78,74.7 L234,75.01 L234.17,75.45 L234.2,75.95 L234.08,76.45 L233.97,76.7 L233.75,77.06 L233.5,77.39 L233.25,77.66 L233,77.9 L232.75,78.11 L232.5,78.3 L232.25,78.48 L231.92,78.7 L231.5,78.95 L231.25,79.09 L231,79.22 L230.52,79.45 L230.25,79.57 L229.93,79.7 L229.5,79.87 L229.25,79.96 L228.75,80.13 L228.5,80.21 L228,80.35 L227.62,80.45 L227.25,80.54 L226.75,80.65 L226.49,80.7 L226,80.79 L225.5,80.87 L225,80.94 L224.75,80.97 Z" stroke="#282828"/>
<path d="M223.5,80.71 L223,80.72 L222.5,80.72 L222.05,80.7 L221.75,80.68 L221.25,80.63 L220.75,80.56 L220.25,80.45 L220,80.38 L219.5,80.21 L219.25,80.08 L219,79.93 L218.73,79.7 L218.5,79.3 L218.45,78.95 L218.5,78.7 L218.75,78.22 L218.98,77.95 L219.23,77.7 L219.5,77.48 L219.75,77.29 L220,77.12 L220.25,76.95 L220.66,76.7 L221,76.51 L221.25,76.38 L221.59,76.2 L222,76 L222.25,75.88 L222.65,75.7 L223,75.55 L223.25,75.44 L223.75,75.24 L224,75.14 L224.5,74.95 L224.75,74.86 L225.23,74.7 L225.5,74.61 L226,74.46 L226.25,74.39 L226.75,74.26 L227.01,74.2 L227.5,74.1 L228,74.01 L228.37,73.95 L228.75,73.91 L229.25,73.87 L229.75,73.85 L230.25,73.87 L230.75,73.92 L231,73.95 L231.5,74.06 L231.94,74.2 L232.25,74.33 L232.5,74.46 L232.86,74.7 L233.12,74.95 L233.31,75.2 L233.49,75.7 L233.51,75.95 L233.49,76.2 L233.32,76.7 L233.18,76.95 L233,77.21 L232.75,77.5 L232.5,77.75 L232.25,77.97 L231.96,78.2 L231.6,78.45 L231.25,78.67 L231,78.81 L230.74,78.95 L230.25,79.19 L230,79.3 L229.65,79.45 L229.25,79.6 L228.98,79.7 L228.5,79.86 L228.21,79.95 L227.75,80.08 L227.26,80.2 L227,80.26 L226.5,80.36 L226,80.45 L225.75,80.49 L225.25,80.56 L224.75,80.62 L224.25,80.66 L223.75,80.69 L223.5,80.71 Z" stroke="#282828"/>
<path d="M225,80.22 L224.5,80.26 L224,80.28 L223.5,80.29 L223,80.29 L222.5,80.26 L222,80.21 L221.75,80.17 L221.25,80.07 L220.83,79.95 L220.5,79.81 L220.25,79.68 L219.95,79.45 L219.75,79.15 L219.68,78.7 L219.75,78.45 L220,78.04 L220.25,77.76 L220.5,77.52 L220.75,77.32 L221,77.14 L221.27,76.95 L221.68,76.7 L222,76.52 L222.25,76.38 L222.59,76.2 L223,76 L223.25,75.89 L223.67,75.7 L224,75.56 L224.27,75.45 L224.75,75.27 L225,75.18 L225.5,75.01 L225.75,74.93 L226.25,74.78 L226.55,74.7 L227,74.59 L227.5,74.48 L227.75,74.44 L228.25,74.36 L228.75,74.31 L229.25,74.28 L229.75,74.28 L230.25,74.32 L230.75,74.4 L231,74.45 L231.5,74.61 L231.75,74.72 L232.13,74.95 L232.41,75.2 L232.6,75.45 L232.75,75.87 L232.77,76.2 L232.72,76.45 L232.5,76.94 L232.32,77.2 L232.11,77.45 L231.86,77.7 L231.57,77.95 L231.25,78.18 L231,78.35 L230.75,78.5 L230.4,78.7 L230,78.9 L229.75,79.01 L229.31,79.2 L229,79.32 L228.64,79.45 L228.25,79.57 L227.82,79.7 L227.5,79.78 L227,79.9 L226.75,79.96 L226.25,80.05 L225.75,80.13 L225.25,80.19 L225,80.22 Z" stroke="#282828"/>
<path d="M225.75,79.73 L225.25,79.79 L224.75,79.82 L224.25,79.84 L223.75,79.83 L223.25,79.81 L222.75,79.75 L222.47,79.7 L222,79.57 L221.66,79.45 L221.25,79.2 L221.04,78.95 L220.95,78.7 L221,78.32 L221.19,77.95 L221.39,77.7 L221.65,77.45 L221.96,77.2 L222.25,76.99 L222.5,76.83 L222.75,76.68 L223.15,76.45 L223.5,76.27 L223.75,76.15 L224.18,75.95 L224.5,75.81 L224.77,75.7 L225.25,75.52 L225.5,75.43 L226,75.27 L226.25,75.2 L226.75,75.06 L227.24,74.95 L227.5,74.9 L228,74.82 L228.5,74.76 L229,74.73 L229.5,74.74 L230,74.79 L230.5,74.89 L230.75,74.96 L231.25,75.18 L231.5,75.35 L231.75,75.61 L231.92,75.95 L231.94,76.45 L231.75,76.95 L231.58,77.2 L231.36,77.45 L231.1,77.7 L230.78,77.95 L230.5,78.14 L230.25,78.3 L229.99,78.45 L229.5,78.69 L229.25,78.8 L228.9,78.95 L228.5,79.1 L228.19,79.2 L227.75,79.33 L227.3,79.45 L227,79.52 L226.5,79.62 L226,79.7 L225.75,79.73 Z" stroke="#282828"/>
<path d="M226.25,79.22 L225.75,79.28 L225.25,79.32 L224.75,79.33 L224.25,79.31 L223.75,79.26 L223.42,79.2 L223,79.07 L222.74,78.95 L222.44,78.7 L222.31,78.2 L222.5,77.8 L222.75,77.5 L223,77.27 L223.25,77.08 L223.5,76.9 L223.82,76.7 L224.25,76.47 L224.5,76.34 L224.81,76.2 L225.25,76.01 L225.5,75.92 L226,75.74 L226.25,75.66 L226.75,75.53 L227.06,75.45 L227.5,75.36 L228,75.29 L228.5,75.25 L229,75.25 L229.5,75.29 L230,75.4 L230.25,75.48 L230.64,75.7 L230.88,75.95 L231.01,76.2 L231,76.67 L230.89,76.95 L230.72,77.2 L230.5,77.45 L230.22,77.7 L229.87,77.95 L229.5,78.17 L229.25,78.3 L228.95,78.45 L228.5,78.63 L228.25,78.73 L227.75,78.89 L227.5,78.96 L227,79.08 L226.5,79.18 L226.25,79.22 Z" stroke="#282828"/>
</g>
<rect x="71.5" y="18.5" width="94.5" height="93.5" fill="none" stroke="#231f20" stroke-width="1.25"/>
<line x1="104.5" y1="18.5" x2="104.5" y2="112" stroke="#231f20" stroke-width="1.0" />
<line x1="71.5" y1="59.3" x2="104.5" y2="59.3" stroke="#231f20" stroke-width="1.0" />
<line x1="104.5" y1="68.6" x2="166" y2="68.6" stroke="#231f20" stroke-width="1.0" />
<rect x="169" y="18.7" width="94.3" height="93.5" fill="none" stroke="#231f20" stroke-width="1.25"/>
<line x1="202.7" y1="18.7" x2="202.7" y2="112.2" stroke="#231f20" stroke-width="1.0" />
<line x1="169" y1="56.7" x2="202.7" y2="56.7" stroke="#231f20" stroke-width="1.0" />
<line x1="202.7" y1="68" x2="263.3" y2="68" stroke="#231f20" stroke-width="1.0" />
<text font-size="9.31" text-anchor="start" fill="#231f20" transform="translate(75.6 29.5) scale(0.9346 1)" stroke="#231f20" stroke-width="0.25" >13.0</text>
<text font-size="9.31" text-anchor="end" fill="#231f20" transform="translate(162.2 29.5) scale(0.9346 1)" stroke="#231f20" stroke-width="0.25" >10.9</text>
<text font-size="9.31" text-anchor="start" fill="#231f20" transform="translate(75.2 108.7) scale(0.9346 1)" stroke="#231f20" stroke-width="0.25" >29.6</text>
<text font-size="9.31" text-anchor="end" fill="#231f20" transform="translate(161.9 108.7) scale(0.9346 1)" stroke="#231f20" stroke-width="0.25" >46.5</text>
<text font-size="9.31" text-anchor="start" fill="#231f20" transform="translate(172.8 29.8) scale(0.9346 1)" stroke="#231f20" stroke-width="0.25" >13.0</text>
<text font-size="9.31" text-anchor="end" fill="#231f20" transform="translate(259.3 29.8) scale(0.9346 1)" stroke="#231f20" stroke-width="0.25" >12.3</text>
<text font-size="9.31" text-anchor="start" fill="#231f20" transform="translate(172.8 108.9) scale(0.9346 1)" stroke="#231f20" stroke-width="0.25" >28.3</text>
<text font-size="9.31" text-anchor="end" fill="#231f20" transform="translate(259.1 108.9) scale(0.9346 1)" stroke="#231f20" stroke-width="0.25" >46.4</text>
<path d="M96,146.3 L96,146.3 L96.8,146.13 L97.6,145.96 L98.4,145.77 L99.2,145.56 L100,145.32 L100.8,144.9 L101.6,144.43 L102.4,144.56 L103.2,144.26 L104,142.9 L104.8,142.87 L105.6,141.8 L106.4,142.42 L107.2,141.07 L108,139.95 L108.8,140.01 L109.6,138.08 L110.4,137.34 L111.2,137.9 L112,137.06 L112.8,135.38 L113.6,133.87 L114.4,133.88 L115.2,133.24 L116,132 L116.8,131.7 L117.6,130.46 L118.4,129.17 L119.2,128.11 L120,127.52 L120.8,126.43 L121.6,125.17 L122.4,123.35 L123.2,122.33 L124,121.5 L124.8,119.25 L125.6,119.62 L126.4,120.26 L127.2,121.97 L128,121.44 L128.8,122.3 L129.6,124.2 L130.4,124.79 L131.2,125.38 L132,127.14 L132.8,129.02 L133.6,132.38 L134.4,134.07 L135.2,136.3 L136,138.76 L136.8,139.95 L137.6,140.84 L138.4,142.03 L139.2,143.5 L140,144.28 L140.8,145.32 L141.6,145.65 L142.4,145.89 L143.2,146.03 L144,146.15 L144.8,146.22 L145.6,146.27 L145.6,146.3 Z" fill="#9a9a9a" stroke="#444" stroke-width="0.6" stroke-linejoin="round"/>
<path d="M99,177.3 L99,177.3 L99.8,177.15 L100.6,177 L101.4,176.85 L102.2,176.68 L103,176.5 L103.8,176.27 L104.6,176.28 L105.4,176 L106.2,175.82 L107,175.6 L107.8,175.61 L108.6,174.99 L109.4,174.42 L110.2,173.12 L111,171.74 L111.8,170.86 L112.6,170.63 L113.4,170.1 L114.2,169.87 L115,169.82 L115.8,169.4 L116.6,168.09 L117.4,167.24 L118.2,165.11 L119,161.7 L119.8,160.4 L120.6,158.67 L121.4,157.72 L122.2,157.02 L123,156.51 L123.8,158.55 L124.6,159.28 L125.4,157.71 L126.2,156.59 L127,155.84 L127.8,153.03 L128.6,152.1 L129.4,153.53 L130.2,156.32 L131,159.35 L131.8,161.63 L132.6,164.32 L133.4,165.19 L134.2,166.99 L135,169.91 L135.8,170.43 L136.6,171.77 L137.4,173.28 L138.2,174.13 L139,175 L139.8,175.37 L140.6,176.18 L141.4,176.58 L142.2,176.83 L143,177 L143.8,177.11 L144.6,177.19 L145.4,177.25 L145.4,177.3 Z" fill="#9a9a9a" stroke="#444" stroke-width="0.6" stroke-linejoin="round"/>
<path d="M82,208.9 L82,208.9 L82.8,207.95 L83.6,206.98 L84.4,205.53 L85.2,203.27 L86,200.5 L86.8,197.34 L87.6,193.43 L88.4,190.53 L89.2,187.49 L90,184.34 L90.8,182.75 L91.6,181.1 L92.4,181.15 L93.2,182.36 L94,184.78 L94.8,187.24 L95.6,189.99 L96.4,193.28 L97.2,196.03 L98,198.54 L98.8,201.11 L99.6,202.19 L100.4,203.34 L101.2,204.12 L102,204.64 L102.8,204.29 L103.6,204.78 L104.4,204.86 L105.2,205.15 L106,205.82 L106.8,206.38 L107.6,207.05 L108.4,207.22 L109.2,207.44 L110,207.4 L110.8,207.47 L111.6,207.67 L112.4,207.66 L113.2,207.65 L114,207.48 L114.8,207.61 L115.6,207.58 L116.4,207.67 L117.2,207.64 L118,207.67 L118.8,207.69 L119.6,207.64 L120.4,207.65 L121.2,207.59 L122,207.65 L122.8,207.62 L123.6,207.66 L124.4,207.67 L125.2,207.77 L126,207.91 L126.8,207.81 L127.6,207.81 L128.4,207.82 L129.2,207.85 L130,207.78 L130.8,207.82 L131.6,207.65 L132.4,207.67 L133.2,207.75 L134,207.87 L134.8,207.88 L135.6,208.14 L136.4,208.34 L137.2,208.48 L138,208.6 L138.8,208.68 L139.6,208.75 L140.4,208.8 L141.2,208.85 L142,208.9 L142,208.9 Z" fill="#9a9a9a" stroke="#444" stroke-width="0.6" stroke-linejoin="round"/>
<path d="M196,146.3 L196,146.3 L196.8,145.98 L197.6,145.66 L198.4,145.47 L199.2,145.24 L200,144.77 L200.8,144.08 L201.6,143.82 L202.4,143.49 L203.2,143.78 L204,143.15 L204.8,143.2 L205.6,143.02 L206.4,142.65 L207.2,141.79 L208,139.78 L208.8,138.81 L209.6,137.44 L210.4,135.68 L211.2,134.74 L212,132.81 L212.8,130.82 L213.6,129.28 L214.4,127.78 L215.2,126.5 L216,126.63 L216.8,124.9 L217.6,123.88 L218.4,122.37 L219.2,120.44 L220,120.04 L220.8,121.83 L221.6,120.1 L222.4,119.18 L223.2,119.65 L224,120.8 L224.8,121.25 L225.6,123.83 L226.4,125.67 L227.2,128.07 L228,130.75 L228.8,132.89 L229.6,134.49 L230.4,136.57 L231.2,138.76 L232,140.24 L232.8,141 L233.6,143.47 L234.4,144.33 L235.2,144.67 L236,145.47 L236.8,145.85 L237.6,146.09 L238.4,146.21 L238.4,146.3 Z" fill="#9a9a9a" stroke="#444" stroke-width="0.6" stroke-linejoin="round"/>
<path d="M195,177.3 L195,177.3 L195.8,177.08 L196.6,176.86 L197.4,176.65 L198.2,176.38 L199,176.12 L199.8,176.36 L200.6,176.01 L201.4,175.56 L202.2,175.52 L203,175.16 L203.8,175.62 L204.6,175.21 L205.4,175.25 L206.2,174.74 L207,174.41 L207.8,174.63 L208.6,173.72 L209.4,172.67 L210.2,170.48 L211,169.39 L211.8,168.95 L212.6,166.59 L213.4,166.36 L214.2,164.27 L215,163.72 L215.8,162.62 L216.6,160.01 L217.4,159.93 L218.2,159.26 L219,159.83 L219.8,158.99 L220.6,157.11 L221.4,153.36 L222.2,153.01 L223,153.83 L223.8,156.18 L224.6,155.65 L225.4,156.23 L226.2,155.57 L227,154.35 L227.8,156.28 L228.6,162.87 L229.4,168.63 L230.2,170.5 L231,171.57 L231.8,171.89 L232.6,172.32 L233.4,174.27 L234.2,174.34 L235,175.57 L235.8,176.28 L236.6,176.66 L237.4,176.94 L238.2,177.13 L239,177.3 L239,177.3 Z" fill="#9a9a9a" stroke="#444" stroke-width="0.6" stroke-linejoin="round"/>
<path d="M176,208.9 L176,208.9 L176.8,208.52 L177.6,208 L178.4,207.15 L179.2,205.81 L180,203.08 L180.8,200.99 L181.6,198.46 L182.4,196.62 L183.2,193.96 L184,192.21 L184.8,189.52 L185.6,187.61 L186.4,186.13 L187.2,184.41 L188,182.92 L188.8,182.58 L189.6,182.47 L190.4,183.44 L191.2,185.18 L192,186.1 L192.8,188.04 L193.6,189.85 L194.4,192.19 L195.2,193.68 L196,193.14 L196.8,193.89 L197.6,196.14 L198.4,197.97 L199.2,199.05 L200,199.64 L200.8,200.91 L201.6,201.12 L202.4,202.28 L203.2,203.37 L204,203.53 L204.8,204.24 L205.6,203.91 L206.4,204.1 L207.2,204.61 L208,204.58 L208.8,204.63 L209.6,204.65 L210.4,204.68 L211.2,205.79 L212,205.8 L212.8,205.99 L213.6,206.56 L214.4,206.74 L215.2,207.27 L216,207.15 L216.8,207.35 L217.6,207.49 L218.4,207.21 L219.2,207.26 L220,207.21 L220.8,207.03 L221.6,207.2 L222.4,207.26 L223.2,207.16 L224,207.43 L224.8,207.81 L225.6,207.68 L226.4,207.94 L227.2,207.88 L228,207.77 L228.8,207.9 L229.6,208.03 L230.4,208.07 L231.2,208.1 L232,208.16 L232.8,208.23 L233.6,208.29 L234.4,208.36 L235.2,208.44 L236,208.52 L236.8,208.6 L237.6,208.67 L238.4,208.73 L239.2,208.77 L240,208.81 L240.8,208.85 L241.6,208.88 L241.6,208.9 Z" fill="#9a9a9a" stroke="#444" stroke-width="0.6" stroke-linejoin="round"/>
<line x1="71.7" y1="146.8" x2="166" y2="146.8" stroke="#c8c8c8" stroke-width="0.6" />
<line x1="71.7" y1="177.8" x2="166" y2="177.8" stroke="#c8c8c8" stroke-width="0.6" />
<rect x="71.7" y="112.6" width="94.3" height="2.6" fill="#a8a8a8" stroke="none" stroke-width="1"/>
<rect x="71.7" y="115.3" width="94.3" height="94.1" fill="none" stroke="#231f20" stroke-width="1.25"/>
<line x1="169" y1="146.8" x2="263.3" y2="146.8" stroke="#c8c8c8" stroke-width="0.6" />
<line x1="169" y1="177.8" x2="263.3" y2="177.8" stroke="#c8c8c8" stroke-width="0.6" />
<rect x="169" y="112.6" width="94.3" height="2.6" fill="#a8a8a8" stroke="none" stroke-width="1"/>
<rect x="169" y="115.3" width="94.3" height="94.1" fill="none" stroke="#231f20" stroke-width="1.25"/>
<text font-size="9.2" text-anchor="end" fill="#231f20" transform="translate(66.8 134)" stroke="#231f20" stroke-width="0.25" textLength="59" lengthAdjust="spacingAndGlyphs" >CD34&#8722;CD41+</text>
<text font-size="9.2" text-anchor="end" fill="#231f20" transform="translate(66.8 165.1)" stroke="#231f20" stroke-width="0.25" textLength="59.6" lengthAdjust="spacingAndGlyphs" >CD34+CD41+</text>
<text font-size="9.2" text-anchor="end" fill="#231f20" transform="translate(66.8 196.2)" stroke="#231f20" stroke-width="0.25" textLength="58.8" lengthAdjust="spacingAndGlyphs" >CD34+CD41&#8722;</text>
<text font-size="9.2" text-anchor="start" fill="#333" transform="translate(102.9 220.4)" font-weight="bold" stroke="#333" stroke-width="0.05" textLength="31.5" lengthAdjust="spacingAndGlyphs" >0% Holo-Tf</text>
<text font-size="9.2" text-anchor="start" fill="#333" transform="translate(197.7 220.4)" font-weight="bold" stroke="#333" stroke-width="0.05" textLength="36.9" lengthAdjust="spacingAndGlyphs" >100% Holo-Tf</text>
<text font-size="9.2" text-anchor="start" fill="#333" transform="translate(274.9 174.8) rotate(-90)" font-weight="bold" stroke="#333" stroke-width="0.05" textLength="26.3" lengthAdjust="spacingAndGlyphs" >TfR1 MFI</text>
<text font-size="11.77" text-anchor="start" fill="#000" transform="translate(329.6 15.7) scale(0.9346 1)" font-weight="bold" >B</text>
<line x1="366.5" y1="27.5" x2="366.5" y2="158.5" stroke="#231f20" stroke-width="1.25" />
<line x1="366" y1="158" x2="476.6" y2="158" stroke="#231f20" stroke-width="1.3" />
<line x1="363.5" y1="158" x2="366.5" y2="158" stroke="#231f20" stroke-width="1.0" />
<text font-size="8.45" text-anchor="end" fill="#231f20" transform="translate(360.9 160.9) scale(0.9346 1)" stroke="#231f20" stroke-width="0.25" >2000</text>
<line x1="363.5" y1="118.7" x2="366.5" y2="118.7" stroke="#231f20" stroke-width="1.0" />
<text font-size="8.45" text-anchor="end" fill="#231f20" transform="translate(360.9 121.6) scale(0.9346 1)" stroke="#231f20" stroke-width="0.25" >3000</text>
<line x1="363.5" y1="79.4" x2="366.5" y2="79.4" stroke="#231f20" stroke-width="1.0" />
<text font-size="8.45" text-anchor="end" fill="#231f20" transform="translate(360.9 82.3) scale(0.9346 1)" stroke="#231f20" stroke-width="0.25" >4000</text>
<line x1="363.5" y1="40.1" x2="366.5" y2="40.1" stroke="#231f20" stroke-width="1.0" />
<text font-size="8.45" text-anchor="end" fill="#231f20" transform="translate(360.9 43) scale(0.9346 1)" stroke="#231f20" stroke-width="0.25" >5000</text>
<line x1="386.3" y1="158" x2="386.3" y2="161" stroke="#231f20" stroke-width="1.0" />
<line x1="425.4" y1="158" x2="425.4" y2="161" stroke="#231f20" stroke-width="1.0" />
<line x1="464.4" y1="158" x2="464.4" y2="161" stroke="#231f20" stroke-width="1.0" />
<text font-size="8.9" text-anchor="end" fill="#231f20" transform="translate(388.9 166.4) rotate(-45)" stroke="#231f20" stroke-width="0.25" textLength="51" lengthAdjust="spacingAndGlyphs" >CD34+CD41&#8722;</text>
<text font-size="8.9" text-anchor="end" fill="#231f20" transform="translate(428 166.4) rotate(-45)" stroke="#231f20" stroke-width="0.25" textLength="51" lengthAdjust="spacingAndGlyphs" >CD34+CD41+</text>
<text font-size="8.9" text-anchor="end" fill="#231f20" transform="translate(467 166.4) rotate(-45)" stroke="#231f20" stroke-width="0.25" textLength="51" lengthAdjust="spacingAndGlyphs" >CD34&#8722;CD41+</text>
<text font-size="9.2" text-anchor="start" fill="#333" transform="translate(337.2 112) rotate(-90)" font-weight="bold" stroke="#333" stroke-width="0.05" textLength="26" lengthAdjust="spacingAndGlyphs" >TfR1 MFI</text>
<line x1="386.3" y1="109.2" x2="386.3" y2="144.4" stroke="#333" stroke-width="1.0" />
<line x1="384.1" y1="109.2" x2="388.5" y2="109.2" stroke="#333" stroke-width="1.0" />
<line x1="384.1" y1="121.4" x2="388.5" y2="121.4" stroke="#333" stroke-width="1.0" />
<line x1="384.1" y1="141.2" x2="388.5" y2="141.2" stroke="#333" stroke-width="1.0" />
<line x1="384.1" y1="144.4" x2="388.5" y2="144.4" stroke="#333" stroke-width="1.0" />
<line x1="425.4" y1="41.5" x2="425.4" y2="89.2" stroke="#333" stroke-width="1.0" />
<line x1="423.2" y1="41.5" x2="427.6" y2="41.5" stroke="#333" stroke-width="1.0" />
<line x1="423.2" y1="45.4" x2="427.6" y2="45.4" stroke="#333" stroke-width="1.0" />
<line x1="423.2" y1="48.8" x2="427.6" y2="48.8" stroke="#333" stroke-width="1.0" />
<line x1="423.2" y1="63.8" x2="427.6" y2="63.8" stroke="#333" stroke-width="1.0" />
<line x1="423.2" y1="89.2" x2="427.6" y2="89.2" stroke="#333" stroke-width="1.0" />
<line x1="464.4" y1="67.8" x2="464.4" y2="125.1" stroke="#333" stroke-width="1.0" />
<line x1="462.2" y1="67.8" x2="466.6" y2="67.8" stroke="#333" stroke-width="1.0" />
<line x1="462.2" y1="77.9" x2="466.6" y2="77.9" stroke="#333" stroke-width="1.0" />
<line x1="462.2" y1="103.1" x2="466.6" y2="103.1" stroke="#333" stroke-width="1.0" />
<line x1="462.2" y1="125.1" x2="466.6" y2="125.1" stroke="#333" stroke-width="1.0" />
<polyline points="386.3,137.7 425.4,53.1 464.4,85.7" fill="none" stroke="#cf1839" stroke-width="1.3"/>
<polyline points="386.3,125 425.4,55.4 464.4,90.4" fill="none" stroke="#0f4c88" stroke-width="1.3"/>
<polyline points="386.3,135.6 425.4,69.7 464.4,106.5" fill="none" stroke="#2bb548" stroke-width="1.3"/>
<path d="M386.3,133.15 L388.75,137.55 L383.85,137.55 Z" fill="#fff" stroke="#2bb548" stroke-width="1.0"/>
<path d="M425.4,67.25 L427.85,71.65 L422.95,71.65 Z" fill="#fff" stroke="#2bb548" stroke-width="1.0"/>
<path d="M464.4,104.05 L466.85,108.45 L461.95,108.45 Z" fill="#fff" stroke="#2bb548" stroke-width="1.0"/>
<rect x="384.15" y="122.85" width="4.3" height="4.3" rx="0.7" fill="#fff" stroke="#0f4c88" stroke-width="1.1"/>
<rect x="423.25" y="53.25" width="4.3" height="4.3" rx="0.7" fill="#fff" stroke="#0f4c88" stroke-width="1.1"/>
<rect x="462.25" y="88.25" width="4.3" height="4.3" rx="0.7" fill="#fff" stroke="#0f4c88" stroke-width="1.1"/>
<circle cx="386.3" cy="137.7" r="2.15" fill="#fff" stroke="#cf1839" stroke-width="1.1"/>
<circle cx="425.4" cy="53.1" r="2.15" fill="#fff" stroke="#cf1839" stroke-width="1.1"/>
<circle cx="464.4" cy="85.7" r="2.15" fill="#fff" stroke="#cf1839" stroke-width="1.1"/>
<text font-size="7.06" text-anchor="start" fill="#333" transform="translate(479.6 33)" stroke="#333" stroke-width="0.25" textLength="28.7" lengthAdjust="spacingAndGlyphs" >%Holo-Tf</text>
<line x1="479.6" y1="40.4" x2="491.9" y2="40.4" stroke="#cf1839" stroke-width="1.3" />
<circle cx="485.9" cy="40.4" r="2.1" fill="#fff" stroke="#cf1839" stroke-width="1.1"/>
<text font-size="7.92" text-anchor="start" fill="#333" transform="translate(494 43) scale(0.9346 1)" stroke="#333" stroke-width="0.25" >0%</text>
<line x1="479.6" y1="53.2" x2="491.9" y2="53.2" stroke="#0f4c88" stroke-width="1.3" />
<rect x="483.8" y="51.1" width="4.2" height="4.2" rx="0.7" fill="#fff" stroke="#0f4c88" stroke-width="1.1"/>
<text font-size="7.92" text-anchor="start" fill="#333" transform="translate(494 55.8) scale(0.9346 1)" stroke="#333" stroke-width="0.25" >10%</text>
<line x1="479.6" y1="65.2" x2="491.9" y2="65.2" stroke="#2bb548" stroke-width="1.3" />
<path d="M485.9,62.8 L488.3,67.1 L483.5,67.1 Z" fill="#fff" stroke="#2bb548" stroke-width="1.0"/>
<text font-size="7.92" text-anchor="start" fill="#333" transform="translate(494 67.8) scale(0.9346 1)" stroke="#333" stroke-width="0.25" >100%</text>
<text font-size="11.77" text-anchor="start" fill="#000" transform="translate(6.6 244.5) scale(0.9346 1)" font-weight="bold" >C</text>
<text font-size="9.3" text-anchor="start" fill="#231f20" transform="translate(89 242.5)" stroke="#231f20" stroke-width="0.25" textLength="59.3" lengthAdjust="spacingAndGlyphs" >CD34+CD41&#8722;</text>
<text font-size="9.3" text-anchor="start" fill="#231f20" transform="translate(185.8 242.5)" stroke="#231f20" stroke-width="0.25" textLength="60.7" lengthAdjust="spacingAndGlyphs" >CD34+CD41+</text>
<text font-size="9.3" text-anchor="start" fill="#231f20" transform="translate(283.8 242.5)" stroke="#231f20" stroke-width="0.25" textLength="58.6" lengthAdjust="spacingAndGlyphs" >CD34&#8722;CD41+</text>
<path d="M89,271.4 L89,271.4 L89.8,271.11 L90.6,270.82 L91.4,270.5 L92.2,270.08 L93,269.49 L93.8,269.3 L94.6,268.3 L95.4,267.4 L96.2,266.38 L97,267.04 L97.8,266.18 L98.6,266.16 L99.4,264.49 L100.2,264.34 L101,265.14 L101.8,263.03 L102.6,262.52 L103.4,262.44 L104.2,261.89 L105,262.23 L105.8,262.08 L106.6,260.83 L107.4,261.5 L108.2,261.4 L109,261.61 L109.8,261.99 L110.6,260.92 L111.4,260.58 L112.2,259.53 L113,259.81 L113.8,259.24 L114.6,259.01 L115.4,258.13 L116.2,258.11 L117,258.7 L117.8,258.09 L118.6,258.39 L119.4,258.73 L120.2,258.64 L121,258.65 L121.8,257.92 L122.6,256.59 L123.4,255.75 L124.2,254.81 L125,256.38 L125.8,256.22 L126.6,257.19 L127.4,255.98 L128.2,256.26 L129,258.3 L129.8,258.47 L130.6,257.47 L131.4,258.43 L132.2,257.84 L133,259.32 L133.8,260.46 L134.6,260.41 L135.4,262.54 L136.2,266.51 L137,267.64 L137.8,267.74 L138.6,267.25 L139.4,268.16 L140.2,269.4 L141,269.72 L141.8,270.33 L142.6,270.61 L143.4,270.92 L144.2,271.11 L145,271.25 L145.8,271.37 L145.8,271.4 Z" fill="#9a9a9a" stroke="#444" stroke-width="0.6" stroke-linejoin="round"/>
<path d="M84,295.2 L84,295.2 L84.8,294.67 L85.6,294.01 L86.4,293.58 L87.2,292.71 L88,290.66 L88.8,288.63 L89.6,284.68 L90.4,281.98 L91.2,279.55 L92,277.72 L92.8,276.33 L93.6,276.62 L94.4,275.95 L95.2,276.37 L96,275.23 L96.8,276.66 L97.6,275.52 L98.4,276.81 L99.2,275.98 L100,276.66 L100.8,276.54 L101.6,275.8 L102.4,277.26 L103.2,277.62 L104,276.91 L104.8,278.31 L105.6,279.71 L106.4,278.95 L107.2,279.67 L108,281.65 L108.8,281.76 L109.6,282.75 L110.4,282.87 L111.2,282.64 L112,283.55 L112.8,282.83 L113.6,284.02 L114.4,284.01 L115.2,283.15 L116,284.01 L116.8,284.24 L117.6,284.29 L118.4,284.86 L119.2,285.37 L120,286.29 L120.8,285.53 L121.6,285.49 L122.4,285.82 L123.2,286.65 L124,287.47 L124.8,287.78 L125.6,287.58 L126.4,287.91 L127.2,289.08 L128,289.12 L128.8,289.13 L129.6,289.1 L130.4,288.84 L131.2,289.57 L132,290.55 L132.8,289.5 L133.6,290.34 L134.4,290.39 L135.2,291.04 L136,290.89 L136.8,291.12 L137.6,290.66 L138.4,291.87 L139.2,291.3 L140,291.99 L140.8,291.37 L141.6,292.42 L142.4,292.21 L143.2,292.25 L144,292.07 L144.8,292.95 L145.6,292.81 L146.4,293.37 L147.2,293.64 L148,293.91 L148.8,294.13 L149.6,294.63 L150.4,294.84 L151.2,294.98 L152,295.08 L152.8,295.17 L152.8,295.2 Z" fill="#9a9a9a" stroke="#444" stroke-width="0.6" stroke-linejoin="round"/>
<path d="M82,319.2 L82,319.2 L82.8,318.79 L83.6,318.41 L84.4,317.83 L85.2,317.38 L86,316.36 L86.8,314.67 L87.6,312.2 L88.4,309.19 L89.2,307.3 L90,305.05 L90.8,303.59 L91.6,302.18 L92.4,301.25 L93.2,300.8 L94,301.53 L94.8,302.99 L95.6,303.87 L96.4,304.98 L97.2,305.5 L98,306.7 L98.8,307.72 L99.6,308.57 L100.4,309.44 L101.2,310.02 L102,310.82 L102.8,311.85 L103.6,311.92 L104.4,312.72 L105.2,312.97 L106,313.54 L106.8,314.02 L107.6,314.36 L108.4,314.56 L109.2,314.87 L110,315.19 L110.8,314.78 L111.6,314.91 L112.4,314.89 L113.2,315.23 L114,315.43 L114.8,315.39 L115.6,315.93 L116.4,315.64 L117.2,315.87 L118,316.12 L118.8,316.16 L119.6,316.01 L120.4,316.23 L121.2,316.16 L122,316.14 L122.8,316.32 L123.6,316.53 L124.4,316.38 L125.2,316.58 L126,316.64 L126.8,316.71 L127.6,316.68 L128.4,316.88 L129.2,316.66 L130,316.58 L130.8,316.92 L131.6,316.85 L132.4,316.83 L133.2,317.29 L134,317.33 L134.8,317.14 L135.6,317.22 L136.4,317.38 L137.2,317.63 L138,317.63 L138.8,317.57 L139.6,317.66 L140.4,317.78 L141.2,318.02 L142,317.95 L142.8,318.16 L143.6,318.18 L144.4,318.39 L145.2,318.43 L146,318.54 L146.8,318.67 L147.6,318.79 L148.4,318.93 L149.2,319.07 L150,319.2 L150,319.2 Z" fill="#9a9a9a" stroke="#444" stroke-width="0.6" stroke-linejoin="round"/>
<path d="M83,342.3 L83,342.3 L83.8,341.95 L84.6,341.63 L85.4,341.12 L86.2,340.58 L87,339.41 L87.8,336.75 L88.6,333.41 L89.4,329.88 L90.2,326.47 L91,323.8 L91.8,321.66 L92.6,321.89 L93.4,322.88 L94.2,324.16 L95,326.39 L95.8,328.73 L96.6,331.01 L97.4,333.65 L98.2,335.93 L99,337.27 L99.8,338.44 L100.6,339.57 L101.4,340.03 L102.2,340.62 L103,340.81 L103.8,341.01 L104.6,341.1 L105.4,341.06 L106.2,341.24 L107,341.19 L107.8,341.31 L108.6,341.31 L109.4,341.29 L110.2,341.33 L111,341.43 L111.8,341.38 L112.6,341.4 L113.4,341.48 L114.2,341.51 L115,341.44 L115.8,341.5 L116.6,341.52 L117.4,341.54 L118.2,341.55 L119,341.57 L119.8,341.59 L120.6,341.62 L121.4,341.64 L122.2,341.66 L123,341.68 L123.8,341.71 L124.6,341.73 L125.4,341.75 L126.2,341.78 L127,341.8 L127.8,341.83 L128.6,341.85 L129.4,341.88 L130.2,341.91 L131,341.94 L131.8,341.97 L132.6,342 L133.4,342.03 L134.2,342.06 L135,342.09 L135.8,342.13 L136.6,342.16 L137.4,342.19 L138.2,342.23 L139,342.26 L139.8,342.29 L139.8,342.3 Z" fill="#9a9a9a" stroke="#444" stroke-width="0.6" stroke-linejoin="round"/>
<path d="M195,271.4 L195,271.4 L195.8,271.3 L196.6,271.19 L197.4,271.05 L198.2,270.82 L199,270.41 L199.8,269.97 L200.6,269.73 L201.4,269.5 L202.2,269.43 L203,269.39 L203.8,269.1 L204.6,268.89 L205.4,269.07 L206.2,268.65 L207,268.94 L207.8,268.99 L208.6,269.16 L209.4,268.77 L210.2,268.96 L211,268.93 L211.8,269.03 L212.6,269.26 L213.4,269.07 L214.2,268.93 L215,269.06 L215.8,268.58 L216.6,268.85 L217.4,268.95 L218.2,268.59 L219,268.95 L219.8,268.48 L220.6,268.67 L221.4,268.52 L222.2,268.56 L223,268.38 L223.8,268.44 L224.6,268.32 L225.4,267.36 L226.2,267.2 L227,265.73 L227.8,264.8 L228.6,262.71 L229.4,261.46 L230.2,260.29 L231,259.05 L231.8,258.09 L232.6,257.05 L233.4,256.8 L234.2,256.15 L235,255.97 L235.8,257.03 L236.6,257.44 L237.4,258.88 L238.2,261.08 L239,263.13 L239.8,264.98 L240.6,266.83 L241.4,268.18 L242.2,269.62 L243,270.32 L243.8,270.65 L244.6,270.85 L245.4,271.05 L246.2,271.21 L247,271.4 L247,271.4 Z" fill="#9a9a9a" stroke="#444" stroke-width="0.6" stroke-linejoin="round"/>
<path d="M199,295.2 L199,295.2 L199.8,294.78 L200.6,294.44 L201.4,293.85 L202.2,293.71 L203,293.37 L203.8,292.77 L204.6,292.61 L205.4,292.09 L206.2,292.36 L207,291.9 L207.8,292.35 L208.6,292.28 L209.4,292.2 L210.2,292.42 L211,292.36 L211.8,292.49 L212.6,292.79 L213.4,292.27 L214.2,292.33 L215,292.37 L215.8,292.3 L216.6,291.71 L217.4,291.69 L218.2,291.22 L219,291.1 L219.8,290.68 L220.6,290.7 L221.4,290.26 L222.2,289.95 L223,289.79 L223.8,288.71 L224.6,288.62 L225.4,287.56 L226.2,286.66 L227,286.08 L227.8,285.58 L228.6,284.03 L229.4,283.11 L230.2,282.44 L231,281.56 L231.8,280.19 L232.6,279.6 L233.4,278.15 L234.2,278.3 L235,278.81 L235.8,279.97 L236.6,281.12 L237.4,282.54 L238.2,284.72 L239,286.3 L239.8,287.8 L240.6,289.71 L241.4,290.83 L242.2,291.86 L243,292.65 L243.8,293.13 L244.6,293.72 L245.4,294.31 L246.2,294.7 L247,295.2 L247,295.2 Z" fill="#9a9a9a" stroke="#444" stroke-width="0.6" stroke-linejoin="round"/>
<path d="M192,319.2 L192,319.2 L192.8,318.8 L193.6,318.34 L194.4,318.1 L195.2,317.57 L196,317.23 L196.8,316.76 L197.6,316.55 L198.4,316.11 L199.2,315.56 L200,315.42 L200.8,314.95 L201.6,315.04 L202.4,314.75 L203.2,314.05 L204,314.13 L204.8,314 L205.6,313.92 L206.4,314.5 L207.2,315.15 L208,314.96 L208.8,315.37 L209.6,315.47 L210.4,315.58 L211.2,315.4 L212,315.85 L212.8,315.6 L213.6,315.88 L214.4,315.75 L215.2,315.69 L216,315.94 L216.8,316.11 L217.6,315.86 L218.4,315.69 L219.2,315.74 L220,315.78 L220.8,315.53 L221.6,315.7 L222.4,315.52 L223.2,315.17 L224,314.48 L224.8,314.6 L225.6,314.18 L226.4,313.51 L227.2,312.49 L228,310.9 L228.8,309.42 L229.6,308.3 L230.4,307.91 L231.2,307.17 L232,306.6 L232.8,306.15 L233.6,306.06 L234.4,306.47 L235.2,304.12 L236,304.35 L236.8,304.86 L237.6,306.29 L238.4,307.8 L239.2,310.22 L240,311.99 L240.8,313.46 L241.6,315.1 L242.4,315.97 L243.2,317.2 L244,317.56 L244.8,318.25 L245.6,318.47 L246.4,318.73 L247.2,318.96 L248,319.2 L248,319.2 Z" fill="#9a9a9a" stroke="#444" stroke-width="0.6" stroke-linejoin="round"/>
<path d="M192,342.3 L192,342.3 L192.8,341.82 L193.6,341.42 L194.4,340.69 L195.2,340.33 L196,339.2 L196.8,338.16 L197.6,335.69 L198.4,334.04 L199.2,331.66 L200,329.68 L200.8,327.92 L201.6,327.37 L202.4,327.6 L203.2,328.84 L204,330.61 L204.8,330.98 L205.6,331.25 L206.4,332.02 L207.2,332.81 L208,333.46 L208.8,333.46 L209.6,334.67 L210.4,334.6 L211.2,334.92 L212,335.77 L212.8,335.83 L213.6,335.97 L214.4,335.86 L215.2,336.06 L216,335.69 L216.8,335.74 L217.6,336.34 L218.4,336 L219.2,336.81 L220,336.91 L220.8,336.55 L221.6,336.46 L222.4,336.38 L223.2,336.06 L224,335.89 L224.8,336.02 L225.6,335.28 L226.4,334.76 L227.2,334.95 L228,334.13 L228.8,334.06 L229.6,334.03 L230.4,334.06 L231.2,334.43 L232,334.72 L232.8,335.9 L233.6,336.14 L234.4,336.3 L235.2,337.04 L236,337.77 L236.8,338.57 L237.6,338.87 L238.4,339.66 L239.2,339.99 L240,340.45 L240.8,340.88 L241.6,341.09 L242.4,341.47 L243.2,341.72 L244,341.97 L244.8,342.23 L244.8,342.3 Z" fill="#9a9a9a" stroke="#444" stroke-width="0.6" stroke-linejoin="round"/>
<path d="M294,271.4 L294,271.4 L294.8,271.34 L295.6,271.27 L296.4,271.2 L297.2,271.11 L298,271 L298.8,270.85 L299.6,270.69 L300.4,270.61 L301.2,270.26 L302,270.1 L302.8,270.14 L303.6,269.8 L304.4,269.68 L305.2,269.54 L306,269.02 L306.8,269.43 L307.6,269.35 L308.4,268.5 L309.2,268.78 L310,268.84 L310.8,268.61 L311.6,268.27 L312.4,266.94 L313.2,267.08 L314,266.38 L314.8,265.19 L315.6,264.39 L316.4,263 L317.2,262.27 L318,262.12 L318.8,261.91 L319.6,261.33 L320.4,261.71 L321.2,263.01 L322,261.66 L322.8,260.99 L323.6,260.8 L324.4,261.05 L325.2,260.68 L326,261.52 L326.8,263.01 L327.6,263.23 L328.4,264.3 L329.2,265.03 L330,265.2 L330.8,265.75 L331.6,266.23 L332.4,266.5 L333.2,266.87 L334,267.44 L334.8,268.24 L335.6,269.04 L336.4,269.84 L337.2,270.47 L338,270.71 L338.8,270.93 L339.6,271.12 L340.4,271.25 L341.2,271.34 L342,271.4 L342,271.4 Z" fill="#9a9a9a" stroke="#444" stroke-width="0.6" stroke-linejoin="round"/>
<path d="M285,295.2 L285,295.2 L285.8,294.4 L286.6,293.75 L287.4,292.37 L288.2,291.95 L289,290.65 L289.8,290.93 L290.6,289.52 L291.4,288.44 L292.2,288.66 L293,287.6 L293.8,287.39 L294.6,288.01 L295.4,288.38 L296.2,286.71 L297,287.46 L297.8,287.18 L298.6,285.33 L299.4,284.64 L300.2,284.29 L301,283.79 L301.8,284.89 L302.6,284.87 L303.4,284.58 L304.2,282.83 L305,284.21 L305.8,283.96 L306.6,284.1 L307.4,283.95 L308.2,283.83 L309,282.99 L309.8,282.83 L310.6,281.96 L311.4,280.04 L312.2,281.1 L313,280.48 L313.8,281.38 L314.6,282.2 L315.4,281.97 L316.2,280.51 L317,279.54 L317.8,278.79 L318.6,278.18 L319.4,279.17 L320.2,280 L321,279.63 L321.8,280.47 L322.6,280.59 L323.4,279.77 L324.2,279.46 L325,280.69 L325.8,281.02 L326.6,283.02 L327.4,283.9 L328.2,283.34 L329,284.7 L329.8,285.2 L330.6,286.92 L331.4,289.48 L332.2,291.46 L333,292.32 L333.8,291.54 L334.6,292.57 L335.4,292.99 L336.2,293.88 L337,294.12 L337.8,294.65 L338.6,294.93 L339.4,295.1 L339.4,295.2 Z" fill="#9a9a9a" stroke="#444" stroke-width="0.6" stroke-linejoin="round"/>
<path d="M303,319.2 L303,319.2 L303.8,319 L304.6,318.81 L305.4,318.59 L306.2,318.3 L307,317.88 L307.8,317.41 L308.6,317.27 L309.4,316.45 L310.2,315.83 L311,315.2 L311.8,313.89 L312.6,313.38 L313.4,312.43 L314.2,310.86 L315,310.06 L315.8,309.24 L316.6,308 L317.4,306.56 L318.2,305.78 L319,304.09 L319.8,302.86 L320.6,302.05 L321.4,300.61 L322.2,299.75 L323,299.73 L323.8,299.67 L324.6,300.71 L325.4,301.52 L326.2,301.45 L327,303.16 L327.8,304.44 L328.6,305.11 L329.4,306.72 L330.2,309.05 L331,310.57 L331.8,312.12 L332.6,313.3 L333.4,314.65 L334.2,315.08 L335,316.06 L335.8,316.61 L336.6,317.21 L337.4,317.64 L338.2,317.98 L339,318.03 L339.8,318.43 L340.6,318.7 L341.4,318.98 L341.4,319.2 Z" fill="#9a9a9a" stroke="#444" stroke-width="0.6" stroke-linejoin="round"/>
<path d="M295,342.3 L295,342.3 L295.8,342.08 L296.6,341.86 L297.4,341.63 L298.2,341.31 L299,341.19 L299.8,340.71 L300.6,340.6 L301.4,340.35 L302.2,340.13 L303,339.45 L303.8,339.22 L304.6,338.56 L305.4,337.58 L306.2,336.72 L307,336.03 L307.8,335.92 L308.6,335.15 L309.4,334.09 L310.2,332.85 L311,331.54 L311.8,330.52 L312.6,329.36 L313.4,328.74 L314.2,327.76 L315,327.19 L315.8,326.27 L316.6,325.51 L317.4,324.34 L318.2,323.41 L319,322.79 L319.8,322.85 L320.6,323.18 L321.4,324.02 L322.2,324.15 L323,325.08 L323.8,325.67 L324.6,326.49 L325.4,328.11 L326.2,329.58 L327,330.83 L327.8,331.56 L328.6,332.98 L329.4,334.67 L330.2,335.57 L331,337.18 L331.8,337.69 L332.6,339.25 L333.4,339.44 L334.2,339.91 L335,340.65 L335.8,341.02 L336.6,341.4 L337.4,341.56 L338.2,341.76 L339,341.92 L339.8,342.07 L340.6,342.22 L340.6,342.3 Z" fill="#9a9a9a" stroke="#444" stroke-width="0.6" stroke-linejoin="round"/>
<path d="M84,368.7 L84,368.7 L84.8,368.55 L85.6,368.4 L86.4,368.25 L87.2,368.1 L88,367.94 L88.8,367.76 L89.6,367.63 L90.4,367.31 L91.2,367.16 L92,366.84 L92.8,366.68 L93.6,366.32 L94.4,366.33 L95.2,366.29 L96,366.02 L96.8,365.1 L97.6,365.26 L98.4,364.18 L99.2,363.65 L100,363.73 L100.8,362.21 L101.6,362.41 L102.4,360.67 L103.2,359.97 L104,360.04 L104.8,358.79 L105.6,358.15 L106.4,358.28 L107.2,357.04 L108,357.15 L108.8,355.69 L109.6,355.46 L110.4,354.65 L111.2,355.33 L112,354.62 L112.8,353.91 L113.6,353.62 L114.4,353.85 L115.2,352.73 L116,352.48 L116.8,352.74 L117.6,352.47 L118.4,351.48 L119.2,351.71 L120,351.9 L120.8,352.99 L121.6,353.97 L122.4,355.05 L123.2,355.44 L124,355.54 L124.8,355.68 L125.6,356.48 L126.4,356.5 L127.2,357.09 L128,356.97 L128.8,357.53 L129.6,358.24 L130.4,358.83 L131.2,359.34 L132,359.82 L132.8,359.29 L133.6,359.73 L134.4,360.32 L135.2,361.53 L136,361.31 L136.8,362.38 L137.6,361.88 L138.4,362.58 L139.2,362.88 L140,363.45 L140.8,364.06 L141.6,363.91 L142.4,364.1 L143.2,365.26 L144,365.32 L144.8,365.31 L145.6,365.64 L146.4,366.12 L147.2,366.33 L148,366.22 L148.8,366.89 L149.6,367.12 L150.4,367.08 L151.2,367.43 L152,367.36 L152.8,367.69 L153.6,367.66 L154.4,367.93 L155.2,368.02 L156,368.13 L156.8,368.25 L157.6,368.36 L158.4,368.47 L159.2,368.59 L160,368.7 L160,368.7 Z" fill="#9a9a9a" stroke="#444" stroke-width="0.6" stroke-linejoin="round"/>
<path d="M73,392.2 L73,392.2 L73.8,391.97 L74.6,391.74 L75.4,391.48 L76.2,391.07 L77,390.62 L77.8,389.84 L78.6,389.7 L79.4,388.61 L80.2,388.2 L81,387.04 L81.8,385.69 L82.6,385.18 L83.4,383.85 L84.2,382.16 L85,381.15 L85.8,380.37 L86.6,378.72 L87.4,377.28 L88.2,377.16 L89,375.3 L89.8,374.73 L90.6,374.72 L91.4,374.83 L92.2,374.09 L93,375.23 L93.8,375.83 L94.6,375.96 L95.4,375.11 L96.2,375.43 L97,375.23 L97.8,375.4 L98.6,375.75 L99.4,375.35 L100.2,376.23 L101,376.24 L101.8,376.22 L102.6,376.93 L103.4,377.25 L104.2,378.28 L105,378.78 L105.8,380.11 L106.6,380.37 L107.4,380.74 L108.2,381.43 L109,381.65 L109.8,382.2 L110.6,382.33 L111.4,382.22 L112.2,382.83 L113,383.01 L113.8,383.34 L114.6,383.35 L115.4,382.58 L116.2,382.94 L117,383.01 L117.8,383.58 L118.6,382.99 L119.4,383.76 L120.2,383.59 L121,382.96 L121.8,383.47 L122.6,383.64 L123.4,383.54 L124.2,383.39 L125,383.46 L125.8,384.08 L126.6,384.27 L127.4,383.87 L128.2,383.89 L129,383.94 L129.8,383.07 L130.6,383.18 L131.4,383.89 L132.2,383.52 L133,383.88 L133.8,383.33 L134.6,383.94 L135.4,384.27 L136.2,384.4 L137,384.18 L137.8,384.72 L138.6,384.6 L139.4,384.56 L140.2,385.56 L141,386.23 L141.8,385.76 L142.6,386.78 L143.4,387.67 L144.2,388.09 L145,388.38 L145.8,388.11 L146.6,388.29 L147.4,389.02 L148.2,389.67 L149,389.71 L149.8,389.61 L150.6,390.25 L151.4,390.35 L152.2,390.75 L153,391.35 L153.8,391.49 L154.6,391.76 L155.4,392.01 L155.4,392.2 Z" fill="#9a9a9a" stroke="#444" stroke-width="0.6" stroke-linejoin="round"/>
<path d="M74,416 L74,416 L74.8,415.75 L75.6,415.51 L76.4,415.24 L77.2,414.87 L78,414.39 L78.8,413.99 L79.6,413.37 L80.4,413.08 L81.2,411.96 L82,411.13 L82.8,409.6 L83.6,408.71 L84.4,407.23 L85.2,406.27 L86,405.32 L86.8,403.47 L87.6,402.31 L88.4,401.6 L89.2,400.81 L90,399.49 L90.8,398.76 L91.6,397.87 L92.4,397.56 L93.2,397.29 L94,397.01 L94.8,397.23 L95.6,397.79 L96.4,398.08 L97.2,397.37 L98,397.42 L98.8,397.94 L99.6,397.61 L100.4,398.49 L101.2,399.52 L102,399.43 L102.8,400.39 L103.6,400.73 L104.4,401.67 L105.2,402.99 L106,403.21 L106.8,403.77 L107.6,404.3 L108.4,405.41 L109.2,405.67 L110,405.89 L110.8,406.76 L111.6,406.39 L112.4,406.76 L113.2,407.78 L114,407.53 L114.8,408.02 L115.6,408.45 L116.4,408.25 L117.2,408.07 L118,408.65 L118.8,409.2 L119.6,408.93 L120.4,408.73 L121.2,408.63 L122,408.94 L122.8,409.67 L123.6,408.8 L124.4,409.21 L125.2,409.77 L126,409.77 L126.8,409.84 L127.6,409.28 L128.4,409.8 L129.2,409.15 L130,409.84 L130.8,409.41 L131.6,409.51 L132.4,409.94 L133.2,410.01 L134,409.16 L134.8,409.14 L135.6,410.05 L136.4,409.52 L137.2,409.37 L138,409.59 L138.8,409.79 L139.6,410.6 L140.4,410.53 L141.2,411.11 L142,411.07 L142.8,411.72 L143.6,411.99 L144.4,412.39 L145.2,413.14 L146,413.29 L146.8,414.02 L147.6,414.28 L148.4,414.3 L149.2,414.79 L150,414.97 L150.8,415.23 L151.6,415.43 L152.4,415.63 L153.2,415.81 L154,416 L154,416 Z" fill="#9a9a9a" stroke="#444" stroke-width="0.6" stroke-linejoin="round"/>
<path d="M80,440 L80,440 L80.8,439.52 L81.6,438.99 L82.4,438.63 L83.2,438.02 L84,437.28 L84.8,435.87 L85.6,434.06 L86.4,431.81 L87.2,429.49 L88,427.05 L88.8,425.19 L89.6,423.48 L90.4,421.77 L91.2,420.14 L92,419.8 L92.8,420.19 L93.6,420.4 L94.4,421.62 L95.2,423.08 L96,424.2 L96.8,425.34 L97.6,425.82 L98.4,427.67 L99.2,428.41 L100,429.31 L100.8,431.12 L101.6,431.81 L102.4,432.64 L103.2,433.13 L104,434.47 L104.8,435.11 L105.6,435.78 L106.4,436.5 L107.2,436.5 L108,436.81 L108.8,437.32 L109.6,437.75 L110.4,437.63 L111.2,437.81 L112,438 L112.8,438.27 L113.6,438.22 L114.4,438.41 L115.2,438.54 L116,438.65 L116.8,438.81 L117.6,438.83 L118.4,438.83 L119.2,438.93 L120,439.06 L120.8,439.04 L121.6,439.11 L122.4,439.23 L123.2,439.3 L124,439.36 L124.8,439.42 L125.6,439.48 L126.4,439.53 L127.2,439.59 L128,439.64 L128.8,439.69 L129.6,439.73 L130.4,439.78 L131.2,439.82 L132,439.86 L132.8,439.9 L133.6,439.93 L134.4,439.97 L134.4,440 Z" fill="#9a9a9a" stroke="#444" stroke-width="0.6" stroke-linejoin="round"/>
<path d="M205,368.7 L205,368.7 L205.8,368.39 L206.6,368.08 L207.4,367.66 L208.2,367.52 L209,367.04 L209.8,366.45 L210.6,366.42 L211.4,365.59 L212.2,365.38 L213,365.14 L213.8,364.61 L214.6,364.22 L215.4,364.06 L216.2,362.9 L217,363.29 L217.8,362.43 L218.6,362.56 L219.4,363.51 L220.2,363.02 L221,362.16 L221.8,360.65 L222.6,360.15 L223.4,358.68 L224.2,358.31 L225,357.3 L225.8,356.77 L226.6,356.8 L227.4,357.55 L228.2,356.95 L229,357.13 L229.8,356 L230.6,355.63 L231.4,354.17 L232.2,353.53 L233,354.48 L233.8,355.96 L234.6,357.24 L235.4,358.73 L236.2,360.45 L237,360.73 L237.8,362.48 L238.6,363.98 L239.4,364.28 L240.2,364.95 L241,365.71 L241.8,365.55 L242.6,366.69 L243.4,366.67 L244.2,367.3 L245,367.8 L245.8,367.99 L246.6,368.21 L247.4,368.39 L248.2,368.54 L249,368.7 L249,368.7 Z" fill="#a9a9a9" stroke="#444" stroke-width="0.6" stroke-linejoin="round"/>
<path d="M189,392.2 L189,392.2 L189.8,391.78 L190.6,391.5 L191.4,391.33 L192.2,391.07 L193,391.12 L193.8,390.84 L194.6,391.05 L195.4,390.65 L196.2,390.83 L197,390.9 L197.8,390.82 L198.6,390.68 L199.4,390.94 L200.2,390.79 L201,390.95 L201.8,390.92 L202.6,390.86 L203.4,390.81 L204.2,390.77 L205,390.5 L205.8,390.65 L206.6,390.4 L207.4,390.35 L208.2,390.3 L209,390.22 L209.8,390.34 L210.6,390.2 L211.4,389.91 L212.2,389.87 L213,389.77 L213.8,389.03 L214.6,388.6 L215.4,388.48 L216.2,387.89 L217,386.99 L217.8,385.52 L218.6,384.53 L219.4,383.89 L220.2,383.44 L221,383.65 L221.8,384.59 L222.6,382.47 L223.4,380.95 L224.2,379.55 L225,378.91 L225.8,378.2 L226.6,377.38 L227.4,376.67 L228.2,375.35 L229,374.89 L229.8,373.72 L230.6,373.65 L231.4,374.47 L232.2,375.72 L233,377.07 L233.8,379.34 L234.6,379.97 L235.4,381.77 L236.2,383.49 L237,385.52 L237.8,386.3 L238.6,387.56 L239.4,389.05 L240.2,389.3 L241,389.87 L241.8,390.49 L242.6,390.85 L243.4,391.29 L244.2,391.54 L245,391.74 L245.8,391.93 L246.6,392.11 L246.6,392.2 Z" fill="#9a9a9a" stroke="#444" stroke-width="0.6" stroke-linejoin="round"/>
<path d="M199,416 L199,416 L199.8,415.83 L200.6,415.66 L201.4,415.5 L202.2,415.34 L203,415.2 L203.8,415.04 L204.6,414.97 L205.4,414.86 L206.2,415.02 L207,414.83 L207.8,414.27 L208.6,414.14 L209.4,414.17 L210.2,413.61 L211,413.73 L211.8,413.28 L212.6,412.87 L213.4,412.74 L214.2,412.52 L215,411.63 L215.8,410.78 L216.6,409.98 L217.4,407.27 L218.2,403.74 L219,403.13 L219.8,402.12 L220.6,402.02 L221.4,400.99 L222.2,400.88 L223,400.41 L223.8,399.81 L224.6,398.2 L225.4,397.79 L226.2,398.35 L227,398.33 L227.8,399.65 L228.6,400.29 L229.4,400.5 L230.2,402.53 L231,403.9 L231.8,405.39 L232.6,406.07 L233.4,407.5 L234.2,410.14 L235,411.3 L235.8,412.83 L236.6,413.85 L237.4,414.44 L238.2,414.71 L239,415.14 L239.8,415.26 L240.6,415.45 L241.4,415.64 L242.2,415.82 L243,416 L243,416 Z" fill="#9a9a9a" stroke="#444" stroke-width="0.6" stroke-linejoin="round"/>
<path d="M196,440 L196,440 L196.8,439.84 L197.6,439.68 L198.4,439.52 L199.2,439.36 L200,439.23 L200.8,439.06 L201.6,438.88 L202.4,438.8 L203.2,438.4 L204,438.2 L204.8,438.1 L205.6,438.26 L206.4,437.29 L207.2,437.12 L208,436.51 L208.8,435.95 L209.6,435.34 L210.4,434.17 L211.2,434.24 L212,433.63 L212.8,431.73 L213.6,431.61 L214.4,430.45 L215.2,429.08 L216,427.43 L216.8,427.18 L217.6,427.02 L218.4,426.25 L219.2,425.63 L220,424.43 L220.8,421.44 L221.6,420.78 L222.4,422.61 L223.2,423.71 L224,422.57 L224.8,422.34 L225.6,422.58 L226.4,422.62 L227.2,422.39 L228,423.61 L228.8,425.64 L229.6,429.78 L230.4,431.43 L231.2,433.68 L232,435.16 L232.8,436.33 L233.6,437.25 L234.4,437.76 L235.2,438.74 L236,439.25 L236.8,439.62 L237.6,439.81 L238.4,439.92 L238.4,440 Z" fill="#9a9a9a" stroke="#444" stroke-width="0.6" stroke-linejoin="round"/>
<path d="M299,368.7 L299,368.7 L299.8,368.53 L300.6,368.38 L301.4,368.21 L302.2,368.03 L303,367.78 L303.8,367.57 L304.6,367.29 L305.4,366.9 L306.2,366.5 L307,366.12 L307.8,365.23 L308.6,364.38 L309.4,363.98 L310.2,363.41 L311,363.06 L311.8,362.3 L312.6,361.9 L313.4,360.6 L314.2,360.26 L315,359.44 L315.8,357.92 L316.6,357.75 L317.4,356.37 L318.2,356.04 L319,355.23 L319.8,354.69 L320.6,354.41 L321.4,353.01 L322.2,352.41 L323,351.14 L323.8,350.38 L324.6,349.74 L325.4,349.7 L326.2,351.11 L327,351.26 L327.8,350.13 L328.6,349.66 L329.4,350.88 L330.2,352.33 L331,353.34 L331.8,354.84 L332.6,355.82 L333.4,356.53 L334.2,357.65 L335,359.33 L335.8,359.95 L336.6,361.07 L337.4,362.16 L338.2,363.46 L339,364.19 L339.8,365.35 L340.6,365.62 L341.4,366.34 L342.2,366.92 L343,367.47 L343.8,367.72 L344.6,368.12 L345.4,368.34 L346.2,368.52 L347,368.7 L347,368.7 Z" fill="#9a9a9a" stroke="#444" stroke-width="0.6" stroke-linejoin="round"/>
<path d="M301,392.2 L301,392.2 L301.8,392.03 L302.6,391.86 L303.4,391.67 L304.2,391.46 L305,391.1 L305.8,390.94 L306.6,390.54 L307.4,390.33 L308.2,389.43 L309,388.84 L309.8,388.91 L310.6,388.36 L311.4,387.31 L312.2,386.5 L313,385.42 L313.8,384.96 L314.6,383.75 L315.4,383.17 L316.2,382.06 L317,381.12 L317.8,379.52 L318.6,378.29 L319.4,376.99 L320.2,375.46 L321,374.89 L321.8,373.67 L322.6,372.52 L323.4,371.14 L324.2,371.59 L325,371.98 L325.8,372.44 L326.6,373.02 L327.4,374.53 L328.2,376.02 L329,377.03 L329.8,378.74 L330.6,380.27 L331.4,382.43 L332.2,383.74 L333,385.3 L333.8,386.27 L334.6,386.84 L335.4,387.76 L336.2,388.83 L337,389.89 L337.8,390.33 L338.6,390.66 L339.4,391.14 L340.2,391.4 L341,391.63 L341.8,391.85 L342.6,392.08 L342.6,392.2 Z" fill="#9a9a9a" stroke="#444" stroke-width="0.6" stroke-linejoin="round"/>
<path d="M299,416 L299,416 L299.8,415.79 L300.6,415.58 L301.4,415.36 L302.2,415.2 L303,414.73 L303.8,414.6 L304.6,414.19 L305.4,413.85 L306.2,412.99 L307,412.2 L307.8,411.71 L308.6,411.35 L309.4,409.91 L310.2,409.02 L311,408.67 L311.8,407.8 L312.6,406.43 L313.4,405.12 L314.2,404.14 L315,403.12 L315.8,402.18 L316.6,401.52 L317.4,399.96 L318.2,399 L319,397.6 L319.8,396.46 L320.6,395.66 L321.4,394.63 L322.2,395.84 L323,396.37 L323.8,397.41 L324.6,397.88 L325.4,400.04 L326.2,400.99 L327,402.06 L327.8,403.88 L328.6,405.12 L329.4,407.18 L330.2,408.56 L331,409.91 L331.8,411.13 L332.6,412.21 L333.4,413.27 L334.2,413.35 L335,414.07 L335.8,414.53 L336.6,414.96 L337.4,415.32 L338.2,415.65 L339,416 L339,416 Z" fill="#9a9a9a" stroke="#444" stroke-width="0.6" stroke-linejoin="round"/>
<path d="M296,440 L296,440 L296.8,439.79 L297.6,439.58 L298.4,439.36 L299.2,439.21 L300,438.65 L300.8,438.36 L301.6,437.89 L302.4,437.41 L303.2,437.3 L304,436.22 L304.8,435.68 L305.6,435.45 L306.4,433.93 L307.2,433.48 L308,432.28 L308.8,431.94 L309.6,430.3 L310.4,429.87 L311.2,428.65 L312,427.39 L312.8,426.11 L313.6,424.12 L314.4,423.03 L315.2,421.64 L316,419.75 L316.8,418.97 L317.6,419.59 L318.4,420.73 L319.2,419.82 L320,419.35 L320.8,419.8 L321.6,420.88 L322.4,422.15 L323.2,423.33 L324,424.91 L324.8,426.4 L325.6,427.32 L326.4,429.08 L327.2,430.92 L328,432.39 L328.8,433.48 L329.6,434.55 L330.4,436.41 L331.2,436.59 L332,437.7 L332.8,438.02 L333.6,438.52 L334.4,439.07 L335.2,439.33 L336,439.63 L336.8,439.92 L336.8,440 Z" fill="#9a9a9a" stroke="#444" stroke-width="0.6" stroke-linejoin="round"/>
<line x1="71.9" y1="271.9" x2="165.9" y2="271.9" stroke="#c8c8c8" stroke-width="0.6" />
<line x1="71.9" y1="295.7" x2="165.9" y2="295.7" stroke="#c8c8c8" stroke-width="0.6" />
<line x1="71.9" y1="319.7" x2="165.9" y2="319.7" stroke="#c8c8c8" stroke-width="0.6" />
<rect x="71.9" y="248.2" width="94" height="94.3" fill="none" stroke="#231f20" stroke-width="1.25"/>
<line x1="71.9" y1="369.2" x2="165.9" y2="369.2" stroke="#c8c8c8" stroke-width="0.6" />
<line x1="71.9" y1="392.7" x2="165.9" y2="392.7" stroke="#c8c8c8" stroke-width="0.6" />
<line x1="71.9" y1="416.5" x2="165.9" y2="416.5" stroke="#c8c8c8" stroke-width="0.6" />
<rect x="71.9" y="345.9" width="94" height="94.6" fill="none" stroke="#231f20" stroke-width="1.25"/>
<line x1="169.2" y1="271.9" x2="262.7" y2="271.9" stroke="#c8c8c8" stroke-width="0.6" />
<line x1="169.2" y1="295.7" x2="262.7" y2="295.7" stroke="#c8c8c8" stroke-width="0.6" />
<line x1="169.2" y1="319.7" x2="262.7" y2="319.7" stroke="#c8c8c8" stroke-width="0.6" />
<rect x="169.2" y="248.2" width="93.5" height="94.3" fill="none" stroke="#231f20" stroke-width="1.25"/>
<line x1="169.2" y1="369.2" x2="262.7" y2="369.2" stroke="#c8c8c8" stroke-width="0.6" />
<line x1="169.2" y1="392.7" x2="262.7" y2="392.7" stroke="#c8c8c8" stroke-width="0.6" />
<line x1="169.2" y1="416.5" x2="262.7" y2="416.5" stroke="#c8c8c8" stroke-width="0.6" />
<rect x="169.2" y="345.9" width="93.5" height="94.6" fill="none" stroke="#231f20" stroke-width="1.25"/>
<line x1="266.2" y1="271.9" x2="360.9" y2="271.9" stroke="#c8c8c8" stroke-width="0.6" />
<line x1="266.2" y1="295.7" x2="360.9" y2="295.7" stroke="#c8c8c8" stroke-width="0.6" />
<line x1="266.2" y1="319.7" x2="360.9" y2="319.7" stroke="#c8c8c8" stroke-width="0.6" />
<rect x="266.2" y="248.2" width="94.7" height="94.3" fill="none" stroke="#231f20" stroke-width="1.25"/>
<line x1="266.2" y1="369.2" x2="360.9" y2="369.2" stroke="#c8c8c8" stroke-width="0.6" />
<line x1="266.2" y1="392.7" x2="360.9" y2="392.7" stroke="#c8c8c8" stroke-width="0.6" />
<line x1="266.2" y1="416.5" x2="360.9" y2="416.5" stroke="#c8c8c8" stroke-width="0.6" />
<rect x="266.2" y="345.9" width="94.7" height="94.6" fill="none" stroke="#231f20" stroke-width="1.25"/>
<text font-size="7.7" text-anchor="end" fill="#333" transform="translate(68.3 263) scale(0.9346 1)" stroke="#333" stroke-width="0.25" >30</text>
<text font-size="7.7" text-anchor="end" fill="#333" transform="translate(68.3 287.2) scale(0.9346 1)" stroke="#333" stroke-width="0.25" >10</text>
<text font-size="7.7" text-anchor="end" fill="#333" transform="translate(68.3 311) scale(0.9346 1)" stroke="#333" stroke-width="0.25" >6</text>
<text font-size="7.7" text-anchor="end" fill="#333" transform="translate(68.3 333.4) scale(0.9346 1)" stroke="#333" stroke-width="0.25" >0</text>
<text font-size="7.7" text-anchor="end" fill="#333" transform="translate(68.3 360.6) scale(0.9346 1)" stroke="#333" stroke-width="0.25" >30</text>
<text font-size="7.7" text-anchor="end" fill="#333" transform="translate(68.3 383.8) scale(0.9346 1)" stroke="#333" stroke-width="0.25" >10</text>
<text font-size="7.7" text-anchor="end" fill="#333" transform="translate(68.3 407.3) scale(0.9346 1)" stroke="#333" stroke-width="0.25" >6</text>
<text font-size="7.7" text-anchor="end" fill="#333" transform="translate(68.3 431.1) scale(0.9346 1)" stroke="#333" stroke-width="0.25" >0</text>
<text font-size="9.2" text-anchor="start" fill="#333" transform="translate(53.4 370.1) rotate(-90)" font-weight="bold" stroke="#333" stroke-width="0.05" textLength="51.2" lengthAdjust="spacingAndGlyphs" >Eltrombopag (&#956;M)</text>
<text font-size="9.2" text-anchor="start" fill="#333" transform="translate(372 313.5) rotate(-90)" font-weight="bold" stroke="#333" stroke-width="0.05" textLength="35.8" lengthAdjust="spacingAndGlyphs" >100% Holo-Tf</text>
<text font-size="9.2" text-anchor="start" fill="#333" transform="translate(372 408.8) rotate(-90)" font-weight="bold" stroke="#333" stroke-width="0.05" textLength="32.3" lengthAdjust="spacingAndGlyphs" >0% Holo-Tf</text>
<text font-size="9.2" text-anchor="start" fill="#333" transform="translate(203.8 451.2)" font-weight="bold" stroke="#333" stroke-width="0.05" textLength="25.4" lengthAdjust="spacingAndGlyphs" >TfR1 MFI</text>
<text font-size="11.77" text-anchor="start" fill="#000" transform="translate(7.1 474.3) scale(0.9346 1)" font-weight="bold" >D</text>
<line x1="71.5" y1="478.9" x2="71.5" y2="602" stroke="#333" stroke-width="1.2" />
<line x1="68.7" y1="601.5" x2="169.6" y2="601.5" stroke="#333" stroke-width="1.2" />
<line x1="68.7" y1="601.5" x2="71.5" y2="601.5" stroke="#333" stroke-width="1.0" />
<text font-size="8.45" text-anchor="end" fill="#333" transform="translate(65.5 603.9) scale(0.9346 1)" stroke="#333" stroke-width="0.25" >0</text>
<line x1="68.7" y1="578.2" x2="71.5" y2="578.2" stroke="#333" stroke-width="1.0" />
<text font-size="8.45" text-anchor="end" fill="#333" transform="translate(65.5 580.6) scale(0.9346 1)" stroke="#333" stroke-width="0.25" >2000</text>
<line x1="68.7" y1="554.9" x2="71.5" y2="554.9" stroke="#333" stroke-width="1.0" />
<text font-size="8.45" text-anchor="end" fill="#333" transform="translate(65.5 557.3) scale(0.9346 1)" stroke="#333" stroke-width="0.25" >4000</text>
<line x1="68.7" y1="531.6" x2="71.5" y2="531.6" stroke="#333" stroke-width="1.0" />
<text font-size="8.45" text-anchor="end" fill="#333" transform="translate(65.5 534) scale(0.9346 1)" stroke="#333" stroke-width="0.25" >6000</text>
<line x1="68.7" y1="508.3" x2="71.5" y2="508.3" stroke="#333" stroke-width="1.0" />
<text font-size="8.45" text-anchor="end" fill="#333" transform="translate(65.5 510.7) scale(0.9346 1)" stroke="#333" stroke-width="0.25" >8000</text>
<line x1="68.7" y1="485" x2="71.5" y2="485" stroke="#333" stroke-width="1.0" />
<text font-size="8.45" text-anchor="end" fill="#333" transform="translate(65.5 487.4) scale(0.9346 1)" stroke="#333" stroke-width="0.25" >10000</text>
<line x1="95.1" y1="601.5" x2="95.1" y2="605" stroke="#333" stroke-width="1.0" />
<line x1="81.25" y1="563.4" x2="81.25" y2="566.5" stroke="#c82033" stroke-width="1.0" />
<line x1="79.2" y1="563.4" x2="83.3" y2="563.4" stroke="#c82033" stroke-width="1.0" />
<rect x="77.4" y="566.5" width="7.7" height="35" fill="#c82033" stroke="none" stroke-width="1"/>
<line x1="95.2" y1="555.4" x2="95.2" y2="561.5" stroke="#125281" stroke-width="1.0" />
<line x1="93.15" y1="555.4" x2="97.25" y2="555.4" stroke="#125281" stroke-width="1.0" />
<rect x="91.35" y="561.5" width="7.7" height="40" fill="#125281" stroke="none" stroke-width="1"/>
<line x1="109.15" y1="556.4" x2="109.15" y2="560.3" stroke="#3cb44f" stroke-width="1.0" />
<line x1="107.1" y1="556.4" x2="111.2" y2="556.4" stroke="#3cb44f" stroke-width="1.0" />
<rect x="105.3" y="560.3" width="7.7" height="41.2" fill="#3cb44f" stroke="none" stroke-width="1"/>
<line x1="146.1" y1="601.5" x2="146.1" y2="605" stroke="#333" stroke-width="1.0" />
<line x1="132.25" y1="553.5" x2="132.25" y2="562.7" stroke="#c82033" stroke-width="1.0" />
<line x1="130.2" y1="553.5" x2="134.3" y2="553.5" stroke="#c82033" stroke-width="1.0" />
<rect x="128.4" y="562.7" width="7.7" height="38.8" fill="#c82033" stroke="none" stroke-width="1"/>
<line x1="146.2" y1="538.7" x2="146.2" y2="548.8" stroke="#125281" stroke-width="1.0" />
<line x1="144.15" y1="538.7" x2="148.25" y2="538.7" stroke="#125281" stroke-width="1.0" />
<rect x="142.35" y="548.8" width="7.7" height="52.7" fill="#125281" stroke="none" stroke-width="1"/>
<line x1="160.15" y1="533.9" x2="160.15" y2="540.6" stroke="#3cb44f" stroke-width="1.0" />
<line x1="158.1" y1="533.9" x2="162.2" y2="533.9" stroke="#3cb44f" stroke-width="1.0" />
<rect x="156.3" y="540.6" width="7.7" height="60.9" fill="#3cb44f" stroke="none" stroke-width="1"/>
<text font-size="8.67" text-anchor="middle" fill="#333" transform="translate(95.1 613.5) scale(0.9346 1)" stroke="#333" stroke-width="0.25" >6</text>
<text font-size="8.67" text-anchor="middle" fill="#333" transform="translate(146.1 613.5) scale(0.9346 1)" stroke="#333" stroke-width="0.25" >30</text>
<line x1="132.4" y1="526.3" x2="159.8" y2="526.3" stroke="#444" stroke-width="1.0" />
<circle cx="144.6" cy="523.2" r="0.85" fill="#333"/>
<circle cx="147.6" cy="523.2" r="0.85" fill="#333"/>
<line x1="228" y1="478.9" x2="228" y2="602" stroke="#333" stroke-width="1.2" />
<line x1="225.2" y1="601.5" x2="325.7" y2="601.5" stroke="#333" stroke-width="1.2" />
<line x1="225.2" y1="601.5" x2="228" y2="601.5" stroke="#333" stroke-width="1.0" />
<line x1="225.2" y1="578.2" x2="228" y2="578.2" stroke="#333" stroke-width="1.0" />
<line x1="225.2" y1="554.9" x2="228" y2="554.9" stroke="#333" stroke-width="1.0" />
<line x1="225.2" y1="531.6" x2="228" y2="531.6" stroke="#333" stroke-width="1.0" />
<line x1="225.2" y1="508.3" x2="228" y2="508.3" stroke="#333" stroke-width="1.0" />
<line x1="225.2" y1="485" x2="228" y2="485" stroke="#333" stroke-width="1.0" />
<line x1="251.2" y1="601.5" x2="251.2" y2="605" stroke="#333" stroke-width="1.0" />
<line x1="237.35" y1="512.3" x2="237.35" y2="522" stroke="#c82033" stroke-width="1.0" />
<line x1="235.3" y1="512.3" x2="239.4" y2="512.3" stroke="#c82033" stroke-width="1.0" />
<rect x="233.5" y="522" width="7.7" height="79.5" fill="#c82033" stroke="none" stroke-width="1"/>
<line x1="251.3" y1="516.2" x2="251.3" y2="524.6" stroke="#125281" stroke-width="1.0" />
<line x1="249.25" y1="516.2" x2="253.35" y2="516.2" stroke="#125281" stroke-width="1.0" />
<rect x="247.45" y="524.6" width="7.7" height="76.9" fill="#125281" stroke="none" stroke-width="1"/>
<line x1="265.25" y1="532.3" x2="265.25" y2="541.1" stroke="#3cb44f" stroke-width="1.0" />
<line x1="263.2" y1="532.3" x2="267.3" y2="532.3" stroke="#3cb44f" stroke-width="1.0" />
<rect x="261.4" y="541.1" width="7.7" height="60.4" fill="#3cb44f" stroke="none" stroke-width="1"/>
<line x1="301.9" y1="601.5" x2="301.9" y2="605" stroke="#333" stroke-width="1.0" />
<line x1="288.05" y1="519.5" x2="288.05" y2="526.6" stroke="#c82033" stroke-width="1.0" />
<line x1="286" y1="519.5" x2="290.1" y2="519.5" stroke="#c82033" stroke-width="1.0" />
<rect x="284.2" y="526.6" width="7.7" height="74.9" fill="#c82033" stroke="none" stroke-width="1"/>
<line x1="302" y1="495.4" x2="302" y2="507.2" stroke="#125281" stroke-width="1.0" />
<line x1="299.95" y1="495.4" x2="304.05" y2="495.4" stroke="#125281" stroke-width="1.0" />
<rect x="298.15" y="507.2" width="7.7" height="94.3" fill="#125281" stroke="none" stroke-width="1"/>
<line x1="315.95" y1="488.5" x2="315.95" y2="496.2" stroke="#3cb44f" stroke-width="1.0" />
<line x1="313.9" y1="488.5" x2="318" y2="488.5" stroke="#3cb44f" stroke-width="1.0" />
<rect x="312.1" y="496.2" width="7.7" height="105.3" fill="#3cb44f" stroke="none" stroke-width="1"/>
<text font-size="8.67" text-anchor="middle" fill="#333" transform="translate(251.2 613.5) scale(0.9346 1)" stroke="#333" stroke-width="0.25" >6</text>
<text font-size="8.67" text-anchor="middle" fill="#333" transform="translate(301.9 613.5) scale(0.9346 1)" stroke="#333" stroke-width="0.25" >30</text>
<line x1="237.7" y1="506.5" x2="264.9" y2="506.5" stroke="#444" stroke-width="1.0" />
<circle cx="251.3" cy="503.4" r="0.85" fill="#333"/>
<line x1="288.5" y1="485.4" x2="316.2" y2="485.4" stroke="#444" stroke-width="1.0" />
<circle cx="299.35" cy="482.3" r="0.85" fill="#333"/>
<circle cx="302.35" cy="482.3" r="0.85" fill="#333"/>
<circle cx="305.35" cy="482.3" r="0.85" fill="#333"/>
<line x1="384.3" y1="478.9" x2="384.3" y2="602" stroke="#333" stroke-width="1.2" />
<line x1="381.5" y1="601.5" x2="481.9" y2="601.5" stroke="#333" stroke-width="1.2" />
<line x1="381.5" y1="601.5" x2="384.3" y2="601.5" stroke="#333" stroke-width="1.0" />
<line x1="381.5" y1="578.2" x2="384.3" y2="578.2" stroke="#333" stroke-width="1.0" />
<line x1="381.5" y1="554.9" x2="384.3" y2="554.9" stroke="#333" stroke-width="1.0" />
<line x1="381.5" y1="531.6" x2="384.3" y2="531.6" stroke="#333" stroke-width="1.0" />
<line x1="381.5" y1="508.3" x2="384.3" y2="508.3" stroke="#333" stroke-width="1.0" />
<line x1="381.5" y1="485" x2="384.3" y2="485" stroke="#333" stroke-width="1.0" />
<line x1="406.9" y1="601.5" x2="406.9" y2="605" stroke="#333" stroke-width="1.0" />
<line x1="393.05" y1="530" x2="393.05" y2="538.8" stroke="#c82033" stroke-width="1.0" />
<line x1="391" y1="530" x2="395.1" y2="530" stroke="#c82033" stroke-width="1.0" />
<rect x="389.2" y="538.8" width="7.7" height="62.7" fill="#c82033" stroke="none" stroke-width="1"/>
<line x1="407" y1="536.6" x2="407" y2="544.9" stroke="#125281" stroke-width="1.0" />
<line x1="404.95" y1="536.6" x2="409.05" y2="536.6" stroke="#125281" stroke-width="1.0" />
<rect x="403.15" y="544.9" width="7.7" height="56.6" fill="#125281" stroke="none" stroke-width="1"/>
<line x1="420.95" y1="551.1" x2="420.95" y2="558.5" stroke="#3cb44f" stroke-width="1.0" />
<line x1="418.9" y1="551.1" x2="423" y2="551.1" stroke="#3cb44f" stroke-width="1.0" />
<rect x="417.1" y="558.5" width="7.7" height="43" fill="#3cb44f" stroke="none" stroke-width="1"/>
<line x1="458.2" y1="601.5" x2="458.2" y2="605" stroke="#333" stroke-width="1.0" />
<line x1="444.35" y1="533.4" x2="444.35" y2="539.4" stroke="#c82033" stroke-width="1.0" />
<line x1="442.3" y1="533.4" x2="446.4" y2="533.4" stroke="#c82033" stroke-width="1.0" />
<rect x="440.5" y="539.4" width="7.7" height="62.1" fill="#c82033" stroke="none" stroke-width="1"/>
<line x1="458.3" y1="518.5" x2="458.3" y2="529.5" stroke="#125281" stroke-width="1.0" />
<line x1="456.25" y1="518.5" x2="460.35" y2="518.5" stroke="#125281" stroke-width="1.0" />
<rect x="454.45" y="529.5" width="7.7" height="72" fill="#125281" stroke="none" stroke-width="1"/>
<line x1="472.25" y1="508.2" x2="472.25" y2="516.2" stroke="#3cb44f" stroke-width="1.0" />
<line x1="470.2" y1="508.2" x2="474.3" y2="508.2" stroke="#3cb44f" stroke-width="1.0" />
<rect x="468.4" y="516.2" width="7.7" height="85.3" fill="#3cb44f" stroke="none" stroke-width="1"/>
<text font-size="8.67" text-anchor="middle" fill="#333" transform="translate(406.9 613.5) scale(0.9346 1)" stroke="#333" stroke-width="0.25" >6</text>
<text font-size="8.67" text-anchor="middle" fill="#333" transform="translate(458.2 613.5) scale(0.9346 1)" stroke="#333" stroke-width="0.25" >30</text>
<line x1="393.8" y1="523.8" x2="421.1" y2="523.8" stroke="#444" stroke-width="1.0" />
<circle cx="405.95" cy="520.7" r="0.85" fill="#333"/>
<circle cx="408.95" cy="520.7" r="0.85" fill="#333"/>
<line x1="444.6" y1="502.3" x2="472" y2="502.3" stroke="#444" stroke-width="1.0" />
<circle cx="455.3" cy="499.2" r="0.85" fill="#333"/>
<circle cx="458.3" cy="499.2" r="0.85" fill="#333"/>
<circle cx="461.3" cy="499.2" r="0.85" fill="#333"/>
<text font-size="9.2" text-anchor="start" fill="#333" transform="translate(37.6 555.4) rotate(-90)" font-weight="bold" stroke="#333" stroke-width="0.05" textLength="22.5" lengthAdjust="spacingAndGlyphs" >TfR MFI</text>
<text font-size="9.74" text-anchor="start" fill="#231f20" transform="translate(92.2 475.3)" stroke="#231f20" stroke-width="0.25" textLength="23.1" lengthAdjust="spacingAndGlyphs" >CD34</text>
<text font-size="7.06" text-anchor="start" fill="#231f20" transform="translate(116.7 473.6) scale(0.9346 1)" stroke="#231f20" stroke-width="0.25" >+</text>
<text font-size="9.74" text-anchor="start" fill="#231f20" transform="translate(121.2 475.3)" stroke="#231f20" stroke-width="0.25" textLength="23.1" lengthAdjust="spacingAndGlyphs" >CD41</text>
<text font-size="7.06" text-anchor="start" fill="#231f20" transform="translate(144.4 472.6) scale(0.9346 1)" stroke="#231f20" stroke-width="0.25" >&#8722;</text>
<text font-size="9.74" text-anchor="start" fill="#231f20" transform="translate(248.1 475.3)" stroke="#231f20" stroke-width="0.25" textLength="23.1" lengthAdjust="spacingAndGlyphs" >CD34</text>
<text font-size="7.06" text-anchor="start" fill="#231f20" transform="translate(271.7 473.6) scale(0.9346 1)" stroke="#231f20" stroke-width="0.25" >+</text>
<text font-size="9.74" text-anchor="start" fill="#231f20" transform="translate(277 475.3)" stroke="#231f20" stroke-width="0.25" textLength="22.2" lengthAdjust="spacingAndGlyphs" >CD41</text>
<text font-size="7.06" text-anchor="start" fill="#231f20" transform="translate(300.6 473.6) scale(0.9346 1)" stroke="#231f20" stroke-width="0.25" >+</text>
<text font-size="9.74" text-anchor="start" fill="#231f20" transform="translate(404.7 475.3)" stroke="#231f20" stroke-width="0.25" textLength="22.9" lengthAdjust="spacingAndGlyphs" >CD34</text>
<text font-size="7.06" text-anchor="start" fill="#231f20" transform="translate(427.9 473.3) scale(0.9346 1)" stroke="#231f20" stroke-width="0.25" >&#8722;</text>
<text font-size="9.74" text-anchor="start" fill="#231f20" transform="translate(433 475.3)" stroke="#231f20" stroke-width="0.25" textLength="22.4" lengthAdjust="spacingAndGlyphs" >CD41</text>
<text font-size="7.06" text-anchor="start" fill="#231f20" transform="translate(456.6 473.6) scale(0.9346 1)" stroke="#231f20" stroke-width="0.25" >+</text>
<rect x="484.9" y="482.8" width="6.1" height="6.1" fill="#c82033" stroke="none" stroke-width="1"/>
<text font-size="7.92" text-anchor="start" fill="#333" transform="translate(494 488.4) scale(0.9346 1)" stroke="#333" stroke-width="0.25" >0%</text>
<rect x="484.9" y="494.5" width="6.1" height="6.1" fill="#125281" stroke="none" stroke-width="1"/>
<text font-size="7.92" text-anchor="start" fill="#333" transform="translate(494 500.1) scale(0.9346 1)" stroke="#333" stroke-width="0.25" >10%</text>
<rect x="484.9" y="506" width="6.1" height="6.1" fill="#3cb44f" stroke="none" stroke-width="1"/>
<text font-size="7.92" text-anchor="start" fill="#333" transform="translate(494 511.6) scale(0.9346 1)" stroke="#333" stroke-width="0.25" >100%</text>
<text font-size="9.2" text-anchor="start" fill="#333" transform="translate(419.6 625.2)" font-weight="bold" stroke="#333" stroke-width="0.05" textLength="26.1" lengthAdjust="spacingAndGlyphs" >ELT (&#956;M)</text>
<rect x="0.6" y="0.6" width="518.8" height="631.8" fill="none" stroke="#111" stroke-width="1.2"/>
</g></svg>
</body></html>
